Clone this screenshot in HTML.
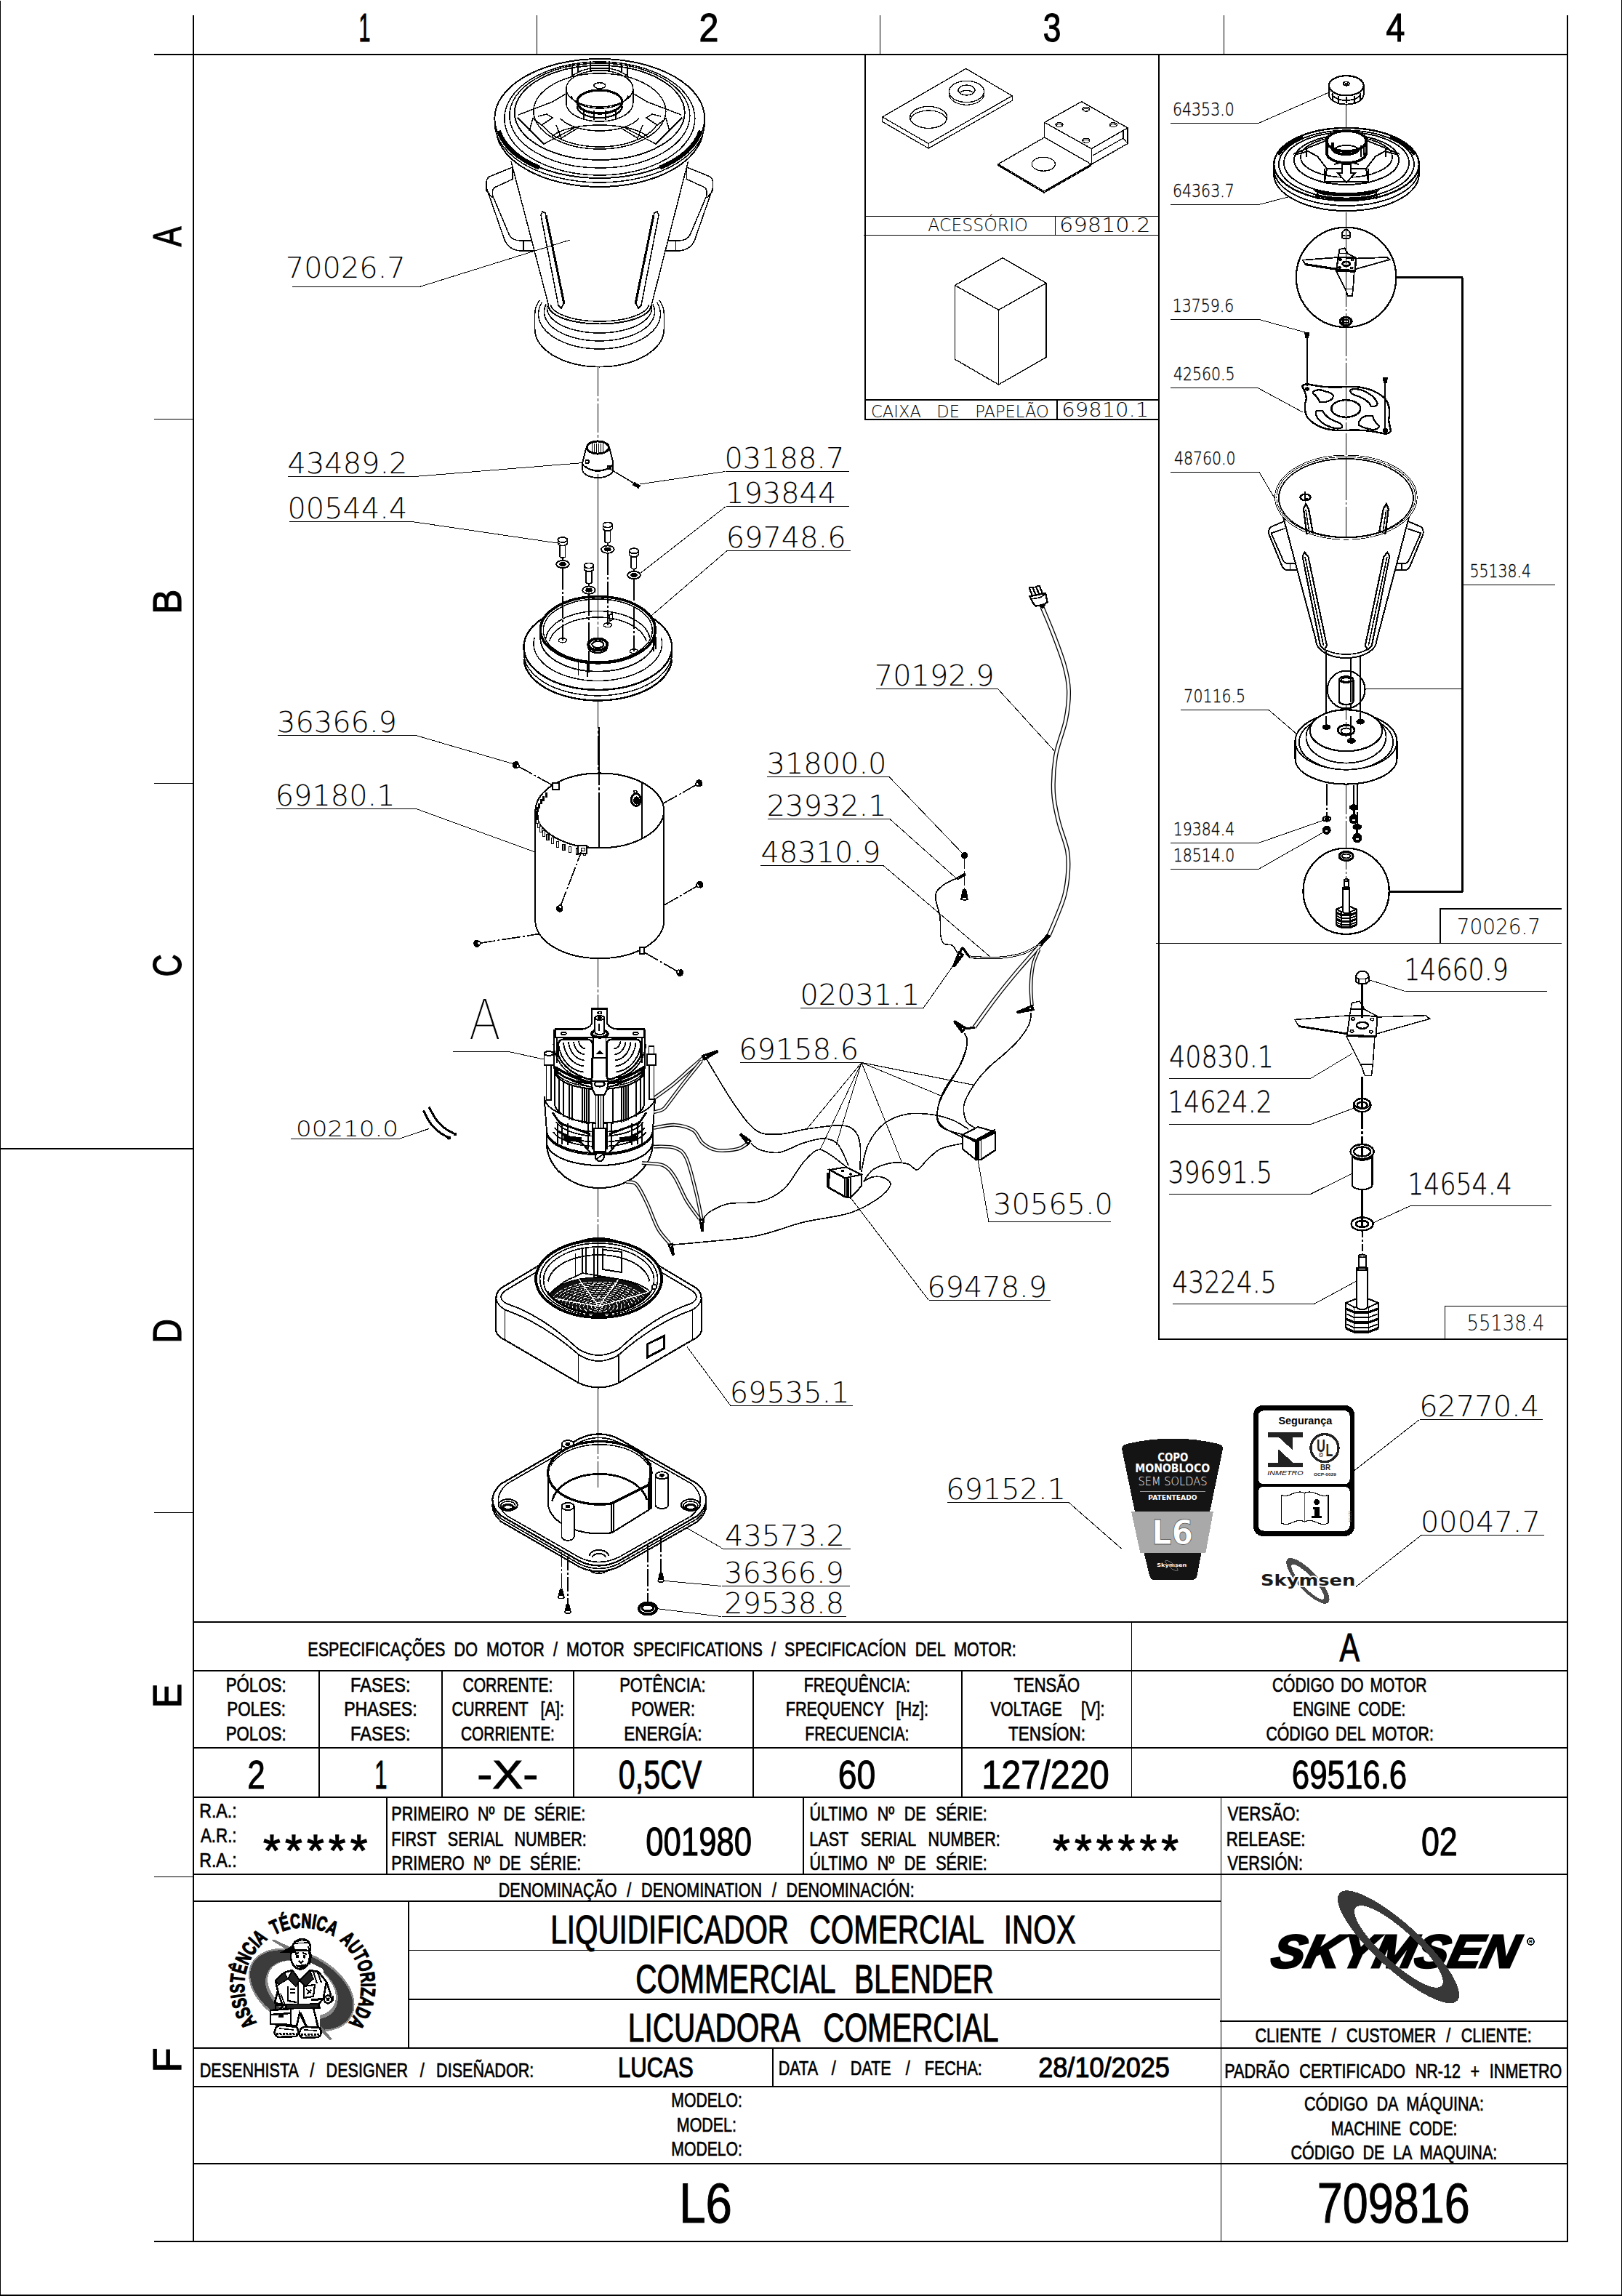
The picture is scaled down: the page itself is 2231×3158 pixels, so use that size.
<!DOCTYPE html>
<html><head><meta charset="utf-8"><title>L6 - 709816</title>
<style>html,body{margin:0;padding:0;background:#fff}svg{display:block}text{white-space:pre}</style>
</head><body>
<svg width="2231" height="3158" viewBox="0 0 2231 3158">
<rect width="2231" height="3158" fill="#fff"/>
<g shape-rendering="crispEdges">
<rect x="0" y="1" width="1" height="3157" fill="#000"/>
<rect x="2230" y="0" width="1" height="3158" fill="#000"/>
<rect x="0" y="3156" width="2231" height="2" fill="#000"/>
<rect x="265" y="21" width="2" height="3063" fill="#000"/>
<rect x="2155" y="21" width="2" height="3063" fill="#000"/>
<rect x="212" y="74" width="1945" height="2" fill="#000"/>
<rect x="212" y="3082" width="1945" height="2" fill="#000"/>
<rect x="738" y="21" width="1" height="54" fill="#000"/>
<rect x="1210" y="21" width="1" height="54" fill="#000"/>
<rect x="1683" y="21" width="1" height="54" fill="#000"/>
<rect x="212" y="576" width="54" height="1" fill="#000"/>
<rect x="212" y="1077" width="54" height="1" fill="#000"/>
<rect x="212" y="2080" width="54" height="1" fill="#000"/>
<rect x="212" y="2581" width="54" height="1" fill="#000"/>
<rect x="0" y="1579" width="266" height="2" fill="#000"/>
<rect x="1189" y="75" width="2" height="502" fill="#000"/>
<rect x="1593" y="75" width="2" height="1767" fill="#000"/>
<rect x="1190" y="297" width="404" height="1" fill="#000"/>
<rect x="1188" y="323" width="406" height="1" fill="#000"/>
<rect x="1451" y="297" width="1" height="27" fill="#000"/>
<rect x="1189" y="549" width="406" height="2" fill="#000"/>
<rect x="1189" y="576" width="406" height="2" fill="#000"/>
<rect x="1453" y="550" width="2" height="27" fill="#000"/>
<rect x="1590" y="1297" width="558" height="1" fill="#000"/>
<rect x="1980" y="1250" width="2" height="48" fill="#000"/>
<rect x="1980" y="1249" width="168" height="2" fill="#000"/>
<rect x="1593" y="1841" width="564" height="2" fill="#000"/>
<rect x="1987" y="1796" width="1" height="46" fill="#000"/>
<rect x="1987" y="1796" width="169" height="1" fill="#000"/>
<rect x="266" y="2230" width="1890" height="2" fill="#000"/>
<rect x="266" y="2297" width="1890" height="2" fill="#000"/>
<rect x="266" y="2403" width="1890" height="2" fill="#000"/>
<rect x="266" y="2471" width="1890" height="2" fill="#000"/>
<rect x="266" y="2577" width="1890" height="2" fill="#000"/>
<rect x="266" y="2816" width="1890" height="2" fill="#000"/>
<rect x="266" y="2869" width="1890" height="2" fill="#000"/>
<rect x="266" y="2975" width="1890" height="2" fill="#000"/>
<rect x="266" y="2614" width="1413" height="2" fill="#000"/>
<rect x="438" y="2298" width="2" height="174" fill="#000"/>
<rect x="607" y="2298" width="2" height="174" fill="#000"/>
<rect x="788" y="2298" width="2" height="174" fill="#000"/>
<rect x="1035" y="2298" width="2" height="174" fill="#000"/>
<rect x="1322" y="2298" width="2" height="174" fill="#000"/>
<rect x="1556" y="2231" width="1" height="241" fill="#000"/>
<rect x="531" y="2472" width="2" height="106" fill="#000"/>
<rect x="1104" y="2472" width="2" height="106" fill="#000"/>
<rect x="1679" y="2472" width="1" height="611" fill="#000"/>
<rect x="561" y="2614" width="2" height="202" fill="#000"/>
<rect x="562" y="2682" width="1116" height="1" fill="#000"/>
<rect x="562" y="2749" width="1116" height="2" fill="#000"/>
<rect x="1678" y="2779" width="478" height="2" fill="#000"/>
<rect x="1062" y="2816" width="2" height="54" fill="#000"/>
<text transform="translate(493.44 57.00) scale(0.5163 1)" font-family='"Liberation Sans", sans-serif' font-weight="normal" font-style="normal" font-size="55.65" fill="#000"  stroke="#000" stroke-width="1.2">1</text>
<text transform="translate(961.58 57.00) scale(0.8688 1)" font-family='"Liberation Sans", sans-serif' font-weight="normal" font-style="normal" font-size="55.65" fill="#000"  stroke="#000" stroke-width="1.2">2</text>
<text transform="translate(1434.73 57.00) scale(0.7944 1)" font-family='"Liberation Sans", sans-serif' font-weight="normal" font-style="normal" font-size="55.65" fill="#000"  stroke="#000" stroke-width="1.2">3</text>
<text transform="translate(1906.57 57.00) scale(0.8362 1)" font-family='"Liberation Sans", sans-serif' font-weight="normal" font-style="normal" font-size="55.65" fill="#000"  stroke="#000" stroke-width="1.2">4</text>
<g transform="translate(249 325.5) rotate(-90)"><text transform="translate(-13.75 0.00) scale(0.7411 1)" font-family='"Liberation Sans", sans-serif' font-weight="normal" font-style="normal" font-size="55.80" fill="#000"  stroke="#000" stroke-width="1.2">A</text></g>
<g transform="translate(249 827) rotate(-90)"><text transform="translate(-17.86 0.00) scale(0.9212 1)" font-family='"Liberation Sans", sans-serif' font-weight="normal" font-style="normal" font-size="55.80" fill="#000"  stroke="#000" stroke-width="1.2">B</text></g>
<g transform="translate(249 1327.5) rotate(-90)"><text transform="translate(-15.92 0.00) scale(0.7762 1)" font-family='"Liberation Sans", sans-serif' font-weight="normal" font-style="normal" font-size="55.80" fill="#000"  stroke="#000" stroke-width="1.2">C</text></g>
<g transform="translate(249 1830) rotate(-90)"><text transform="translate(-17.45 0.00) scale(0.8283 1)" font-family='"Liberation Sans", sans-serif' font-weight="normal" font-style="normal" font-size="55.80" fill="#000"  stroke="#000" stroke-width="1.2">D</text></g>
<g transform="translate(249 2331.5) rotate(-90)"><text transform="translate(-17.79 0.00) scale(0.9043 1)" font-family='"Liberation Sans", sans-serif' font-weight="normal" font-style="normal" font-size="55.80" fill="#000"  stroke="#000" stroke-width="1.2">E</text></g>
<g transform="translate(249 2832.5) rotate(-90)"><text transform="translate(-18.24 0.00) scale(1.0058 1)" font-family='"Liberation Sans", sans-serif' font-weight="normal" font-style="normal" font-size="55.80" fill="#000"  stroke="#000" stroke-width="1.2">F</text></g>
<text transform="translate(423.27 2277.90) scale(0.7750 1)" font-family='"Liberation Sans", sans-serif' font-weight="normal" font-style="normal" font-size="27.83" fill="#000" word-spacing="7.88"  stroke="#000" stroke-width="0.7">ESPECIFICAÇÕES DO MOTOR / MOTOR SPECIFICATIONS / SPECIFICACÍON DEL MOTOR:</text>
<text transform="translate(1842.50 2285.00) scale(0.7431 1)" font-family='"Liberation Sans", sans-serif' font-weight="normal" font-style="normal" font-size="55.65" fill="#000"  stroke="#000" stroke-width="1.1">A</text>
<text transform="translate(310.72 2326.90) scale(0.7997 1)" font-family='"Liberation Sans", sans-serif' font-weight="normal" font-style="normal" font-size="27.83" fill="#000"  stroke="#000" stroke-width="0.7">PÓLOS:</text>
<text transform="translate(312.21 2360.40) scale(0.8044 1)" font-family='"Liberation Sans", sans-serif' font-weight="normal" font-style="normal" font-size="27.83" fill="#000"  stroke="#000" stroke-width="0.7">POLES:</text>
<text transform="translate(310.72 2394.40) scale(0.7997 1)" font-family='"Liberation Sans", sans-serif' font-weight="normal" font-style="normal" font-size="27.83" fill="#000"  stroke="#000" stroke-width="0.7">POLOS:</text>
<text transform="translate(482.11 2326.90) scale(0.8472 1)" font-family='"Liberation Sans", sans-serif' font-weight="normal" font-style="normal" font-size="27.83" fill="#000"  stroke="#000" stroke-width="0.7">FASES:</text>
<text transform="translate(473.14 2360.40) scale(0.8336 1)" font-family='"Liberation Sans", sans-serif' font-weight="normal" font-style="normal" font-size="27.83" fill="#000"  stroke="#000" stroke-width="0.7">PHASES:</text>
<text transform="translate(482.11 2394.40) scale(0.8472 1)" font-family='"Liberation Sans", sans-serif' font-weight="normal" font-style="normal" font-size="27.83" fill="#000"  stroke="#000" stroke-width="0.7">FASES:</text>
<text transform="translate(636.45 2326.90) scale(0.7569 1)" font-family='"Liberation Sans", sans-serif' font-weight="normal" font-style="normal" font-size="27.83" fill="#000"  stroke="#000" stroke-width="0.7">CORRENTE:</text>
<text transform="translate(621.42 2360.40) scale(0.7750 1)" font-family='"Liberation Sans", sans-serif' font-weight="normal" font-style="normal" font-size="27.83" fill="#000" word-spacing="14.48"  stroke="#000" stroke-width="0.7">CURRENT [A]:</text>
<text transform="translate(633.95 2394.40) scale(0.7516 1)" font-family='"Liberation Sans", sans-serif' font-weight="normal" font-style="normal" font-size="27.83" fill="#000"  stroke="#000" stroke-width="0.7">CORRIENTE:</text>
<text transform="translate(852.24 2326.90) scale(0.7890 1)" font-family='"Liberation Sans", sans-serif' font-weight="normal" font-style="normal" font-size="27.83" fill="#000"  stroke="#000" stroke-width="0.7">POTÊNCIA:</text>
<text transform="translate(868.27 2360.40) scale(0.7770 1)" font-family='"Liberation Sans", sans-serif' font-weight="normal" font-style="normal" font-size="27.83" fill="#000"  stroke="#000" stroke-width="0.7">POWER:</text>
<text transform="translate(858.20 2394.40) scale(0.8077 1)" font-family='"Liberation Sans", sans-serif' font-weight="normal" font-style="normal" font-size="27.83" fill="#000"  stroke="#000" stroke-width="0.7">ENERGÍA:</text>
<text transform="translate(1105.79 2326.90) scale(0.7689 1)" font-family='"Liberation Sans", sans-serif' font-weight="normal" font-style="normal" font-size="27.83" fill="#000"  stroke="#000" stroke-width="0.7">FREQUÊNCIA:</text>
<text transform="translate(1080.77 2360.40) scale(0.7750 1)" font-family='"Liberation Sans", sans-serif' font-weight="normal" font-style="normal" font-size="27.83" fill="#000" word-spacing="14.09"  stroke="#000" stroke-width="0.7">FREQUENCY [Hz]:</text>
<text transform="translate(1107.31 2394.40) scale(0.7590 1)" font-family='"Liberation Sans", sans-serif' font-weight="normal" font-style="normal" font-size="27.83" fill="#000"  stroke="#000" stroke-width="0.7">FRECUENCIA:</text>
<text transform="translate(1394.56 2326.90) scale(0.7907 1)" font-family='"Liberation Sans", sans-serif' font-weight="normal" font-style="normal" font-size="27.83" fill="#000"  stroke="#000" stroke-width="0.7">TENSÃO</text>
<text transform="translate(1362.39 2360.40) scale(0.7750 1)" font-family='"Liberation Sans", sans-serif' font-weight="normal" font-style="normal" font-size="27.83" fill="#000" word-spacing="25.95"  stroke="#000" stroke-width="0.7">VOLTAGE [V]:</text>
<text transform="translate(1387.05 2394.40) scale(0.8068 1)" font-family='"Liberation Sans", sans-serif' font-weight="normal" font-style="normal" font-size="27.83" fill="#000"  stroke="#000" stroke-width="0.7">TENSÍON:</text>
<text transform="translate(1749.95 2326.90) scale(0.7549 1)" font-family='"Liberation Sans", sans-serif' font-weight="normal" font-style="normal" font-size="27.83" fill="#000" word-spacing="4.18"  stroke="#000" stroke-width="0.7">CÓDIGO DO MOTOR</text>
<text transform="translate(1778.35 2360.40) scale(0.7433 1)" font-family='"Liberation Sans", sans-serif' font-weight="normal" font-style="normal" font-size="27.83" fill="#000" word-spacing="6.11"  stroke="#000" stroke-width="0.7">ENGINE CODE:</text>
<text transform="translate(1741.43 2394.40) scale(0.7655 1)" font-family='"Liberation Sans", sans-serif' font-weight="normal" font-style="normal" font-size="27.83" fill="#000" word-spacing="4.46"  stroke="#000" stroke-width="0.7">CÓDIGO DEL MOTOR:</text>
<text transform="translate(340.30 2460.00) scale(0.7878 1)" font-family='"Liberation Sans", sans-serif' font-weight="normal" font-style="normal" font-size="55.80" fill="#000"  stroke="#000" stroke-width="1.1">2</text>
<text transform="translate(515.17 2460.00) scale(0.5562 1)" font-family='"Liberation Sans", sans-serif' font-weight="normal" font-style="normal" font-size="55.80" fill="#000"  stroke="#000" stroke-width="1.1">1</text>
<text transform="translate(656.16 2460.00) scale(1.1300 1)" font-family='"Liberation Sans", sans-serif' font-weight="normal" font-style="normal" font-size="55.80" fill="#000"  stroke="#000" stroke-width="1.1">-X-</text>
<text transform="translate(850.85 2460.00) scale(0.7385 1)" font-family='"Liberation Sans", sans-serif' font-weight="normal" font-style="normal" font-size="55.80" fill="#000"  stroke="#000" stroke-width="1.1">0,5CV</text>
<text transform="translate(1152.68 2460.00) scale(0.8305 1)" font-family='"Liberation Sans", sans-serif' font-weight="normal" font-style="normal" font-size="55.80" fill="#000"  stroke="#000" stroke-width="1.1">60</text>
<text transform="translate(1350.36 2460.00) scale(0.8693 1)" font-family='"Liberation Sans", sans-serif' font-weight="normal" font-style="normal" font-size="55.80" fill="#000"  stroke="#000" stroke-width="1.1">127/220</text>
<text transform="translate(1776.81 2460.00) scale(0.7855 1)" font-family='"Liberation Sans", sans-serif' font-weight="normal" font-style="normal" font-size="55.80" fill="#000"  stroke="#000" stroke-width="1.1">69516.6</text>
<text transform="translate(274.15 2500.40) scale(0.8327 1)" font-family='"Liberation Sans", sans-serif' font-weight="normal" font-style="normal" font-size="27.83" fill="#000"  stroke="#000" stroke-width="0.7">R.A.:</text>
<text transform="translate(276.00 2533.90) scale(0.8014 1)" font-family='"Liberation Sans", sans-serif' font-weight="normal" font-style="normal" font-size="27.83" fill="#000"  stroke="#000" stroke-width="0.7">A.R.:</text>
<text transform="translate(274.15 2567.90) scale(0.8327 1)" font-family='"Liberation Sans", sans-serif' font-weight="normal" font-style="normal" font-size="27.83" fill="#000"  stroke="#000" stroke-width="0.7">R.A.:</text>
<text transform="translate(538.27 2503.90) scale(0.7750 1)" font-family='"Liberation Sans", sans-serif' font-weight="normal" font-style="normal" font-size="27.83" fill="#000" word-spacing="7.97"  stroke="#000" stroke-width="0.7">PRIMEIRO Nº DE SÉRIE:</text>
<text transform="translate(538.27 2538.90) scale(0.7750 1)" font-family='"Liberation Sans", sans-serif' font-weight="normal" font-style="normal" font-size="27.83" fill="#000" word-spacing="12.57"  stroke="#000" stroke-width="0.7">FIRST SERIAL NUMBER:</text>
<text transform="translate(538.27 2571.90) scale(0.7750 1)" font-family='"Liberation Sans", sans-serif' font-weight="normal" font-style="normal" font-size="27.83" fill="#000" word-spacing="7.94"  stroke="#000" stroke-width="0.7">PRIMERO Nº DE SÉRIE:</text>
<text transform="translate(888.25 2552.00) scale(0.7834 1)" font-family='"Liberation Sans", sans-serif' font-weight="normal" font-style="normal" font-size="55.80" fill="#000"  stroke="#000" stroke-width="1.1">001980</text>
<text transform="translate(1113.38 2503.90) scale(0.7750 1)" font-family='"Liberation Sans", sans-serif' font-weight="normal" font-style="normal" font-size="27.83" fill="#000" word-spacing="9.74"  stroke="#000" stroke-width="0.7">ÚLTIMO Nº DE SÉRIE:</text>
<text transform="translate(1113.27 2538.90) scale(0.7750 1)" font-family='"Liberation Sans", sans-serif' font-weight="normal" font-style="normal" font-size="27.83" fill="#000" word-spacing="14.05"  stroke="#000" stroke-width="0.7">LAST SERIAL NUMBER:</text>
<text transform="translate(1113.38 2571.90) scale(0.7750 1)" font-family='"Liberation Sans", sans-serif' font-weight="normal" font-style="normal" font-size="27.83" fill="#000" word-spacing="9.74"  stroke="#000" stroke-width="0.7">ÚLTIMO Nº DE SÉRIE:</text>
<text transform="translate(1688.39 2503.90) scale(0.8055 1)" font-family='"Liberation Sans", sans-serif' font-weight="normal" font-style="normal" font-size="27.83" fill="#000"  stroke="#000" stroke-width="0.7">VERSÃO:</text>
<text transform="translate(1686.72 2538.90) scale(0.7995 1)" font-family='"Liberation Sans", sans-serif' font-weight="normal" font-style="normal" font-size="27.83" fill="#000"  stroke="#000" stroke-width="0.7">RELEASE:</text>
<text transform="translate(1688.39 2571.90) scale(0.7794 1)" font-family='"Liberation Sans", sans-serif' font-weight="normal" font-style="normal" font-size="27.83" fill="#000"  stroke="#000" stroke-width="0.7">VERSIÓN:</text>
<text transform="translate(1954.91 2552.00) scale(0.8030 1)" font-family='"Liberation Sans", sans-serif' font-weight="normal" font-style="normal" font-size="55.80" fill="#000"  stroke="#000" stroke-width="1.1">02</text>
<text transform="translate(685.77 2608.90) scale(0.7750 1)" font-family='"Liberation Sans", sans-serif' font-weight="normal" font-style="normal" font-size="27.83" fill="#000" word-spacing="10.03"  stroke="#000" stroke-width="0.7">DENOMINAÇÃO / DENOMINATION / DENOMINACIÓN:</text>
<text transform="translate(757.27 2672.90) scale(0.7300 1)" font-family='"Liberation Sans", sans-serif' font-weight="normal" font-style="normal" font-size="55.36" fill="#000" word-spacing="23.76"  stroke="#000" stroke-width="1.1">LIQUIDIFICADOR COMERCIAL INOX</text>
<text transform="translate(874.27 2740.50) scale(0.7300 1)" font-family='"Liberation Sans", sans-serif' font-weight="normal" font-style="normal" font-size="55.65" fill="#000" word-spacing="21.38"  stroke="#000" stroke-width="1.1">COMMERCIAL BLENDER</text>
<text transform="translate(863.85 2807.90) scale(0.7300 1)" font-family='"Liberation Sans", sans-serif' font-weight="normal" font-style="normal" font-size="55.65" fill="#000" word-spacing="30.62"  stroke="#000" stroke-width="1.1">LICUADORA COMERCIAL</text>
<text transform="translate(274.77 2856.90) scale(0.7750 1)" font-family='"Liberation Sans", sans-serif' font-weight="normal" font-style="normal" font-size="27.83" fill="#000" word-spacing="13.53"  stroke="#000" stroke-width="0.7">DESENHISTA / DESIGNER / DISEÑADOR:</text>
<text transform="translate(850.01 2857.30) scale(0.7991 1)" font-family='"Liberation Sans", sans-serif' font-weight="normal" font-style="normal" font-size="38.99" fill="#000"  stroke="#000" stroke-width="1.1">LUCAS</text>
<text transform="translate(1070.77 2853.90) scale(0.7750 1)" font-family='"Liberation Sans", sans-serif' font-weight="normal" font-style="normal" font-size="27.83" fill="#000" word-spacing="18.10"  stroke="#000" stroke-width="0.7">DATA / DATE / FECHA:</text>
<text transform="translate(1428.19 2857.30) scale(0.9263 1)" font-family='"Liberation Sans", sans-serif' font-weight="normal" font-style="normal" font-size="38.99" fill="#000"  stroke="#000" stroke-width="1.1">28/10/2025</text>
<text transform="translate(1726.42 2808.90) scale(0.7750 1)" font-family='"Liberation Sans", sans-serif' font-weight="normal" font-style="normal" font-size="27.83" fill="#000" word-spacing="10.78"  stroke="#000" stroke-width="0.7">CLIENTE / CUSTOMER / CLIENTE:</text>
<text transform="translate(1684.27 2857.90) scale(0.7750 1)" font-family='"Liberation Sans", sans-serif' font-weight="normal" font-style="normal" font-size="27.83" fill="#000" word-spacing="9.91"  stroke="#000" stroke-width="0.7">PADRÃO CERTIFICADO NR-12 + INMETRO</text>
<text transform="translate(923.31 2897.90) scale(0.7608 1)" font-family='"Liberation Sans", sans-serif' font-weight="normal" font-style="normal" font-size="27.83" fill="#000"  stroke="#000" stroke-width="0.7">MODELO:</text>
<text transform="translate(930.78 2931.90) scale(0.7708 1)" font-family='"Liberation Sans", sans-serif' font-weight="normal" font-style="normal" font-size="27.83" fill="#000"  stroke="#000" stroke-width="0.7">MODEL:</text>
<text transform="translate(923.31 2965.40) scale(0.7608 1)" font-family='"Liberation Sans", sans-serif' font-weight="normal" font-style="normal" font-size="27.83" fill="#000"  stroke="#000" stroke-width="0.7">MODELO:</text>
<text transform="translate(1793.92 2902.90) scale(0.7750 1)" font-family='"Liberation Sans", sans-serif' font-weight="normal" font-style="normal" font-size="27.83" fill="#000" word-spacing="7.92"  stroke="#000" stroke-width="0.7">CÓDIGO DA MÁQUINA:</text>
<text transform="translate(1830.83 2936.90) scale(0.7516 1)" font-family='"Liberation Sans", sans-serif' font-weight="normal" font-style="normal" font-size="27.83" fill="#000" word-spacing="6.79"  stroke="#000" stroke-width="0.7">MACHINE CODE:</text>
<text transform="translate(1775.42 2970.40) scale(0.7750 1)" font-family='"Liberation Sans", sans-serif' font-weight="normal" font-style="normal" font-size="27.83" fill="#000" word-spacing="7.24"  stroke="#000" stroke-width="0.7">CÓDIGO DE LA MAQUINA:</text>
<text transform="translate(934.27 3056.80) scale(0.8351 1)" font-family='"Liberation Sans", sans-serif' font-weight="normal" font-style="normal" font-size="78.26" fill="#000"  stroke="#000" stroke-width="1.1">L6</text>
<text transform="translate(1811.86 3056.80) scale(0.8033 1)" font-family='"Liberation Sans", sans-serif' font-weight="normal" font-style="normal" font-size="78.26" fill="#000"  stroke="#000" stroke-width="1.1">709816</text>
<text transform="translate(362.08 2565.63) scale(0.9857 1)" font-family='"Liberation Sans", sans-serif' font-size="62.00" stroke="#000" stroke-width="1.3">*</text><text transform="translate(392.01 2565.63) scale(0.9857 1)" font-family='"Liberation Sans", sans-serif' font-size="62.00" stroke="#000" stroke-width="1.3">*</text><text transform="translate(421.93 2565.63) scale(0.9857 1)" font-family='"Liberation Sans", sans-serif' font-size="62.00" stroke="#000" stroke-width="1.3">*</text><text transform="translate(451.86 2565.63) scale(0.9857 1)" font-family='"Liberation Sans", sans-serif' font-size="62.00" stroke="#000" stroke-width="1.3">*</text><text transform="translate(481.78 2565.63) scale(0.9857 1)" font-family='"Liberation Sans", sans-serif' font-size="62.00" stroke="#000" stroke-width="1.3">*</text>
<text transform="translate(1448.08 2565.63) scale(0.9857 1)" font-family='"Liberation Sans", sans-serif' font-size="62.00" stroke="#000" stroke-width="1.3">*</text><text transform="translate(1477.92 2565.63) scale(0.9857 1)" font-family='"Liberation Sans", sans-serif' font-size="62.00" stroke="#000" stroke-width="1.3">*</text><text transform="translate(1507.76 2565.63) scale(0.9857 1)" font-family='"Liberation Sans", sans-serif' font-size="62.00" stroke="#000" stroke-width="1.3">*</text><text transform="translate(1537.60 2565.63) scale(0.9857 1)" font-family='"Liberation Sans", sans-serif' font-size="62.00" stroke="#000" stroke-width="1.3">*</text><text transform="translate(1567.44 2565.63) scale(0.9857 1)" font-family='"Liberation Sans", sans-serif' font-size="62.00" stroke="#000" stroke-width="1.3">*</text><text transform="translate(1597.28 2565.63) scale(0.9857 1)" font-family='"Liberation Sans", sans-serif' font-size="62.00" stroke="#000" stroke-width="1.3">*</text>
<text transform="translate(392.81 382.00) scale(1.0400 1)" font-family='"DejaVu Sans Light", "DejaVu Sans", sans-serif' font-weight="200" font-style="normal" font-size="38.36" fill="#000" >70026.7</text>
<polyline points="402,394.5 577,394.5" fill="none" stroke="#000" stroke-width="1" />
<polyline points="577,394.5 784,330" fill="none" stroke="#000" stroke-width="1" />
<text transform="translate(395.51 651.30) scale(1.0400 1)" font-family='"DejaVu Sans Light", "DejaVu Sans", sans-serif' font-weight="200" font-style="normal" font-size="38.36" fill="#000" >43489.2</text>
<polyline points="396,655.5 570,655.5" fill="none" stroke="#000" stroke-width="1" />
<polyline points="570,655.5 802,636.5" fill="none" stroke="#000" stroke-width="1" />
<text transform="translate(395.41 712.80) scale(1.0400 1)" font-family='"DejaVu Sans Light", "DejaVu Sans", sans-serif' font-weight="200" font-style="normal" font-size="38.36" fill="#000" >00544.4</text>
<polyline points="398,717.5 567,717.5" fill="none" stroke="#000" stroke-width="1" />
<polyline points="567,717.5 770,747.5" fill="none" stroke="#000" stroke-width="1" />
<text transform="translate(996.41 644.30) scale(1.0400 1)" font-family='"DejaVu Sans Light", "DejaVu Sans", sans-serif' font-weight="200" font-style="normal" font-size="38.36" fill="#000" >03188.7</text>
<polyline points="997.5,648.5 1167.5,648.5" fill="none" stroke="#000" stroke-width="1" />
<polyline points="997.5,648.5 880,666" fill="none" stroke="#000" stroke-width="1" />
<text transform="translate(998.11 691.80) scale(1.0400 1)" font-family='"DejaVu Sans Light", "DejaVu Sans", sans-serif' font-weight="200" font-style="normal" font-size="38.36" fill="#000" >193844</text>
<polyline points="998.5,696.5 1167.5,696.5" fill="none" stroke="#000" stroke-width="1" />
<polyline points="998.5,696.5 880,789" fill="none" stroke="#000" stroke-width="1" />
<text transform="translate(998.71 753.30) scale(1.0400 1)" font-family='"DejaVu Sans Light", "DejaVu Sans", sans-serif' font-weight="200" font-style="normal" font-size="38.36" fill="#000" >69748.6</text>
<polyline points="1000,757.5 1170,757.5" fill="none" stroke="#000" stroke-width="1" />
<polyline points="1000,757.5 895,847.5" fill="none" stroke="#000" stroke-width="1" />
<text transform="translate(381.01 1006.80) scale(1.0400 1)" font-family='"DejaVu Sans Light", "DejaVu Sans", sans-serif' font-weight="200" font-style="normal" font-size="38.36" fill="#000" >36366.9</text>
<polyline points="382,1011.5 572,1011.5" fill="none" stroke="#000" stroke-width="1" />
<polyline points="572,1011.5 707,1051" fill="none" stroke="#000" stroke-width="1" />
<text transform="translate(378.71 1108.30) scale(1.0400 1)" font-family='"DejaVu Sans Light", "DejaVu Sans", sans-serif' font-weight="200" font-style="normal" font-size="38.36" fill="#000" >69180.1</text>
<polyline points="380,1112.5 572.5,1112.5" fill="none" stroke="#000" stroke-width="1" />
<polyline points="572.5,1112.5 737.5,1172.5" fill="none" stroke="#000" stroke-width="1" />
<text transform="translate(1202.81 943.30) scale(1.0400 1)" font-family='"DejaVu Sans Light", "DejaVu Sans", sans-serif' font-weight="200" font-style="normal" font-size="38.36" fill="#000" >70192.9</text>
<polyline points="1205,947.5 1372.5,947.5" fill="none" stroke="#000" stroke-width="1" />
<polyline points="1372.5,947.5 1450,1032.5" fill="none" stroke="#000" stroke-width="1" />
<text transform="translate(1054.51 1064.30) scale(1.0400 1)" font-family='"DejaVu Sans Light", "DejaVu Sans", sans-serif' font-weight="200" font-style="normal" font-size="38.36" fill="#000" >31800.0</text>
<polyline points="1055,1068.5 1223,1068.5" fill="none" stroke="#000" stroke-width="1" />
<polyline points="1223,1068.5 1325,1175" fill="none" stroke="#000" stroke-width="1" />
<text transform="translate(1054.71 1121.80) scale(1.0400 1)" font-family='"DejaVu Sans Light", "DejaVu Sans", sans-serif' font-weight="200" font-style="normal" font-size="38.36" fill="#000" >23932.1</text>
<polyline points="1056,1126.5 1224,1126.5" fill="none" stroke="#000" stroke-width="1" />
<polyline points="1224,1126.5 1317.5,1210" fill="none" stroke="#000" stroke-width="1" />
<text transform="translate(1046.51 1185.80) scale(1.0400 1)" font-family='"DejaVu Sans Light", "DejaVu Sans", sans-serif' font-weight="200" font-style="normal" font-size="38.36" fill="#000" >48310.9</text>
<polyline points="1046,1190.5 1215,1190.5" fill="none" stroke="#000" stroke-width="1" />
<polyline points="1215,1190.5 1362.5,1316.5" fill="none" stroke="#000" stroke-width="1" />
<text transform="translate(1100.41 1382.30) scale(1.0400 1)" font-family='"DejaVu Sans Light", "DejaVu Sans", sans-serif' font-weight="200" font-style="normal" font-size="38.36" fill="#000" >02031.1</text>
<polyline points="1101,1386.5 1270,1386.5" fill="none" stroke="#000" stroke-width="1" />
<polyline points="1270,1386.5 1315,1322.5" fill="none" stroke="#000" stroke-width="1" />
<text transform="translate(1016.21 1457.30) scale(1.0400 1)" font-family='"DejaVu Sans Light", "DejaVu Sans", sans-serif' font-weight="200" font-style="normal" font-size="38.36" fill="#000" >69158.6</text>
<polyline points="1017.5,1461.5 1185,1461.5" fill="none" stroke="#000" stroke-width="1" />
<polyline points="1185,1461.5 1340,1492.5" fill="none" stroke="#000" stroke-width="1" />
<polyline points="1185,1461.5 1295,1507.5" fill="none" stroke="#000" stroke-width="1" />
<polyline points="1185,1461.5 1110,1552.5" fill="none" stroke="#000" stroke-width="1" />
<polyline points="1185,1461.5 1127.5,1582.5" fill="none" stroke="#000" stroke-width="1" />
<polyline points="1185,1461.5 1150,1575" fill="none" stroke="#000" stroke-width="1" />
<polyline points="1185,1461.5 1240,1597.5" fill="none" stroke="#000" stroke-width="1" />
<text transform="translate(644.54 1430.00) scale(0.8592 1)" font-family='"DejaVu Sans Light", "DejaVu Sans", sans-serif' font-weight="200" font-style="normal" font-size="76.03" fill="#000" stroke="#fff" stroke-width="1.1">A</text>
<polyline points="622.5,1446.5 700,1446.5" fill="none" stroke="#000" stroke-width="1" />
<polyline points="700,1446.5 750,1457.5" fill="none" stroke="#000" stroke-width="1" />
<text transform="translate(406.93 1562.50) scale(1.1075 1)" font-family='"DejaVu Sans Light", "DejaVu Sans", sans-serif' font-weight="200" font-style="normal" font-size="30.82" fill="#000" >00210.0</text>
<polyline points="400,1566.5 548.5,1566.5" fill="none" stroke="#000" stroke-width="1" />
<polyline points="548.5,1566.5 590,1552.5" fill="none" stroke="#000" stroke-width="1" />
<text transform="translate(1366.01 1670.00) scale(1.0400 1)" font-family='"DejaVu Sans Light", "DejaVu Sans", sans-serif' font-weight="200" font-style="normal" font-size="38.36" fill="#000" >30565.0</text>
<polyline points="1360,1680.5 1527.5,1680.5" fill="none" stroke="#000" stroke-width="1" />
<polyline points="1360,1680.5 1345,1595" fill="none" stroke="#000" stroke-width="1" />
<text transform="translate(1275.21 1783.80) scale(1.0400 1)" font-family='"DejaVu Sans Light", "DejaVu Sans", sans-serif' font-weight="200" font-style="normal" font-size="38.36" fill="#000" >69478.9</text>
<polyline points="1277.5,1788.5 1445,1788.5" fill="none" stroke="#000" stroke-width="1" />
<polyline points="1277.5,1788.5 1170,1647.5" fill="none" stroke="#000" stroke-width="1" />
<text transform="translate(1003.71 1929.30) scale(1.0400 1)" font-family='"DejaVu Sans Light", "DejaVu Sans", sans-serif' font-weight="200" font-style="normal" font-size="38.36" fill="#000" >69535.1</text>
<polyline points="1005,1933.5 1172.5,1933.5" fill="none" stroke="#000" stroke-width="1" />
<polyline points="1005,1933.5 945,1852.5" fill="none" stroke="#000" stroke-width="1" />
<text transform="translate(1301.21 2061.80) scale(1.0400 1)" font-family='"DejaVu Sans Light", "DejaVu Sans", sans-serif' font-weight="200" font-style="normal" font-size="38.36" fill="#000" >69152.1</text>
<polyline points="1302.5,2066.5 1470,2066.5" fill="none" stroke="#000" stroke-width="1" />
<polyline points="1470,2066.5 1542.5,2130" fill="none" stroke="#000" stroke-width="1" />
<text transform="translate(997.01 2125.80) scale(1.0400 1)" font-family='"DejaVu Sans Light", "DejaVu Sans", sans-serif' font-weight="200" font-style="normal" font-size="38.36" fill="#000" >43573.2</text>
<polyline points="995,2130.5 1170,2130.5" fill="none" stroke="#000" stroke-width="1" />
<polyline points="995,2130.5 937.5,2097.5" fill="none" stroke="#000" stroke-width="1" />
<text transform="translate(996.01 2177.30) scale(1.0400 1)" font-family='"DejaVu Sans Light", "DejaVu Sans", sans-serif' font-weight="200" font-style="normal" font-size="38.36" fill="#000" >36366.9</text>
<polyline points="992.5,2181.5 1168.5,2181.5" fill="none" stroke="#000" stroke-width="1" />
<polyline points="992.5,2181.5 910,2174" fill="none" stroke="#000" stroke-width="1" />
<text transform="translate(996.21 2219.30) scale(1.0400 1)" font-family='"DejaVu Sans Light", "DejaVu Sans", sans-serif' font-weight="200" font-style="normal" font-size="38.36" fill="#000" >29538.8</text>
<polyline points="992.5,2223.5 1164,2223.5" fill="none" stroke="#000" stroke-width="1" />
<polyline points="992.5,2223.5 902.5,2212.5" fill="none" stroke="#000" stroke-width="1" />
<text transform="translate(1952.21 1948.30) scale(1.0400 1)" font-family='"DejaVu Sans Light", "DejaVu Sans", sans-serif' font-weight="200" font-style="normal" font-size="38.36" fill="#000" >62770.4</text>
<polyline points="1952.5,1952.5 2121.5,1952.5" fill="none" stroke="#000" stroke-width="1" />
<polyline points="1952.5,1952.5 1863,2022.5" fill="none" stroke="#000" stroke-width="1" />
<text transform="translate(1953.91 2107.30) scale(1.0400 1)" font-family='"DejaVu Sans Light", "DejaVu Sans", sans-serif' font-weight="200" font-style="normal" font-size="38.36" fill="#000" >00047.7</text>
<polyline points="1955,2111.5 2124,2111.5" fill="none" stroke="#000" stroke-width="1" />
<polyline points="1955,2111.5 1865,2182.5" fill="none" stroke="#000" stroke-width="1" />
<text transform="translate(1613.06 159.10) scale(0.8300 1)" font-family='"DejaVu Sans Light", "DejaVu Sans", sans-serif' font-weight="200" font-style="normal" font-size="24.66" fill="#000"  stroke="#000" stroke-width="0.35">64353.0</text>
<polyline points="1610,169.5 1731,169.5" fill="none" stroke="#000" stroke-width="1" />
<polyline points="1731,169.5 1827,127.5" fill="none" stroke="#000" stroke-width="1" />
<text transform="translate(1613.06 270.60) scale(0.8300 1)" font-family='"DejaVu Sans Light", "DejaVu Sans", sans-serif' font-weight="200" font-style="normal" font-size="24.66" fill="#000"  stroke="#000" stroke-width="0.35">64363.7</text>
<polyline points="1610,281.5 1731,281.5" fill="none" stroke="#000" stroke-width="1" />
<polyline points="1731,281.5 1776,270" fill="none" stroke="#000" stroke-width="1" />
<text transform="translate(1612.75 428.60) scale(0.8300 1)" font-family='"DejaVu Sans Light", "DejaVu Sans", sans-serif' font-weight="200" font-style="normal" font-size="24.66" fill="#000"  stroke="#000" stroke-width="0.35">13759.6</text>
<polyline points="1610,439.5 1732,439.5" fill="none" stroke="#000" stroke-width="1" />
<polyline points="1732,439.5 1795,457" fill="none" stroke="#000" stroke-width="1" />
<text transform="translate(1613.98 522.60) scale(0.8300 1)" font-family='"DejaVu Sans Light", "DejaVu Sans", sans-serif' font-weight="200" font-style="normal" font-size="24.66" fill="#000"  stroke="#000" stroke-width="0.35">42560.5</text>
<polyline points="1610,533.5 1730,533.5" fill="none" stroke="#000" stroke-width="1" />
<polyline points="1730,533.5 1792,567" fill="none" stroke="#000" stroke-width="1" />
<text transform="translate(1614.98 638.60) scale(0.8300 1)" font-family='"DejaVu Sans Light", "DejaVu Sans", sans-serif' font-weight="200" font-style="normal" font-size="24.66" fill="#000"  stroke="#000" stroke-width="0.35">48760.0</text>
<polyline points="1610,649.5 1732,649.5" fill="none" stroke="#000" stroke-width="1" />
<polyline points="1732,649.5 1765,705" fill="none" stroke="#000" stroke-width="1" />
<text transform="translate(2021.45 793.60) scale(0.8300 1)" font-family='"DejaVu Sans Light", "DejaVu Sans", sans-serif' font-weight="200" font-style="normal" font-size="24.66" fill="#000"  stroke="#000" stroke-width="0.35">55138.4</text>
<polyline points="2011.5,804.5 2139,804.5" fill="none" stroke="#000" stroke-width="1" />
<text transform="translate(1628.36 966.10) scale(0.8300 1)" font-family='"DejaVu Sans Light", "DejaVu Sans", sans-serif' font-weight="200" font-style="normal" font-size="24.66" fill="#000"  stroke="#000" stroke-width="0.35">70116.5</text>
<polyline points="1624,976.5 1745,976.5" fill="none" stroke="#000" stroke-width="1" />
<polyline points="1745,976.5 1784,1010" fill="none" stroke="#000" stroke-width="1" />
<text transform="translate(1613.75 1148.60) scale(0.8300 1)" font-family='"DejaVu Sans Light", "DejaVu Sans", sans-serif' font-weight="200" font-style="normal" font-size="24.66" fill="#000"  stroke="#000" stroke-width="0.35">19384.4</text>
<polyline points="1610,1159.5 1731,1159.5" fill="none" stroke="#000" stroke-width="1" />
<polyline points="1731,1159.5 1822.5,1127.5" fill="none" stroke="#000" stroke-width="1" />
<text transform="translate(1613.75 1185.10) scale(0.8300 1)" font-family='"DejaVu Sans Light", "DejaVu Sans", sans-serif' font-weight="200" font-style="normal" font-size="24.66" fill="#000"  stroke="#000" stroke-width="0.35">18514.0</text>
<polyline points="1610,1195.5 1731,1195.5" fill="none" stroke="#000" stroke-width="1" />
<polyline points="1731,1195.5 1822.5,1143.5" fill="none" stroke="#000" stroke-width="1" />
<text transform="translate(1931.18 1347.50) scale(0.8600 1)" font-family='"DejaVu Sans Light", "DejaVu Sans", sans-serif' font-weight="200" font-style="normal" font-size="40.41" fill="#000"  stroke="#000" stroke-width="0.3">14660.9</text>
<polyline points="1932.5,1363.5 2127.5,1363.5" fill="none" stroke="#000" stroke-width="1" />
<polyline points="1932.5,1363.5 1882.5,1347.5" fill="none" stroke="#000" stroke-width="1" />
<text transform="translate(1608.26 1467.50) scale(0.8600 1)" font-family='"DejaVu Sans Light", "DejaVu Sans", sans-serif' font-weight="200" font-style="normal" font-size="40.41" fill="#000"  stroke="#000" stroke-width="0.3">40830.1</text>
<polyline points="1608,1483.5 1802.5,1483.5" fill="none" stroke="#000" stroke-width="1" />
<polyline points="1802.5,1483.5 1860,1449" fill="none" stroke="#000" stroke-width="1" />
<text transform="translate(1606.18 1530.00) scale(0.8600 1)" font-family='"DejaVu Sans Light", "DejaVu Sans", sans-serif' font-weight="200" font-style="normal" font-size="40.41" fill="#000"  stroke="#000" stroke-width="0.3">14624.2</text>
<polyline points="1608,1546.5 1802.5,1546.5" fill="none" stroke="#000" stroke-width="1" />
<polyline points="1802.5,1546.5 1862.5,1524" fill="none" stroke="#000" stroke-width="1" />
<text transform="translate(1606.39 1626.50) scale(0.8600 1)" font-family='"DejaVu Sans Light", "DejaVu Sans", sans-serif' font-weight="200" font-style="normal" font-size="40.41" fill="#000"  stroke="#000" stroke-width="0.3">39691.5</text>
<polyline points="1608,1642.5 1802.5,1642.5" fill="none" stroke="#000" stroke-width="1" />
<polyline points="1802.5,1642.5 1860,1614" fill="none" stroke="#000" stroke-width="1" />
<text transform="translate(1936.18 1642.50) scale(0.8600 1)" font-family='"DejaVu Sans Light", "DejaVu Sans", sans-serif' font-weight="200" font-style="normal" font-size="40.41" fill="#000"  stroke="#000" stroke-width="0.3">14654.4</text>
<polyline points="1940,1658.5 2133.5,1658.5" fill="none" stroke="#000" stroke-width="1" />
<polyline points="1940,1658.5 1887.5,1682.5" fill="none" stroke="#000" stroke-width="1" />
<text transform="translate(1612.26 1777.50) scale(0.8600 1)" font-family='"DejaVu Sans Light", "DejaVu Sans", sans-serif' font-weight="200" font-style="normal" font-size="40.41" fill="#000"  stroke="#000" stroke-width="0.3">43224.5</text>
<polyline points="1612.5,1793.5 1807.5,1793.5" fill="none" stroke="#000" stroke-width="1" />
<polyline points="1807.5,1793.5 1865,1762.5" fill="none" stroke="#000" stroke-width="1" />
<text transform="translate(2003.77 1285.00) scale(0.9047 1)" font-family='"DejaVu Sans Light", "DejaVu Sans", sans-serif' font-weight="200" font-style="normal" font-size="30.82" fill="#000" >70026.7</text>
<text transform="translate(2017.41 1830.00) scale(0.8800 1)" font-family='"DejaVu Sans Light", "DejaVu Sans", sans-serif' font-weight="200" font-style="normal" font-size="29.45" fill="#000" >55138.4</text>
<text transform="translate(1276.29 318.40) scale(0.9845 1)" font-family='"DejaVu Sans Light", "DejaVu Sans", sans-serif' font-weight="200" font-style="normal" font-size="23.97" fill="#000" >ACESSÓRIO</text>
<text transform="translate(1457.12 319.40) scale(1.1070 1)" font-family='"DejaVu Sans Light", "DejaVu Sans", sans-serif' font-weight="200" font-style="normal" font-size="27.40" fill="#000" >69810.2</text>
<text transform="translate(1198.08 573.70) scale(0.9700 1)" font-family='"DejaVu Sans Light", "DejaVu Sans", sans-serif' font-weight="200" font-style="normal" font-size="23.29" fill="#000" word-spacing="14.66" >CAIXA DE PAPELÃO</text>
<text transform="translate(1460.24 572.80) scale(1.1159 1)" font-family='"DejaVu Sans Light", "DejaVu Sans", sans-serif' font-weight="200" font-style="normal" font-size="26.03" fill="#000" >69810.1</text>
<polyline points="822.5,505 822.5,612" fill="none" stroke="#000" stroke-width="1.8" stroke-dasharray="40 3 4 3"/>
<polyline points="822.5,652 822.5,820" fill="none" stroke="#000" stroke-width="1.8" stroke-dasharray="40 3 4 3"/>
<polyline points="822.5,962 822.5,1165" fill="none" stroke="#000" stroke-width="1.8" stroke-dasharray="40 3 4 3"/>
<polyline points="822.5,1318 822.5,1388" fill="none" stroke="#000" stroke-width="1.8" stroke-dasharray="40 3 4 3"/>
<polyline points="822.5,1634 822.5,1706" fill="none" stroke="#000" stroke-width="1.8" stroke-dasharray="40 3 4 3"/>
<polyline points="822.5,1909 822.5,2028" fill="none" stroke="#000" stroke-width="1.8" stroke-dasharray="40 3 4 3"/>
<ellipse cx="824.8" cy="163" rx="144.5" ry="82" fill="none" stroke="#000" stroke-width="1.95" />
<polyline points="969.3,169 968.5,177.6 966.1,186 962.2,194.3 956.8,202.4 949.9,210 941.7,217.2 932.2,223.9 921.5,229.9 909.7,235.3 897,240 883.6,243.9 869.5,247 854.8,249.2 839.9,250.6 824.8,251 809.7,250.6 794.8,249.2 780.1,247 766,243.9 752.5,240 739.9,235.3 728.1,229.9 717.4,223.9 707.9,217.2 699.7,210 692.8,202.4 687.4,194.3 683.5,186 681.1,177.6 680.3,169" fill="none" stroke="#000" stroke-width="1.5" />
<polyline points="966.4,186.4 963.5,194.9 959,203.2 953.1,211.2 945.7,218.8 936.9,225.9 926.9,232.4 915.7,238.3 903.5,243.5 890.5,247.8 876.7,251.4 862.3,254.1 847.4,256 832.4,256.9 817.2,256.9 802.2,256 787.3,254.1 772.9,251.4 759.1,247.8 746.1,243.5 733.9,238.3 722.7,232.4 712.7,225.9 703.9,218.8 696.5,211.2 690.6,203.2 686.1,194.9 683.2,186.4" fill="none" stroke="#000" stroke-width="1.95" />
<ellipse cx="824.8" cy="163" rx="131" ry="78" fill="none" stroke="#000" stroke-width="1.5" />
<ellipse cx="824.8" cy="159" rx="124" ry="72" fill="none" stroke="#000" stroke-width="1.5" />
<ellipse cx="824.8" cy="155" rx="117" ry="65" fill="none" stroke="#000" stroke-width="1.8" />
<ellipse cx="824.8" cy="153" rx="91" ry="52" fill="none" stroke="#000" stroke-width="1.5" />
<polyline points="903.7,171.7 900.2,176.2 895.9,180.5 890.8,184.5 884.9,188.2 878.3,191.5 871.1,194.4 863.4,196.8 855.3,198.9 846.8,200.4 838.1,201.4 829.3,201.9 820.3,201.9 811.5,201.4 802.8,200.4 794.3,198.9 786.2,196.8 778.5,194.4 771.3,191.5 764.7,188.2 758.8,184.5 753.7,180.5 749.4,176.2 745.9,171.7" fill="none" stroke="#000" stroke-width="1.5" />
<polyline points="879.2,162.7 876.1,165.5 872.5,168.2 868.3,170.7 863.6,172.9 858.4,174.9 852.8,176.5 847,177.9 840.8,178.9 834.5,179.6 828,180 821.6,180 815.1,179.6 808.8,178.9 802.6,177.9 796.8,176.5 791.2,174.9 786,172.9 781.3,170.7 777.1,168.2 773.5,165.5 770.4,162.7" fill="none" stroke="#000" stroke-width="1.5" />
<polyline points="741.9,230.7 731.4,225.9 721.7,220.6 712.9,214.7 705.2,208.4 698.6,201.7 693.2,194.7 688.9,187.4 685.9,179.9" fill="none" stroke="#000" stroke-width="6" />
<polyline points="963.7,179.9 960.7,187.4 956.4,194.7 951,201.7 944.4,208.4 936.7,214.7 927.9,220.6 918.2,225.9 907.7,230.7" fill="none" stroke="#000" stroke-width="6" />
<ellipse cx="824.8" cy="122" rx="46" ry="25" fill="none" stroke="#000" stroke-width="1.5" />
<polyline points="870.8,142 870.5,144.6 869.8,147.2 868.5,149.7 866.8,152.2 864.6,154.5 862,156.7 859,158.7 855.6,160.6 851.8,162.2 847.8,163.7 843.5,164.8 839,165.8 834.4,166.5 829.6,166.9 824.8,167 820,166.9 815.2,166.5 810.6,165.8 806.1,164.8 801.8,163.7 797.8,162.2 794,160.6 790.6,158.7 787.6,156.7 785,154.5 782.8,152.2 781.1,149.7 779.8,147.2 779.1,144.6 778.8,142" fill="none" stroke="#000" stroke-width="1.5" />
<polyline points="778.8,122 778.8,142" fill="none" stroke="#000" stroke-width="1.5" />
<polyline points="870.8,122 870.8,142" fill="none" stroke="#000" stroke-width="1.5" />
<polyline points="864.2,131.6 863.2,133.8 861.8,136 860,138 857.7,139.9 855.1,141.7 852.1,143.3 848.8,144.8 845.3,146 841.5,147.1 837.5,147.9 833.3,148.5 829.1,148.9 824.8,149 820.5,148.9 816.3,148.5 812.1,147.9 808.1,147.1 804.3,146 800.8,144.8 797.5,143.3 794.5,141.7 791.9,139.9 789.6,138 787.8,136 786.4,133.8 785.4,131.6" fill="none" stroke="#000" stroke-width="1.5" />
<ellipse cx="824.8" cy="140" rx="31" ry="16" fill="none" stroke="#000" stroke-width="3.3" />
<polyline points="855.8,146 855.6,147.7 855.1,149.3 854.3,150.9 853.1,152.5 851.6,154 849.9,155.4 847.8,156.7 845.5,157.9 843,158.9 840.3,159.9 837.4,160.6 834.4,161.2 831.2,161.7 828,161.9 824.8,162 821.6,161.9 818.4,161.7 815.2,161.2 812.2,160.6 809.3,159.9 806.6,158.9 804.1,157.9 801.8,156.7 799.7,155.4 798,154 796.5,152.5 795.3,150.9 794.5,149.3 794,147.7 793.8,146" fill="none" stroke="#000" stroke-width="2.25" />
<polyline points="802.8,152 802.8,165" fill="none" stroke="#000" stroke-width="1.5" />
<polyline points="816.8,152 816.8,165" fill="none" stroke="#000" stroke-width="1.5" />
<polyline points="832.8,152 832.8,165" fill="none" stroke="#000" stroke-width="1.5" />
<polyline points="846.8,152 846.8,165" fill="none" stroke="#000" stroke-width="1.5" />
<ellipse cx="824.8" cy="117.7" rx="8" ry="4" fill="none" stroke="#000" stroke-width="1.5" />
<polyline points="787,90 787,104 800,97 812,94 838,94 850,97 863,104 863,90" fill="none" stroke="#000" stroke-width="1.5" />
<polyline points="812,84 812,97 838,97 838,84" fill="none" stroke="#000" stroke-width="1.5" />
<polyline points="795,86 795,100" fill="none" stroke="#000" stroke-width="1.5" />
<polyline points="855,86 855,100" fill="none" stroke="#000" stroke-width="1.5" />
<polyline points="713,158 760,140 780,128" fill="none" stroke="#000" stroke-width="1.5" />
<polyline points="712,162 748,198 790,176" fill="none" stroke="#000" stroke-width="1.5" />
<polyline points="937,158 890,140 870,128" fill="none" stroke="#000" stroke-width="1.5" />
<polyline points="938,162 902,198 860,176" fill="none" stroke="#000" stroke-width="1.5" />
<polyline points="728,180 733,163 745,172 760,162 752,157 740,160" fill="none" stroke="#000" stroke-width="1.5" />
<polyline points="921,180 916,163 904,172 889,162 897,157 909,160" fill="none" stroke="#000" stroke-width="1.5" />
<polyline points="765,172 772,190 795,176" fill="none" stroke="#000" stroke-width="1.5" />
<polyline points="884,172 877,190 854,176" fill="none" stroke="#000" stroke-width="1.5" />
<polyline points="759,187.8 761.9,185.4 765.5,183.2 769.8,181.1 774.7,179.2 780.2,177.5 786.2,176 792.6,174.7 799.4,173.6 806.4,172.8 813.7,172.3 821.1,172 828.5,172 835.9,172.3 843.2,172.8 850.2,173.6 857,174.7 863.4,176 869.4,177.5 874.9,179.2 879.8,181.1 884.1,183.2 887.7,185.4 890.6,187.8" fill="none" stroke="#000" stroke-width="1.5" />
<polyline points="703,222 754.6,420" fill="none" stroke="#000" stroke-width="1.5" />
<polyline points="946.5,222 896,420" fill="none" stroke="#000" stroke-width="1.5" />
<polyline points="895.7,420 895.3,422.7 894.2,425.3 892.2,427.9 889.6,430.4 886.2,432.8 882.2,435 877.5,437.1 872.3,439 866.6,440.6 860.4,442.1 853.8,443.3 846.8,444.3 839.7,444.9 832.4,445.4 825,445.5 817.6,445.4 810.3,444.9 803.2,444.3 796.2,443.3 789.6,442.1 783.4,440.6 777.7,439 772.5,437.1 767.8,435 763.8,432.8 760.4,430.4 757.8,427.9 755.8,425.3 754.7,422.7 754.3,420" fill="none" stroke="#000" stroke-width="1.95" />
<polyline points="892.7,419.2 891.7,421.8 890,424.4 887.5,426.9 884.3,429.2 880.5,431.5 876,433.5 870.9,435.4 865.4,437.1 859.4,438.6 853,439.8 846.3,440.7 839.3,441.4 832.2,441.9 825,442 817.8,441.9 810.7,441.4 803.7,440.7 797,439.8 790.6,438.6 784.6,437.1 779.1,435.4 774,433.5 769.5,431.5 765.7,429.2 762.5,426.9 760,424.4 758.3,421.8 757.3,419.2" fill="none" stroke="#000" stroke-width="1.5" />
<polyline points="744,296 746,291 750,293 775,418 772,424 768,420 744,296" fill="none" stroke="#000" stroke-width="1.5" />
<polyline points="751,296 776,418" fill="none" stroke="#000" stroke-width="3" />
<polyline points="906,296 904,291 900,293 875,418 878,424 882,420 906,296" fill="none" stroke="#000" stroke-width="1.5" />
<polyline points="899,296 874,418" fill="none" stroke="#000" stroke-width="3" />
<path d="M705,230 L673,243 Q668,246 669,258 L694,330 Q700,344 716,345 L735,345" fill="none" stroke="#000" stroke-width="1.5" />
<path d="M706,246 L680,258 Q676,262 678,270 L700,322 Q704,331 716,331 L731,331" fill="none" stroke="#000" stroke-width="1.5" />
<polyline points="669,250 669,262 677,272" fill="none" stroke="#000" stroke-width="1.5" />
<polyline points="720,331 720,345" fill="none" stroke="#000" stroke-width="1.5" />
<polyline points="705,230 705,246" fill="none" stroke="#000" stroke-width="1.5" />
<path d="M944.6,230 L976.6,243 Q981.6,246 980.6,258 L955.6,330 Q949.6,344 933.6,345 L914.6,345" fill="none" stroke="#000" stroke-width="1.5" />
<path d="M943.6,246 L969.6,258 Q973.6,262 971.6,270 L949.6,322 Q945.6,331 933.6,331 L918.6,331" fill="none" stroke="#000" stroke-width="1.5" />
<polyline points="980.6,250 980.6,262 972.6,272" fill="none" stroke="#000" stroke-width="1.5" />
<polyline points="929.6,331 929.6,345" fill="none" stroke="#000" stroke-width="1.5" />
<polyline points="944.6,230 944.6,246" fill="none" stroke="#000" stroke-width="1.5" />
<polyline points="906.8,412.9 908.3,415.2 909.6,417.5 910.8,419.9 911.7,422.3 912.4,424.7 912.9,427.1 913.2,429.6 913.3,432" fill="none" stroke="#000" stroke-width="1.5" />
<polyline points="735.7,432 735.8,429.6 736.1,427.1 736.6,424.7 737.3,422.3 738.2,419.9 739.4,417.5 740.7,415.2 742.2,412.9" fill="none" stroke="#000" stroke-width="1.5" />
<polyline points="735.7,432 735.7,453" fill="none" stroke="#000" stroke-width="1.5" />
<polyline points="913.3,432 913.3,453" fill="none" stroke="#000" stroke-width="1.5" />
<polyline points="913.3,453 912.8,458.4 911.4,463.7 909,468.9 905.6,474 901.4,478.8 896.3,483.3 890.5,487.5 883.9,491.3 876.7,494.7 868.9,497.7 860.6,500.1 851.9,502.1 843,503.5 833.8,504.3 824.5,504.6 815.2,504.3 806,503.5 797.1,502.1 788.4,500.1 780.1,497.7 772.3,494.7 765.1,491.3 758.5,487.5 752.7,483.3 747.6,478.8 743.4,474 740,468.9 737.6,463.7 736.2,458.4 735.7,453" fill="none" stroke="#000" stroke-width="1.8" />
<polyline points="903.4,415.6 906,420.5 907.7,425.5 908.5,430.6 908.2,435.7 907.1,440.8 905,445.8 901.9,450.6 898,455.2 893.3,459.5 887.8,463.6 881.5,467.2 874.7,470.5 867.2,473.3 859.3,475.7 850.9,477.6 842.3,478.9 833.4,479.7 824.5,480 815.6,479.7 806.7,478.9 798.1,477.6 789.7,475.7 781.8,473.3 774.3,470.5 767.5,467.2 761.2,463.6 755.7,459.5 751,455.2 747.1,450.6 744,445.8 741.9,440.8 740.8,435.7 740.5,430.6 741.3,425.5 743,420.5 745.6,415.6" fill="none" stroke="#000" stroke-width="1.5" />
<polyline points="897.9,418.6 899.6,422.7 900.4,426.9 900.4,431.1 899.6,435.3 897.9,439.4 895.5,443.3 892.2,447.2 888.2,450.8 883.6,454.2 878.2,457.3 872.3,460.1 865.9,462.5 859,464.6 851.7,466.3 844.2,467.6 836.4,468.5 828.5,468.9 820.5,468.9 812.6,468.5 804.8,467.6 797.3,466.3 790,464.6 783.1,462.5 776.7,460.1 770.8,457.3 765.4,454.2 760.8,450.8 756.8,447.2 753.5,443.3 751.1,439.4 749.4,435.3 748.6,431.1 748.6,426.9 749.4,422.7 751.1,418.6" fill="none" stroke="#000" stroke-width="1.5" />
<polyline points="896.2,421 896.5,424.7 895.9,428.3 894.5,431.9 892.4,435.4 889.4,438.7 885.7,441.9 881.3,444.9 876.3,447.6 870.6,450.1 864.5,452.3 857.8,454.1 850.8,455.6 843.5,456.8 836,457.6 828.3,458 820.7,458 813,457.6 805.5,456.8 798.2,455.6 791.2,454.1 784.5,452.3 778.4,450.1 772.7,447.6 767.7,444.9 763.3,441.9 759.6,438.7 756.6,435.4 754.5,431.9 753.1,428.3 752.5,424.7 752.8,421" fill="none" stroke="#000" stroke-width="1.5" />
<path d="M806.3,616 L801.3,636 L801.3,646 A21,11 0 0 0 843.3,646 L843.3,636 L838.3,616" fill="#fff" stroke="#000" stroke-width="1.8" />
<polyline points="843.3,636 843.2,637.1 842.8,638.3 842.3,639.4 841.5,640.5 840.5,641.5 839.3,642.5 837.9,643.4 836.4,644.2 834.6,644.9 832.8,645.5 830.8,646 828.8,646.5 826.7,646.8 824.5,646.9 822.3,647 820.1,646.9 817.9,646.8 815.8,646.5 813.8,646 811.8,645.5 810,644.9 808.2,644.2 806.7,643.4 805.3,642.5 804.1,641.5 803.1,640.5 802.3,639.4 801.8,638.3 801.4,637.1 801.3,636" fill="none" stroke="#000" stroke-width="1.8" />
<polyline points="839,640.6 838.6,641.5 838,642.4 837.2,643.3 836.3,644.1 835.2,644.9 833.9,645.6 832.5,646.2 831,646.7 829.4,647.2 827.7,647.5 825.9,647.8 824.1,647.9 822.3,648 820.5,647.9 818.7,647.8 816.9,647.5 815.2,647.2 813.6,646.7 812.1,646.2 810.7,645.6 809.4,644.9 808.3,644.1 807.4,643.3 806.6,642.4 806,641.5 805.6,640.6" fill="none" stroke="#000" stroke-width="1.5" />
<ellipse cx="822.3" cy="615.5" rx="15" ry="8.6" fill="#fff" stroke="#000" stroke-width="3" />
<polyline points="814.3,610 814.3,622" fill="none" stroke="#000" stroke-width="1.5" />
<polyline points="817.3,610 817.3,622" fill="none" stroke="#000" stroke-width="1.5" />
<polyline points="820.3,610 820.3,622" fill="none" stroke="#000" stroke-width="1.5" />
<polyline points="823.3,610 823.3,622" fill="none" stroke="#000" stroke-width="1.5" />
<polyline points="826.3,610 826.3,622" fill="none" stroke="#000" stroke-width="1.5" />
<polyline points="829.3,610 829.3,622" fill="none" stroke="#000" stroke-width="1.5" />
<ellipse cx="807.8" cy="635" rx="2.4" ry="2.4" fill="none" stroke="#000" stroke-width="1.8" />
<ellipse cx="837.8" cy="643" rx="2.4" ry="2.4" fill="none" stroke="#000" stroke-width="1.8" />
<polyline points="839,645 874,666" fill="none" stroke="#000" stroke-width="1.5" />
<path d="M873,664 L880,668 L878,671 L871,667 Z" fill="#000" stroke="#000" stroke-width="1.5" />
<ellipse cx="822.3" cy="890" rx="101.9" ry="58.9" fill="none" stroke="#000" stroke-width="2.4" />
<polyline points="924.2,898 923.6,904.2 922,910.2 919.2,916.2 915.4,922 910.5,927.5 904.7,932.6 898,937.4 890.5,941.8 882.2,945.7 873.2,949 863.7,951.8 853.8,954 843.5,955.6 833,956.6 822.3,956.9 811.6,956.6 801.1,955.6 790.8,954 780.9,951.8 771.4,949 762.4,945.7 754.1,941.8 746.6,937.4 739.9,932.6 734.1,927.5 729.2,922 725.4,916.2 722.6,910.2 721,904.2 720.4,898" fill="none" stroke="#000" stroke-width="1.5" />
<polyline points="924.1,906.7 923.2,912.9 921.1,919 917.9,924.9 913.7,930.7 908.4,936.1 902.1,941.2 895,945.9 887,950.1 878.4,953.8 869.1,956.9 859.2,959.5 849,961.4 838.4,962.8 827.7,963.4 816.9,963.4 806.2,962.8 795.6,961.4 785.4,959.5 775.5,956.9 766.2,953.8 757.6,950.1 749.6,945.9 742.5,941.2 736.2,936.1 730.9,930.7 726.7,924.9 723.5,919 721.4,912.9 720.5,906.7" fill="none" stroke="#000" stroke-width="2.4" />
<polyline points="720.4,890 720.4,904.6" fill="none" stroke="#000" stroke-width="1.5" />
<polyline points="924.2,890 924.2,904.6" fill="none" stroke="#000" stroke-width="1.5" />
<polyline points="909.3,876.6 910.4,882 910.5,887.4 909.7,892.8 907.9,898 905.1,903.2 901.4,908.1 896.8,912.8 891.4,917.2 885.2,921.3 878.3,924.9 870.8,928.1 862.8,930.8 854.2,933 845.4,934.7 836.3,935.9 827,936.4 817.6,936.4 808.3,935.9 799.2,934.7 790.4,933 781.8,930.8 773.8,928.1 766.3,924.9 759.4,921.3 753.2,917.2 747.8,912.8 743.2,908.1 739.5,903.2 736.7,898 734.9,892.8 734.1,887.4 734.2,882 735.3,876.6" fill="none" stroke="#000" stroke-width="1.5" />
<path d="M743.3,866.2 L743.3,878 A79,45.6 0 0 0 901.3,878 L901.3,866.2" fill="#fff" stroke="#000" stroke-width="1.8" />
<ellipse cx="822.3" cy="866.2" rx="79" ry="45.6" fill="#fff" stroke="#000" stroke-width="3.6" />
<ellipse cx="822.3" cy="867" rx="75" ry="43" fill="none" stroke="#000" stroke-width="1.5" />
<polyline points="750.7,877.7 751.9,873.4 753.8,869.2 756.5,865.1 759.9,861.2 764.1,857.6 768.8,854.2 774.1,851.2 780,848.4 786.3,846.1 793,844.1 800.1,842.5 807.3,841.4 814.8,840.7 822.3,840.5 829.8,840.7 837.3,841.4 844.5,842.5 851.6,844.1 858.3,846.1 864.6,848.4 870.5,851.2 875.8,854.2 880.5,857.6 884.7,861.2 888.1,865.1 890.8,869.2 892.7,873.4 893.9,877.7" fill="none" stroke="#000" stroke-width="1.5" />
<polyline points="755.3,882.1 757,877.9 759.4,873.8 762.5,869.9 766.3,866.3 770.8,862.9 775.9,859.8 781.4,857 787.5,854.6 794,852.6 800.8,851.1 807.8,849.9 815,849.2 822.3,849 829.6,849.2 836.8,849.9 843.8,851.1 850.6,852.6 857.1,854.6 863.2,857 868.7,859.8 873.8,862.9 878.3,866.3 882.1,869.9 885.2,873.8 887.6,877.9 889.3,882.1" fill="none" stroke="#000" stroke-width="1.5" />
<ellipse cx="822.3" cy="886.4" rx="13" ry="8" fill="#fff" stroke="#000" stroke-width="3.9" />
<ellipse cx="822.3" cy="886.4" rx="8" ry="4.6" fill="none" stroke="#000" stroke-width="2.25" />
<polyline points="835.3,890 835.2,890.8 835,891.7 834.7,892.5 834.2,893.3 833.6,894 832.8,894.7 832,895.4 831,895.9 829.9,896.5 828.8,896.9 827.6,897.3 826.3,897.6 825,897.8 823.7,898 822.3,898 820.9,898 819.6,897.8 818.3,897.6 817,897.3 815.8,896.9 814.7,896.5 813.6,895.9 812.6,895.4 811.8,894.7 811,894 810.4,893.3 809.9,892.5 809.6,891.7 809.4,890.8 809.3,890" fill="none" stroke="#000" stroke-width="2.25" />
<ellipse cx="773.9" cy="880.8" rx="5.5" ry="3" fill="none" stroke="#000" stroke-width="1.5" />
<ellipse cx="835.9" cy="859.7" rx="5.5" ry="3" fill="none" stroke="#000" stroke-width="1.5" />
<ellipse cx="871.9" cy="895.7" rx="5.5" ry="3" fill="none" stroke="#000" stroke-width="1.5" />
<path d="M838,846 L842,844 L843,852 L839,854 Z" fill="none" stroke="#000" stroke-width="1.5" />
<polyline points="795.6,911 795.6,929" fill="none" stroke="#000" stroke-width="1.5" />
<polyline points="807.8,912 807.8,931" fill="none" stroke="#000" stroke-width="2.4" />
<polyline points="899,878 899,896" fill="none" stroke="#000" stroke-width="1.5" />
<polyline points="902,876 902,893" fill="none" stroke="#000" stroke-width="1.5" />
<polyline points="773.9,781 773.9,880.8" fill="none" stroke="#000" stroke-width="1.8" stroke-dasharray="30 3 3 3"/>
<ellipse cx="773.9" cy="742.5" rx="6.5" ry="3.6" fill="#fff" stroke="#000" stroke-width="1.8" />
<path d="M767.4,742.5 L767.4,747 A6.5,3.6 0 0 0 780.4,747 L780.4,742.5" fill="none" stroke="#000" stroke-width="1.8" />
<polyline points="770.1,750 770.1,765.5" fill="none" stroke="#000" stroke-width="1.5" />
<polyline points="777.7,750 777.7,765.5" fill="none" stroke="#000" stroke-width="1.5" />
<polyline points="777.7,765.5 777.7,765.7 777.6,765.8 777.5,766 777.4,766.2 777.2,766.3 777,766.4 776.7,766.6 776.4,766.7 776.1,766.8 775.8,766.9 775.4,767 775.1,767 774.7,767.1 774.3,767.1 773.9,767.1 773.5,767.1 773.1,767.1 772.7,767 772.4,767 772,766.9 771.7,766.8 771.4,766.7 771.1,766.6 770.8,766.4 770.6,766.3 770.4,766.2 770.3,766 770.2,765.8 770.1,765.7 770.1,765.5" fill="none" stroke="#000" stroke-width="1.5" />
<polyline points="773.9,766.5 773.9,773" fill="none" stroke="#000" stroke-width="1.5" />
<ellipse cx="773.9" cy="776" rx="8.8" ry="5.2" fill="#fff" stroke="#000" stroke-width="1.95" />
<ellipse cx="773.9" cy="776" rx="4" ry="2.2" fill="#000" stroke="#000" stroke-width="1.5" />
<polyline points="835.9,760.6 835.9,859.7" fill="none" stroke="#000" stroke-width="1.8" stroke-dasharray="30 3 3 3"/>
<ellipse cx="835.9" cy="722" rx="6.5" ry="3.6" fill="#fff" stroke="#000" stroke-width="1.8" />
<path d="M829.4,722 L829.4,726.5 A6.5,3.6 0 0 0 842.4,726.5 L842.4,722" fill="none" stroke="#000" stroke-width="1.8" />
<polyline points="832.1,729.5 832.1,745" fill="none" stroke="#000" stroke-width="1.5" />
<polyline points="839.7,729.5 839.7,745" fill="none" stroke="#000" stroke-width="1.5" />
<polyline points="839.7,745 839.7,745.2 839.6,745.3 839.5,745.5 839.4,745.7 839.2,745.8 839,745.9 838.7,746.1 838.4,746.2 838.1,746.3 837.8,746.4 837.4,746.5 837.1,746.5 836.7,746.6 836.3,746.6 835.9,746.6 835.5,746.6 835.1,746.6 834.7,746.5 834.4,746.5 834,746.4 833.7,746.3 833.4,746.2 833.1,746.1 832.8,745.9 832.6,745.8 832.4,745.7 832.3,745.5 832.2,745.3 832.1,745.2 832.1,745" fill="none" stroke="#000" stroke-width="1.5" />
<polyline points="835.9,746 835.9,752.6" fill="none" stroke="#000" stroke-width="1.5" />
<ellipse cx="835.9" cy="755.6" rx="8.8" ry="5.2" fill="#fff" stroke="#000" stroke-width="1.95" />
<ellipse cx="835.9" cy="755.6" rx="4" ry="2.2" fill="#000" stroke="#000" stroke-width="1.5" />
<polyline points="810,816.6 810,928" fill="none" stroke="#000" stroke-width="1.8" stroke-dasharray="30 3 3 3"/>
<ellipse cx="810" cy="778" rx="6.5" ry="3.6" fill="#fff" stroke="#000" stroke-width="1.8" />
<path d="M803.5,778 L803.5,782.5 A6.5,3.6 0 0 0 816.5,782.5 L816.5,778" fill="none" stroke="#000" stroke-width="1.8" />
<polyline points="806.2,785.5 806.2,801" fill="none" stroke="#000" stroke-width="1.5" />
<polyline points="813.8,785.5 813.8,801" fill="none" stroke="#000" stroke-width="1.5" />
<polyline points="813.8,801 813.8,801.2 813.7,801.3 813.6,801.5 813.5,801.7 813.3,801.8 813.1,801.9 812.8,802.1 812.5,802.2 812.2,802.3 811.9,802.4 811.5,802.5 811.2,802.5 810.8,802.6 810.4,802.6 810,802.6 809.6,802.6 809.2,802.6 808.8,802.5 808.5,802.5 808.1,802.4 807.8,802.3 807.5,802.2 807.2,802.1 806.9,801.9 806.7,801.8 806.5,801.7 806.4,801.5 806.3,801.3 806.2,801.2 806.2,801" fill="none" stroke="#000" stroke-width="1.5" />
<polyline points="810,802 810,808.6" fill="none" stroke="#000" stroke-width="1.5" />
<ellipse cx="810" cy="811.6" rx="8.8" ry="5.2" fill="#fff" stroke="#000" stroke-width="1.95" />
<ellipse cx="810" cy="811.6" rx="4" ry="2.2" fill="#000" stroke="#000" stroke-width="1.5" />
<polyline points="871.9,796 871.9,895.7" fill="none" stroke="#000" stroke-width="1.8" stroke-dasharray="30 3 3 3"/>
<ellipse cx="871.9" cy="757.8" rx="6.5" ry="3.6" fill="#fff" stroke="#000" stroke-width="1.8" />
<path d="M865.4,757.8 L865.4,762.3 A6.5,3.6 0 0 0 878.4,762.3 L878.4,757.8" fill="none" stroke="#000" stroke-width="1.8" />
<polyline points="868.1,765.3 868.1,780.8" fill="none" stroke="#000" stroke-width="1.5" />
<polyline points="875.7,765.3 875.7,780.8" fill="none" stroke="#000" stroke-width="1.5" />
<polyline points="875.7,780.8 875.7,781 875.6,781.1 875.5,781.3 875.4,781.5 875.2,781.6 875,781.7 874.7,781.9 874.4,782 874.1,782.1 873.8,782.2 873.4,782.3 873.1,782.3 872.7,782.4 872.3,782.4 871.9,782.4 871.5,782.4 871.1,782.4 870.7,782.3 870.4,782.3 870,782.2 869.7,782.1 869.4,782 869.1,781.9 868.8,781.7 868.6,781.6 868.4,781.5 868.3,781.3 868.2,781.1 868.1,781 868.1,780.8" fill="none" stroke="#000" stroke-width="1.5" />
<polyline points="871.9,781.8 871.9,788" fill="none" stroke="#000" stroke-width="1.5" />
<ellipse cx="871.9" cy="791" rx="8.8" ry="5.2" fill="#fff" stroke="#000" stroke-width="1.95" />
<ellipse cx="871.9" cy="791" rx="4" ry="2.2" fill="#000" stroke="#000" stroke-width="1.5" />
<path d="M736.4,1114.9 L736.4,1266.8 A88.4,51.4 0 0 0 913.2,1266.8 L913.2,1114.9" fill="#fff" stroke="#000" stroke-width="1.95" />
<ellipse cx="824.8" cy="1114.9" rx="88.4" ry="51.4" fill="#fff" stroke="#000" stroke-width="2.1" />
<polyline points="883.2,1077 883.2,1152.6" fill="none" stroke="#000" stroke-width="1.95" />
<rect x="802.5" y="1168.9" width="3" height="8" fill="#fff" stroke="#000" stroke-width="1.1"/>
<rect x="792.5" y="1167.0" width="3" height="8" fill="#fff" stroke="#000" stroke-width="1.1"/>
<rect x="782.9" y="1164.4" width="3" height="8" fill="#fff" stroke="#000" stroke-width="1.1"/>
<rect x="774.0" y="1161.1" width="3" height="8" fill="#fff" stroke="#000" stroke-width="1.1"/>
<rect x="765.8" y="1157.2" width="3" height="8" fill="#fff" stroke="#000" stroke-width="1.1"/>
<rect x="758.4" y="1152.7" width="3" height="8" fill="#fff" stroke="#000" stroke-width="1.1"/>
<rect x="752.0" y="1147.7" width="3" height="8" fill="#fff" stroke="#000" stroke-width="1.1"/>
<rect x="746.7" y="1142.3" width="3" height="8" fill="#fff" stroke="#000" stroke-width="1.1"/>
<rect x="742.5" y="1136.6" width="3" height="8" fill="#fff" stroke="#000" stroke-width="1.1"/>
<rect x="739.5" y="1130.6" width="3" height="8" fill="#fff" stroke="#000" stroke-width="1.1"/>
<rect x="737.8" y="1124.4" width="3" height="8" fill="#fff" stroke="#000" stroke-width="1.1"/>
<rect x="737.5" y="1120.6" width="3" height="7" fill="#000"/>
<rect x="737.4" y="1115.2" width="3" height="7" fill="#000"/>
<rect x="738.1" y="1109.8" width="3" height="7" fill="#000"/>
<rect x="739.9" y="1104.6" width="3" height="7" fill="#000"/>
<rect x="742.5" y="1099.4" width="3" height="7" fill="#000"/>
<rect x="746.0" y="1094.5" width="3" height="7" fill="#000"/>
<rect x="750.4" y="1089.8" width="3" height="7" fill="#000"/>
<rect x="795" y="1163" width="12" height="11" fill="#fff" stroke="#000" stroke-width="1.2"/>
<rect x="799" y="1166" width="5" height="4" fill="none" stroke="#000" stroke-width="1"/>
<rect x="760" y="1077" width="9" height="9" fill="#fff" stroke="#000" stroke-width="1.2"/>
<ellipse cx="874.8" cy="1100" rx="6.5" ry="8.5" fill="#fff" stroke="#000" stroke-width="3" />
<ellipse cx="875.5" cy="1101" rx="3.5" ry="5" fill="#000" stroke="#000" stroke-width="1.5" />
<ellipse cx="874" cy="1089" rx="2.3" ry="1.6" fill="none" stroke="#000" stroke-width="1.5" />
<polyline points="709.2,1052 760.5,1080.3" fill="none" stroke="#000" stroke-width="1.65" stroke-dasharray="26 3 3 3"/>
<g transform="translate(709.2 1052) rotate(28.8836)"><ellipse cx="0" cy="0" rx="3.6" ry="4.2" fill="#000" stroke="#000" stroke-width="1.8" /><ellipse cx="3" cy="0" rx="2" ry="2.6" fill="#fff" stroke="#000" stroke-width="1.5" /></g>
<polyline points="961.8,1077.2 911.5,1105.5" fill="none" stroke="#000" stroke-width="1.65" stroke-dasharray="26 3 3 3"/>
<g transform="translate(961.8 1077.2) rotate(150.637)"><ellipse cx="0" cy="0" rx="3.6" ry="4.2" fill="#000" stroke="#000" stroke-width="1.8" /><ellipse cx="3" cy="0" rx="2" ry="2.6" fill="#fff" stroke="#000" stroke-width="1.5" /></g>
<polyline points="962.8,1216.6 913.6,1244.9" fill="none" stroke="#000" stroke-width="1.65" stroke-dasharray="26 3 3 3"/>
<g transform="translate(962.8 1216.6) rotate(150.092)"><ellipse cx="0" cy="0" rx="3.6" ry="4.2" fill="#000" stroke="#000" stroke-width="1.8" /><ellipse cx="3" cy="0" rx="2" ry="2.6" fill="#fff" stroke="#000" stroke-width="1.5" /></g>
<polyline points="655.7,1297.9 740.6,1284.7" fill="none" stroke="#000" stroke-width="1.65" stroke-dasharray="26 3 3 3"/>
<g transform="translate(655.7 1297.9) rotate(-8.83742)"><ellipse cx="0" cy="0" rx="3.6" ry="4.2" fill="#000" stroke="#000" stroke-width="1.8" /><ellipse cx="3" cy="0" rx="2" ry="2.6" fill="#fff" stroke="#000" stroke-width="1.5" /></g>
<polyline points="935.6,1338.2 884.2,1308.8" fill="none" stroke="#000" stroke-width="1.65" stroke-dasharray="26 3 3 3"/>
<g transform="translate(935.6 1338.2) rotate(-150.231)"><ellipse cx="0" cy="0" rx="3.6" ry="4.2" fill="#000" stroke="#000" stroke-width="1.8" /><ellipse cx="3" cy="0" rx="2" ry="2.6" fill="#fff" stroke="#000" stroke-width="1.5" /></g>
<polyline points="769.5,1250.1 800.4,1169.4" fill="none" stroke="#000" stroke-width="1.65" stroke-dasharray="26 3 3 3"/>
<g transform="translate(769.5 1250.1) rotate(-69.0482)"><ellipse cx="0" cy="0" rx="3.6" ry="4.2" fill="#000" stroke="#000" stroke-width="1.8" /><ellipse cx="3" cy="0" rx="2" ry="2.6" fill="#fff" stroke="#000" stroke-width="1.5" /></g>
<rect x="880" y="1303" width="6" height="9" fill="#fff" stroke="#000" stroke-width="1.1"/>
<polyline points="822.5,652 822.5,878" fill="none" stroke="#000" stroke-width="1.5" stroke-dasharray="60 3 4 3"/>
<polyline points="824,1000 824,1165" fill="none" stroke="#000" stroke-width="1.5" stroke-dasharray="80 3 4 3"/>
<path d="M751.8,1556 L751.8,1571 A73,63 0 0 0 897.8,1571 L897.8,1556 Z" fill="#fff" stroke="#000" stroke-width="2.1" />
<polyline points="897.8,1556.4 897.4,1559.7 896.2,1563.1 894.2,1566.3 891.5,1569.4 888,1572.4 883.9,1575.2 879,1577.8 873.6,1580.2 867.7,1582.3 861.3,1584.1 854.5,1585.6 847.4,1586.8 840,1587.7 832.4,1588.2 824.8,1588.4 817.2,1588.2 809.6,1587.7 802.2,1586.8 795.1,1585.6 788.3,1584.1 781.9,1582.3 776,1580.2 770.6,1577.8 765.7,1575.2 761.6,1572.4 758.1,1569.4 755.4,1566.3 753.4,1563.1 752.2,1559.7 751.8,1556.4" fill="none" stroke="#000" stroke-width="2.1" />
<polyline points="897.8,1571 897.4,1574.3 896.2,1577.7 894.2,1580.9 891.5,1584 888,1587 883.9,1589.8 879,1592.4 873.6,1594.8 867.7,1596.9 861.3,1598.7 854.5,1600.2 847.4,1601.4 840,1602.3 832.4,1602.8 824.8,1603 817.2,1602.8 809.6,1602.3 802.2,1601.4 795.1,1600.2 788.3,1598.7 781.9,1596.9 776,1594.8 770.6,1592.4 765.7,1589.8 761.6,1587 758.1,1584 755.4,1580.9 753.4,1577.7 752.2,1574.3 751.8,1571" fill="none" stroke="#000" stroke-width="2.1" />
<ellipse cx="824.8" cy="1591" rx="6" ry="6" fill="#fff" stroke="#000" stroke-width="2.1" />
<polyline points="820.8,1594 828.8,1588" fill="none" stroke="#000" stroke-width="1.8" />
<path d="M748.5,1508 L752,1556 A73,32 0 0 0 897.8,1556 L901.3,1508 A64,28 0 0 1 748.5,1508 Z" fill="#fff" stroke="#000" stroke-width="1.95" />
<polyline points="884.7,1537 882.7,1539.7 880,1542.3 876.8,1544.7 873,1547 868.6,1549.1 863.8,1551 858.6,1552.6 852.9,1554.1 847,1555.2 840.8,1556.1 834.5,1556.7 828,1557 821.6,1557 815.1,1556.7 808.8,1556.1 802.6,1555.2 796.7,1554.1 791,1552.6 785.8,1551 781,1549.1 776.6,1547 772.8,1544.7 769.6,1542.3 766.9,1539.7 764.9,1537" fill="none" stroke="#000" stroke-width="1.8" />
<polyline points="884.7,1543 882.7,1545.7 880,1548.3 876.8,1550.7 873,1553 868.6,1555.1 863.8,1557 858.6,1558.6 852.9,1560.1 847,1561.2 840.8,1562.1 834.5,1562.7 828,1563 821.6,1563 815.1,1562.7 808.8,1562.1 802.6,1561.2 796.7,1560.1 791,1558.6 785.8,1557 781,1555.1 776.6,1553 772.8,1550.7 769.6,1548.3 766.9,1545.7 764.9,1543" fill="none" stroke="#000" stroke-width="1.8" />
<polyline points="886.6,1551 884.5,1553.7 881.8,1556.3 878.5,1558.7 874.5,1561 870.1,1563.1 865.1,1565 859.7,1566.6 853.9,1568.1 847.7,1569.2 841.4,1570.1 834.8,1570.7 828.1,1571 821.5,1571 814.8,1570.7 808.2,1570.1 801.9,1569.2 795.7,1568.1 789.9,1566.6 784.5,1565 779.5,1563.1 775.1,1561 771.1,1558.7 767.8,1556.3 765.1,1553.7 763,1551" fill="none" stroke="#000" stroke-width="1.8" />
<polyline points="888.6,1557 886.4,1559.7 883.6,1562.3 880.2,1564.7 876.1,1567 871.5,1569.1 866.3,1571 860.7,1572.6 854.8,1574.1 848.5,1575.2 841.9,1576.1 835.1,1576.7 828.3,1577 821.3,1577 814.5,1576.7 807.7,1576.1 801.1,1575.2 794.8,1574.1 788.9,1572.6 783.3,1571 778.1,1569.1 773.5,1567 769.4,1564.7 766,1562.3 763.2,1559.7 761,1557" fill="none" stroke="#000" stroke-width="1.8" />
<polyline points="766.8,1545 766.8,1572.56" fill="none" stroke="#000" stroke-width="1.8" />
<polyline points="772.8,1545 772.8,1573.64" fill="none" stroke="#000" stroke-width="1.8" />
<polyline points="780.8,1545 780.8,1575.08" fill="none" stroke="#000" stroke-width="1.8" />
<polyline points="808.8,1545 808.8,1580.12" fill="none" stroke="#000" stroke-width="1.8" />
<polyline points="814.8,1545 814.8,1581.2" fill="none" stroke="#000" stroke-width="1.8" />
<polyline points="834.8,1545 834.8,1581.2" fill="none" stroke="#000" stroke-width="1.8" />
<polyline points="840.8,1545 840.8,1580.12" fill="none" stroke="#000" stroke-width="1.8" />
<polyline points="868.8,1545 868.8,1575.08" fill="none" stroke="#000" stroke-width="1.8" />
<polyline points="876.8,1545 876.8,1573.64" fill="none" stroke="#000" stroke-width="1.8" />
<polyline points="882.8,1545 882.8,1572.56" fill="none" stroke="#000" stroke-width="1.8" />
<rect x="775" y="1563" width="25" height="7" fill="#000" transform="rotate(6 787 1566)"/>
<rect x="852" y="1563" width="24" height="7" fill="#000" transform="rotate(-6 864 1566)"/>
<path d="M760,1530 L770,1545 L790,1552 L812,1560 M889,1530 L879,1545 L859,1552 L838,1560" fill="none" stroke="#000" stroke-width="3" />
<path d="M768,1556 L800,1572 L812,1585 M881,1556 L850,1572 L838,1585" fill="none" stroke="#000" stroke-width="2.25" />
<path d="M763.2,1466 L763.2,1520 A61.5,27 0 0 0 885.8,1520 L885.8,1466 A61.5,27 0 0 1 763.2,1466 Z" fill="#fff" stroke="#000" stroke-width="2.1" />
<polyline points="886.1,1468.2 885.2,1470.8 883.6,1473.4 881.3,1475.9 878.4,1478.2 875,1480.5 870.9,1482.5 866.3,1484.4 861.3,1486.1 855.9,1487.6 850.1,1488.8 844,1489.7 837.7,1490.4 831.3,1490.9 824.8,1491 818.3,1490.9 811.9,1490.4 805.6,1489.7 799.5,1488.8 793.7,1487.6 788.3,1486.1 783.3,1484.4 778.7,1482.5 774.6,1480.5 771.2,1478.2 768.3,1475.9 766,1473.4 764.4,1470.8 763.5,1468.2" fill="none" stroke="#000" stroke-width="2.25" />
<polyline points="885.7,1473.5 884.5,1476.1 882.5,1478.6 880,1481 876.8,1483.4 873,1485.5 868.7,1487.5 863.9,1489.3 858.7,1490.9 853,1492.2 847.1,1493.3 840.9,1494.1 834.5,1494.7 828.1,1495 821.5,1495 815.1,1494.7 808.7,1494.1 802.5,1493.3 796.6,1492.2 790.9,1490.9 785.7,1489.3 780.9,1487.5 776.6,1485.5 772.8,1483.4 769.6,1481 767.1,1478.6 765.1,1476.1 763.9,1473.5" fill="none" stroke="#000" stroke-width="1.5" />
<polyline points="885.4,1477.3 883.9,1480 881.7,1482.5 878.9,1484.9 875.4,1487.2 871.4,1489.3 866.8,1491.3 861.7,1493 856.3,1494.5 850.4,1495.7 844.3,1496.7 837.9,1497.4 831.4,1497.9 824.8,1498 818.2,1497.9 811.7,1497.4 805.3,1496.7 799.2,1495.7 793.3,1494.5 787.9,1493 782.8,1491.3 778.2,1489.3 774.2,1487.2 770.7,1484.9 767.9,1482.5 765.7,1480 764.2,1477.3" fill="none" stroke="#000" stroke-width="2.25" />
<polyline points="768.8,1483.33 768.8,1531.16" fill="none" stroke="#000" stroke-width="1.5" />
<polyline points="774.8,1487.56 774.8,1535.72" fill="none" stroke="#000" stroke-width="1.5" />
<polyline points="782.8,1491.26 782.8,1539.72" fill="none" stroke="#000" stroke-width="1.5" />
<polyline points="786.8,1492.66 786.8,1541.23" fill="none" stroke="#000" stroke-width="1.5" />
<polyline points="800.8,1496.02 800.8,1544.86" fill="none" stroke="#000" stroke-width="1.5" />
<polyline points="803.8,1496.5 803.8,1545.38" fill="none" stroke="#000" stroke-width="1.5" />
<polyline points="806.8,1496.91 806.8,1545.82" fill="none" stroke="#000" stroke-width="1.5" />
<polyline points="809.8,1497.24 809.8,1546.18" fill="none" stroke="#000" stroke-width="1.5" />
<polyline points="842.8,1496.91 842.8,1545.82" fill="none" stroke="#000" stroke-width="1.5" />
<polyline points="854.8,1494.82 854.8,1543.57" fill="none" stroke="#000" stroke-width="1.5" />
<polyline points="857.8,1494.1 857.8,1542.78" fill="none" stroke="#000" stroke-width="1.5" />
<polyline points="860.8,1493.27 860.8,1541.89" fill="none" stroke="#000" stroke-width="1.5" />
<polyline points="863.8,1492.33 863.8,1540.88" fill="none" stroke="#000" stroke-width="1.5" />
<polyline points="874.8,1487.56 874.8,1535.72" fill="none" stroke="#000" stroke-width="1.5" />
<polyline points="880.8,1483.33 880.8,1531.16" fill="none" stroke="#000" stroke-width="1.5" />
<path d="M814,1387.5 L835.3,1387.5 L835.3,1408 Q838,1414 848,1415.5 L885.7,1415.5 L885.7,1427 L764,1427 L764,1415.5 L801.5,1415.5 Q811,1414 814,1408 Z" fill="#fff" stroke="#000" stroke-width="2.1" />
<polyline points="762.3,1416 762.3,1470" fill="none" stroke="#000" stroke-width="2.1" />
<polyline points="886.6,1416 886.6,1470" fill="none" stroke="#000" stroke-width="2.1" />
<polyline points="766,1428 766,1462" fill="none" stroke="#000" stroke-width="1.5" />
<polyline points="883,1428 883,1462" fill="none" stroke="#000" stroke-width="1.5" />
<path d="M775,1429.5 L808,1429.5 Q815,1430 815,1437 L815,1481 Q814,1486 808,1484 Q778,1474 768,1452 L768,1437 Q768,1430 775,1429.5" fill="#fff" stroke="#000" stroke-width="2.4" />
<polyline points="805.1,1442.5 804.1,1442.3 803,1442 802,1441.5 801.1,1441 800.2,1440.3 799.3,1439.6 798.6,1438.7 797.9,1437.7 797.3,1436.7 796.8,1435.6 796.5,1434.4 796.2,1433.2 796,1432" fill="none" stroke="#000" stroke-width="1.8" />
<polyline points="804.5,1450.5 802.7,1450.2 800.9,1449.7 799.2,1448.9 797.6,1448 796.1,1446.9 794.6,1445.5 793.4,1444.1 792.2,1442.4 791.2,1440.7 790.4,1438.8 789.8,1436.8 789.3,1434.8 789.1,1432.7" fill="none" stroke="#000" stroke-width="1.8" />
<polyline points="803.9,1458.5 801.4,1458.1 798.9,1457.4 796.4,1456.3 794.1,1455 792,1453.4 790,1451.5 788.1,1449.4 786.5,1447.1 785.1,1444.6 784,1442 783.1,1439.2 782.5,1436.3 782.1,1433.4" fill="none" stroke="#000" stroke-width="1.8" />
<polyline points="803.3,1466.5 800,1466 796.8,1465 793.7,1463.7 790.7,1462 787.9,1459.9 785.3,1457.5 782.9,1454.8 780.8,1451.8 779,1448.6 777.6,1445.2 776.4,1441.6 775.6,1437.9 775.1,1434.1" fill="none" stroke="#000" stroke-width="1.8" />
<polyline points="802.7,1474.5 798.6,1473.9 794.7,1472.7 790.9,1471.1 787.2,1469 783.8,1466.5 780.6,1463.5 777.7,1460.2 775.2,1456.5 773,1452.6 771.1,1448.4 769.7,1444 768.7,1439.5 768.1,1434.8" fill="none" stroke="#000" stroke-width="1.8" />
<polyline points="802.1,1482.6 797.3,1481.8 792.6,1480.4 788.1,1478.5 783.8,1476 779.7,1473 775.9,1469.5 772.5,1465.6 769.5,1461.2 766.9,1456.6 764.7,1451.6 763,1446.4 761.8,1441 761.2,1435.5" fill="none" stroke="#000" stroke-width="1.8" />
<path d="M764,1468 Q785,1482 814,1490" fill="none" stroke="#000" stroke-width="3.75" />
<path d="M764,1474 Q785,1488 812,1495" fill="none" stroke="#000" stroke-width="1.8" />
<path d="M874.6,1429.5 L841.6,1429.5 Q834.6,1430 834.6,1437 L834.6,1481 Q835.6,1486 841.6,1484 Q871.6,1474 881.6,1452 L881.6,1437 Q881.6,1430 874.6,1429.5" fill="#fff" stroke="#000" stroke-width="2.4" />
<polyline points="844.5,1442.5 845.5,1442.3 846.6,1442 847.6,1441.5 848.5,1441 849.4,1440.3 850.3,1439.6 851,1438.7 851.7,1437.7 852.3,1436.7 852.8,1435.6 853.1,1434.4 853.4,1433.2 853.6,1432" fill="none" stroke="#000" stroke-width="1.8" />
<polyline points="845.1,1450.5 846.9,1450.2 848.7,1449.7 850.4,1448.9 852,1448 853.5,1446.9 855,1445.5 856.2,1444.1 857.4,1442.4 858.4,1440.7 859.2,1438.8 859.8,1436.8 860.3,1434.8 860.5,1432.7" fill="none" stroke="#000" stroke-width="1.8" />
<polyline points="845.7,1458.5 848.2,1458.1 850.7,1457.4 853.2,1456.3 855.5,1455 857.6,1453.4 859.6,1451.5 861.5,1449.4 863.1,1447.1 864.5,1444.6 865.6,1442 866.5,1439.2 867.1,1436.3 867.5,1433.4" fill="none" stroke="#000" stroke-width="1.8" />
<polyline points="846.3,1466.5 849.6,1466 852.8,1465 855.9,1463.7 858.9,1462 861.7,1459.9 864.3,1457.5 866.7,1454.8 868.8,1451.8 870.6,1448.6 872,1445.2 873.2,1441.6 874,1437.9 874.5,1434.1" fill="none" stroke="#000" stroke-width="1.8" />
<polyline points="846.9,1474.5 851,1473.9 854.9,1472.7 858.7,1471.1 862.4,1469 865.8,1466.5 869,1463.5 871.9,1460.2 874.4,1456.5 876.6,1452.6 878.5,1448.4 879.9,1444 880.9,1439.5 881.5,1434.8" fill="none" stroke="#000" stroke-width="1.8" />
<polyline points="847.5,1482.6 852.3,1481.8 857,1480.4 861.5,1478.5 865.8,1476 869.9,1473 873.7,1469.5 877.1,1465.6 880.1,1461.2 882.7,1456.6 884.9,1451.6 886.6,1446.4 887.8,1441 888.4,1435.5" fill="none" stroke="#000" stroke-width="1.8" />
<path d="M885.6,1468 Q864.6,1482 835.6,1490" fill="none" stroke="#000" stroke-width="3.75" />
<path d="M885.6,1474 Q864.6,1488 837.6,1495" fill="none" stroke="#000" stroke-width="1.8" />
<polyline points="816,1427 816,1455 833.5,1455 833.5,1427" fill="none" stroke="#000" stroke-width="1.8" />
<polyline points="814,1455 814,1488" fill="none" stroke="#000" stroke-width="1.8" />
<polyline points="835.5,1455 835.5,1488" fill="none" stroke="#000" stroke-width="1.8" />
<path d="M822,1449 L825,1446 L828,1449 Z" fill="none" stroke="#000" stroke-width="1.5" />
<ellipse cx="824.8" cy="1421.8" rx="11" ry="5" fill="#fff" stroke="#000" stroke-width="3.75" />
<path d="M818.4,1400 L818.4,1420 A6.5,3 0 0 0 831.4,1420 L831.4,1400 Z" fill="#fff" stroke="#000" stroke-width="1.95" />
<ellipse cx="824.8" cy="1400" rx="6.5" ry="3" fill="#fff" stroke="#000" stroke-width="1.95" />
<ellipse cx="824.8" cy="1400" rx="2.5" ry="1.3" fill="#000" stroke="#000" stroke-width="1.5" />
<polyline points="824,1408 824,1418" fill="none" stroke="#000" stroke-width="2.25" />
<ellipse cx="824.8" cy="1393" rx="2.5" ry="1.5" fill="none" stroke="#000" stroke-width="1.8" />
<ellipse cx="775.2" cy="1421.4" rx="3.5" ry="1.8" fill="none" stroke="#000" stroke-width="1.8" />
<ellipse cx="874.2" cy="1421.4" rx="3.5" ry="1.8" fill="none" stroke="#000" stroke-width="1.8" />
<rect x="748.5" y="1449" width="13" height="16" fill="#fff" stroke="#000" stroke-width="1.4"/>
<ellipse cx="755" cy="1449" rx="6.5" ry="3" fill="#fff" stroke="#000" stroke-width="1.95" />
<rect x="751.5" y="1465" width="6.5" height="48" fill="#fff" stroke="#000" stroke-width="1.2"/>
<rect x="890" y="1450" width="12" height="15" fill="#fff" stroke="#000" stroke-width="1.4"/>
<rect x="892.5" y="1439" width="7" height="11" fill="#fff" stroke="#000" stroke-width="1.3"/>
<rect x="893" y="1465" width="6.5" height="47" fill="#fff" stroke="#000" stroke-width="1.2"/>
<path d="M813,1487 L837,1487 L835,1499 L831,1506 L819,1506 L815,1499 Z" fill="#fff" stroke="#000" stroke-width="2.25" />
<ellipse cx="824.8" cy="1491" rx="7" ry="3.5" fill="#fff" stroke="#000" stroke-width="2.25" />
<rect x="819.5" y="1506" width="10.5" height="46" fill="#fff" stroke="#000" stroke-width="1.3"/>
<polyline points="823,1506 823,1552" fill="none" stroke="#000" stroke-width="1.5" />
<polyline points="826.5,1506 826.5,1552" fill="none" stroke="#000" stroke-width="1.5" />
<rect x="817" y="1552" width="16" height="32" fill="#fff" stroke="#000" stroke-width="1.3"/>
<path d="M682.4,1786 Q682,1776 692,1770 L796,1708 Q823.6,1698 851,1708 L955,1770 Q965,1776 964.6,1786 L964.6,1831.4 Q963,1838 952.5,1843 L851.2,1902 Q823.6,1915 795.6,1902 L694.5,1843 Q684,1838 682.4,1831.4 Z" fill="#fff" stroke="#000" stroke-width="2.1" />
<path d="M689,1784 Q689,1779 697,1774 L799,1713 Q823.6,1704 848,1713 L950,1774 Q958,1779 958,1784 Q957,1790 950,1793 Q900,1810 851,1856 Q823.6,1872 796,1856 Q747,1810 697,1793 Q690,1790 689,1784 Z" fill="none" stroke="#000" stroke-width="1.8" />
<path d="M682.4,1786 Q684,1796 695.8,1802 Q747,1820 797,1864 Q823.6,1880 850.5,1864 Q900,1820 951.5,1802 Q963,1796 964.6,1786" fill="none" stroke="#000" stroke-width="1.8" />
<polyline points="694.5,1800 694.5,1843" fill="none" stroke="#000" stroke-width="1.65" />
<polyline points="795.6,1862 795.6,1902" fill="none" stroke="#000" stroke-width="1.65" />
<polyline points="851.2,1862 851.2,1902" fill="none" stroke="#000" stroke-width="1.65" />
<polyline points="952.5,1800 952.5,1843" fill="none" stroke="#000" stroke-width="1.65" />
<ellipse cx="823.6" cy="1759" rx="86.5" ry="53" fill="#fff" stroke="#000" stroke-width="3.9" />
<ellipse cx="823.6" cy="1759.5" rx="81" ry="49.5" fill="none" stroke="#000" stroke-width="1.65" />
<ellipse cx="823.6" cy="1761" rx="76" ry="46" fill="none" stroke="#000" stroke-width="1.65" />
<polyline points="753.9,1762.5 754.9,1758.3 756.7,1754.2 759.3,1750.2 762.5,1746.4 766.5,1742.9 771.1,1739.5 776.3,1736.5 782,1733.8 788.2,1731.5 794.8,1729.5 801.7,1728 808.9,1726.9 816.2,1726.2 823.6,1726 831,1726.2 838.3,1726.9 845.5,1728 852.4,1729.5 859,1731.5 865.2,1733.8 870.9,1736.5 876.1,1739.5 880.7,1742.9 884.7,1746.4 887.9,1750.2 890.5,1754.2 892.3,1758.3 893.3,1762.5" fill="none" stroke="#000" stroke-width="1.8" />
<clipPath id="hc"><ellipse cx="823.6" cy="1761" rx="75" ry="45"/></clipPath>
<g clip-path="url(#hc)"><ellipse cx="823.6" cy="1790" rx="71" ry="33" fill="#111" stroke="#000" stroke-width="1.5" /><ellipse cx="823.6" cy="1797" rx="5.2" ry="2.6" fill="none" stroke="#fff" stroke-width="1.05" stroke-dasharray="5 2"/><ellipse cx="823.6" cy="1797" rx="10.4" ry="5.2" fill="none" stroke="#fff" stroke-width="1.05" stroke-dasharray="5 2"/><ellipse cx="823.6" cy="1797" rx="15.6" ry="7.8" fill="none" stroke="#fff" stroke-width="1.05" stroke-dasharray="5 2"/><ellipse cx="823.6" cy="1797" rx="20.8" ry="10.4" fill="none" stroke="#fff" stroke-width="1.05" stroke-dasharray="5 2"/><ellipse cx="823.6" cy="1797" rx="26" ry="13" fill="none" stroke="#fff" stroke-width="1.05" stroke-dasharray="5 2"/><ellipse cx="823.6" cy="1797" rx="31.2" ry="15.6" fill="none" stroke="#fff" stroke-width="1.05" stroke-dasharray="5 2"/><ellipse cx="823.6" cy="1797" rx="36.4" ry="18.2" fill="none" stroke="#fff" stroke-width="1.05" stroke-dasharray="5 2"/><ellipse cx="823.6" cy="1797" rx="41.6" ry="20.8" fill="none" stroke="#fff" stroke-width="1.05" stroke-dasharray="5 2"/><ellipse cx="823.6" cy="1797" rx="46.8" ry="23.4" fill="none" stroke="#fff" stroke-width="1.05" stroke-dasharray="5 2"/><ellipse cx="823.6" cy="1797" rx="52" ry="26" fill="none" stroke="#fff" stroke-width="1.05" stroke-dasharray="5 2"/><ellipse cx="823.6" cy="1797" rx="57.2" ry="28.6" fill="none" stroke="#fff" stroke-width="1.05" stroke-dasharray="5 2"/><ellipse cx="823.6" cy="1797" rx="62.4" ry="31.2" fill="none" stroke="#fff" stroke-width="1.05" stroke-dasharray="5 2"/><ellipse cx="823.6" cy="1797" rx="67.6" ry="33.8" fill="none" stroke="#fff" stroke-width="1.05" stroke-dasharray="5 2"/><polyline points="823.6,1797 796.238,1759.41" fill="none" stroke="#fff" stroke-width="1.5" /><polyline points="823.6,1797 748.425,1783.32" fill="none" stroke="#fff" stroke-width="1.5" /><polyline points="823.6,1797 892.882,1777" fill="none" stroke="#fff" stroke-width="1.5" /><polyline points="823.6,1797 850.962,1759.41" fill="none" stroke="#fff" stroke-width="1.5" /></g>
<polyline points="894.1,1776.4 891,1780.8 887.1,1785 882.5,1788.9 877.2,1792.5 871.4,1795.7 865,1798.5 858.1,1801 850.8,1802.9 843.3,1804.4 835.5,1805.4 827.6,1805.9 819.6,1805.9 811.7,1805.4 803.9,1804.4 796.4,1802.9 789.1,1801 782.2,1798.5 775.8,1795.7 770,1792.5 764.7,1788.9 760.1,1785 756.2,1780.8 753.1,1776.4" fill="none" stroke="#000" stroke-width="2.4" />
<polyline points="791.4,1724 791.4,1756" fill="none" stroke="#000" stroke-width="1.8" />
<polyline points="801,1716 801,1752" fill="none" stroke="#000" stroke-width="1.8" />
<polyline points="805.7,1716 805.7,1753" fill="none" stroke="#000" stroke-width="1.8" />
<polyline points="817.2,1717 817.2,1757" fill="none" stroke="#000" stroke-width="1.8" />
<polyline points="822,1717 822,1757" fill="none" stroke="#000" stroke-width="1.8" />
<polyline points="828.6,1717 828.6,1746" fill="none" stroke="#000" stroke-width="1.8" />
<path d="M828.6,1718.7 L855.4,1722 L855.4,1750 L828.6,1746 Z" fill="none" stroke="#000" stroke-width="1.95" />
<path d="M791.4,1756 L801,1751 L855,1760 Q880,1765 893,1775" fill="none" stroke="#000" stroke-width="1.8" />
<path d="M760,1778 Q772,1762 791.4,1756" fill="none" stroke="#000" stroke-width="1.8" />
<ellipse cx="900" cy="1770" rx="3" ry="3" fill="#fff" stroke="#000" stroke-width="1.95" />
<path d="M890.8,1848.6 L913.1,1837.6 L913.1,1854.8 L890.8,1866.8 Z" fill="none" stroke="#000" stroke-width="3" />
<path d="M689.3,2048.9 Q665.3,2070.9 689.3,2092.9 L795.8,2154.5 Q823.8,2168.5 851.8,2154.5 L959.3,2092.9 Q983.3,2070.9 959.3,2048.9 L851.8,1987.4 Q823.8,1973.4 795.8,1987.4 Z" fill="#fff" stroke="#000" stroke-width="2.1" />
<path d="M689.3,2044.9 Q665.3,2066.9 689.3,2088.9 L795.8,2150.5 Q823.8,2164.5 851.8,2150.5 L959.3,2088.9 Q983.3,2066.9 959.3,2044.9 L851.8,1983.4 Q823.8,1969.4 795.8,1983.4 Z" fill="#fff" stroke="#000" stroke-width="1.65" />
<path d="M689.3,2040.9 Q665.3,2062.9 689.3,2084.9 L795.8,2146.5 Q823.8,2160.5 851.8,2146.5 L959.3,2084.9 Q983.3,2062.9 959.3,2040.9 L851.8,1979.4 Q823.8,1965.4 795.8,1979.4 Z" fill="#fff" stroke="#000" stroke-width="2.25" />
<path d="M697.3,2040.9 Q673.3,2062.9 697.3,2084.9 L795.8,2141.5 Q823.8,2155.5 851.8,2141.5 L951.3,2084.9 Q975.3,2062.9 951.3,2040.9 L851.8,1984.4 Q823.8,1970.4 795.8,1984.4 Z" fill="none" stroke="#000" stroke-width="1.65" />
<polyline points="836.8,2158 836.7,2158.6 836.5,2159.2 836.2,2159.9 835.7,2160.4 835.1,2161 834.3,2161.5 833.5,2162 832.5,2162.5 831.4,2162.9 830.3,2163.2 829.1,2163.5 827.8,2163.7 826.5,2163.9 825.2,2164 823.8,2164 822.4,2164 821.1,2163.9 819.8,2163.7 818.5,2163.5 817.3,2163.2 816.2,2162.9 815.1,2162.5 814.1,2162 813.3,2161.5 812.5,2161 811.9,2160.4 811.4,2159.9 811.1,2159.2 810.9,2158.6 810.8,2158" fill="none" stroke="#000" stroke-width="1.8" />
<ellipse cx="698.7" cy="2070" rx="13" ry="8" fill="#fff" stroke="#000" stroke-width="1.95" />
<ellipse cx="698.7" cy="2071" rx="10" ry="6" fill="none" stroke="#000" stroke-width="1.5" />
<ellipse cx="698.7" cy="2073" rx="7" ry="3.5" fill="none" stroke="#000" stroke-width="3.3" />
<ellipse cx="949.9" cy="2070" rx="13" ry="8" fill="#fff" stroke="#000" stroke-width="1.95" />
<ellipse cx="949.9" cy="2071" rx="10" ry="6" fill="none" stroke="#000" stroke-width="1.5" />
<ellipse cx="949.9" cy="2073" rx="7" ry="3.5" fill="none" stroke="#000" stroke-width="3.3" />
<polyline points="810.8,2140 810.9,2139.2 811.1,2138.3 811.4,2137.5 811.9,2136.7 812.5,2136 813.3,2135.3 814.1,2134.6 815.1,2134.1 816.2,2133.5 817.3,2133.1 818.5,2132.7 819.8,2132.4 821.1,2132.2 822.4,2132 823.8,2132 825.2,2132 826.5,2132.2 827.8,2132.4 829.1,2132.7 830.3,2133.1 831.4,2133.5 832.5,2134.1 833.5,2134.6 834.3,2135.3 835.1,2136 835.7,2136.7 836.2,2137.5 836.5,2138.3 836.7,2139.2 836.8,2140" fill="none" stroke="#000" stroke-width="1.95" />
<polyline points="814.8,2142 814.8,2141.5 815,2141 815.2,2140.5 815.6,2140 816,2139.5 816.5,2139.1 817.1,2138.7 817.8,2138.3 818.5,2138 819.3,2137.7 820.1,2137.4 821,2137.2 821.9,2137.1 822.9,2137 823.8,2137 824.7,2137 825.7,2137.1 826.6,2137.2 827.5,2137.4 828.3,2137.7 829.1,2138 829.8,2138.3 830.5,2138.7 831.1,2139.1 831.6,2139.5 832,2140 832.4,2140.5 832.6,2141 832.8,2141.5 832.8,2142" fill="none" stroke="#000" stroke-width="1.95" />
<path d="M772.5,1986 L772.5,2003 L789.6,2003 L789.6,1986" fill="#fff" stroke="#000" stroke-width="1.8" />
<ellipse cx="781" cy="1986.2" rx="8.5" ry="5" fill="#fff" stroke="#000" stroke-width="1.95" />
<ellipse cx="781" cy="1986.2" rx="2.8" ry="1.8" fill="#000" stroke="#000" stroke-width="1.5" />
<path d="M753.6,2025.8 L753.6,2065.5 A71.2,43.2 0 0 0 841,2108.3 L844,2106.7 L892,2077 L896,2074 L896,2025.8 A71.2,43.2 0 0 0 753.6,2025.8 Z" fill="#fff" stroke="#000" stroke-width="2.1" />
<path d="M753.6,2025.8 A71.2,43.2 0 0 1 896,2025.8 L892,2042.6 L841,2068 A71.2,43.2 0 0 1 753.6,2025.8 Z" fill="#fff" stroke="#000" stroke-width="3.3" />
<polyline points="759.4,2064.5 760.8,2060 762.8,2055.7 765.5,2051.6 768.8,2047.6 772.8,2043.9 777.3,2040.5 782.4,2037.4 787.9,2034.7 793.8,2032.4 800.1,2030.4 806.6,2029 813.3,2028 820.2,2027.4 827.1,2027.3 834,2027.7 840.8,2028.6 847.4,2029.9 853.7,2031.7 859.8,2033.9 865.4,2036.5 870.6,2039.4 875.4,2042.7 879.5,2046.3 883.1,2050.2 886,2054.3 888.2,2058.6 889.8,2063" fill="none" stroke="#000" stroke-width="2.7" />
<polyline points="841,2068 841,2108" fill="none" stroke="#000" stroke-width="2.4" />
<polyline points="844,2068 844,2107" fill="none" stroke="#000" stroke-width="1.5" />
<polyline points="892,2042.6 892,2077" fill="none" stroke="#000" stroke-width="1.8" />
<polyline points="894.5,2012 894.5,2075" fill="none" stroke="#000" stroke-width="3" />
<polyline points="757.9,2015.2 760.9,2011 764.5,2007 768.9,2003.2 773.9,1999.8 779.4,1996.7 785.5,1994 792,1991.6 798.9,1989.8 806.1,1988.3 813.5,1987.3 821,1986.9 828.6,1986.9 836.1,1987.3 843.5,1988.3 850.7,1989.8 857.6,1991.6 864.1,1994 870.2,1996.7 875.7,1999.8 880.7,2003.2 885.1,2007 888.7,2011 891.7,2015.2" fill="none" stroke="#000" stroke-width="1.5" />
<path d="M772.5,2072 L772.5,2113.8 A8.55,5 0 0 0 789.6,2113.8 L789.6,2072 Z" fill="#fff" stroke="#000" stroke-width="1.95" />
<ellipse cx="781.05" cy="2072" rx="8.55" ry="5" fill="#fff" stroke="#000" stroke-width="1.95" />
<ellipse cx="781.05" cy="2072" rx="2.6" ry="1.7" fill="#000" stroke="#000" stroke-width="1.5" />
<path d="M901.5,2029.3 L901.5,2070 A8.95,5 0 0 0 919.4,2070 L919.4,2029.3 Z" fill="#fff" stroke="#000" stroke-width="1.95" />
<ellipse cx="910.45" cy="2029.3" rx="8.95" ry="5" fill="#fff" stroke="#000" stroke-width="1.95" />
<ellipse cx="910.45" cy="2029.3" rx="2.6" ry="1.7" fill="#000" stroke="#000" stroke-width="1.5" />
<polyline points="772.5,2135 772.5,2188" fill="none" stroke="#000" stroke-width="1.65" stroke-dasharray="20 3 3 3"/>
<polyline points="781,2140 781,2208" fill="none" stroke="#000" stroke-width="1.65" stroke-dasharray="20 3 3 3"/>
<polyline points="890.9,2125 890.9,2204" fill="none" stroke="#000" stroke-width="1.65" stroke-dasharray="24 3 3 3"/>
<polyline points="909.2,2115 909.2,2166" fill="none" stroke="#000" stroke-width="1.65" stroke-dasharray="20 3 3 3"/>
<path d="M770.4,2186 L773.4,2186 L775.9,2197 L767.9,2197 Z" fill="#000" stroke="#000" stroke-width="1.5" />
<ellipse cx="771.9" cy="2196.5" rx="4" ry="2.2" fill="#fff" stroke="#000" stroke-width="1.5" />
<path d="M779.5,2206.5 L782.5,2206.5 L785,2217.5 L777,2217.5 Z" fill="#000" stroke="#000" stroke-width="1.5" />
<ellipse cx="781" cy="2217" rx="4" ry="2.2" fill="#fff" stroke="#000" stroke-width="1.5" />
<path d="M907.7,2163.5 L910.7,2163.5 L913.2,2174.5 L905.2,2174.5 Z" fill="#000" stroke="#000" stroke-width="1.5" />
<ellipse cx="909.2" cy="2174" rx="4" ry="2.2" fill="#fff" stroke="#000" stroke-width="1.5" />
<ellipse cx="890.9" cy="2212.5" rx="12" ry="8" fill="#fff" stroke="#000" stroke-width="3.9" />
<ellipse cx="890.9" cy="2211.5" rx="8" ry="4.5" fill="#fff" stroke="#000" stroke-width="3" />
<polyline points="822.5,1690 822.5,1758" fill="none" stroke="#000" stroke-width="1.5" stroke-dasharray="60 3 4 3"/>
<polyline points="822.5,1940 822.5,2046" fill="none" stroke="#000" stroke-width="1.5" stroke-dasharray="60 3 4 3"/>
<path d="M1433.5,835.0 C1435.9,840.8 1442.9,856.7 1448.0,870.0 C1453.1,883.3 1460.3,901.7 1464.0,915.0 C1467.7,928.3 1469.7,937.5 1470.0,950.0 C1470.3,962.5 1469.0,975.0 1466.0,990.0 C1463.0,1005.0 1454.8,1023.3 1452.0,1040.0 C1449.2,1056.7 1448.3,1075.0 1449.0,1090.0 C1449.7,1105.0 1452.8,1116.7 1456.0,1130.0 C1459.2,1143.3 1465.8,1158.3 1468.0,1170.0 C1470.2,1181.7 1469.7,1189.7 1469.0,1200.0 C1468.3,1210.3 1466.7,1221.7 1464.0,1232.0 C1461.3,1242.3 1456.7,1252.7 1453.0,1262.0 C1449.3,1271.3 1443.8,1283.7 1442.0,1288.0" fill="none" stroke="#000" stroke-width="6" shape-rendering="geometricPrecision"/>
<path d="M1433.5,835.0 C1435.9,840.8 1442.9,856.7 1448.0,870.0 C1453.1,883.3 1460.3,901.7 1464.0,915.0 C1467.7,928.3 1469.7,937.5 1470.0,950.0 C1470.3,962.5 1469.0,975.0 1466.0,990.0 C1463.0,1005.0 1454.8,1023.3 1452.0,1040.0 C1449.2,1056.7 1448.3,1075.0 1449.0,1090.0 C1449.7,1105.0 1452.8,1116.7 1456.0,1130.0 C1459.2,1143.3 1465.8,1158.3 1468.0,1170.0 C1470.2,1181.7 1469.7,1189.7 1469.0,1200.0 C1468.3,1210.3 1466.7,1221.7 1464.0,1232.0 C1461.3,1242.3 1456.7,1252.7 1453.0,1262.0 C1449.3,1271.3 1443.8,1283.7 1442.0,1288.0" fill="none" stroke="#fff" stroke-width="3.4" shape-rendering="geometricPrecision"/>
<polyline points="1415.5,808.5 1421,822" fill="none" stroke="#000" stroke-width="2.25" />
<polyline points="1420.1,807.3 1425.6,820.8" fill="none" stroke="#000" stroke-width="2.25" />
<polyline points="1424.7,806.1 1430.2,819.6" fill="none" stroke="#000" stroke-width="2.25" />
<polyline points="1429.3,804.9 1434.8,818.4" fill="none" stroke="#000" stroke-width="2.25" />
<polyline points="1414.7,808.5 1423,807.6" fill="none" stroke="#000" stroke-width="1.8" />
<polyline points="1425.5,806.5 1430,806" fill="none" stroke="#000" stroke-width="1.8" />
<polygon points="1416.5,820.2 1438.1,815.9 1440.6,828.2 1437,831 1424.5,833.8 1420,828" fill="#fff" stroke="#000" stroke-width="2.25" />
<polyline points="1418,824 1430,822 1437,818" fill="none" stroke="#000" stroke-width="1.8" />
<polygon points="1429,833 1437.5,831.5 1434,836.5" fill="#000" stroke="#000" stroke-width="1.5" />
<polyline points="1443,1286 1430,1300" fill="none" stroke="#000" stroke-width="6" />
<path d="M1432.0,1298.0 C1428.0,1300.2 1417.0,1307.8 1408.0,1311.0 C1399.0,1314.2 1388.5,1316.0 1378.0,1317.0 C1367.5,1318.0 1352.3,1317.2 1345.0,1317.0 C1337.7,1316.8 1336.8,1317.3 1334.0,1316.0 C1331.2,1314.7 1329.7,1311.0 1328.0,1309.0 C1326.3,1307.0 1325.3,1303.7 1324.0,1304.0 C1322.7,1304.3 1320.7,1309.8 1320.0,1311.0" fill="none" stroke="#000" stroke-width="3.3" />
<path d="M1432.0,1298.0 C1428.0,1300.2 1417.0,1307.8 1408.0,1311.0 C1399.0,1314.2 1388.5,1316.0 1378.0,1317.0 C1367.5,1318.0 1352.3,1317.2 1345.0,1317.0 C1337.7,1316.8 1335.8,1316.2 1334.0,1316.0" fill="none" stroke="#fff" stroke-width="1.2" />
<polygon points="1318.5,1309.06 1325.5,1312.94 1313.05,1329.58 1310.95,1328.42" fill="#000" stroke="#000" stroke-width="1.5" />
<ellipse cx="1320.2" cy="1314.24" rx="1.6" ry="1.6" fill="#fff" stroke="#000" stroke-width="1.2" />
<path d="M1319.0,1207.0 C1316.0,1208.3 1306.2,1211.7 1301.0,1215.0 C1295.8,1218.3 1290.3,1223.0 1288.0,1227.0 C1285.7,1231.0 1286.6,1233.3 1287.4,1239.0 C1288.2,1244.7 1292.0,1253.2 1293.0,1261.0 C1294.0,1268.8 1292.8,1279.8 1293.7,1286.0 C1294.6,1292.2 1295.8,1295.6 1298.5,1298.0 C1301.2,1300.4 1306.9,1298.3 1310.0,1300.5 C1313.1,1302.7 1315.8,1309.2 1317.0,1311.0" fill="none" stroke="#000" stroke-width="1.65" />
<path d="M1430.0,1301.0 C1425.0,1306.7 1410.0,1323.2 1400.0,1335.0 C1390.0,1346.8 1380.0,1359.0 1370.0,1372.0 C1360.0,1385.0 1345.0,1406.2 1340.0,1413.0" fill="none" stroke="#000" stroke-width="5.6" shape-rendering="geometricPrecision"/>
<path d="M1430.0,1301.0 C1425.0,1306.7 1410.0,1323.2 1400.0,1335.0 C1390.0,1346.8 1380.0,1359.0 1370.0,1372.0 C1360.0,1385.0 1345.0,1406.2 1340.0,1413.0" fill="none" stroke="#fff" stroke-width="3" shape-rendering="geometricPrecision"/>
<polyline points="1341,1413 1328,1415" fill="none" stroke="#000" stroke-width="3" />
<polygon points="1329.05,1413.69 1322.95,1420.31 1312.19,1405.88 1313.81,1404.12" fill="#000" stroke="#000" stroke-width="1.5" />
<ellipse cx="1323.66" cy="1414.84" rx="1.6" ry="1.6" fill="#fff" stroke="#000" stroke-width="1.2" />
<path d="M1326.6,1420.8 C1327.2,1422.5 1330.1,1427.0 1330.3,1431.0 C1330.5,1435.0 1330.0,1438.5 1328.0,1445.0 C1326.0,1451.5 1322.7,1460.8 1318.0,1470.0 C1313.3,1479.2 1304.5,1491.7 1300.0,1500.0 C1295.5,1508.3 1292.7,1513.3 1291.0,1520.0 C1289.3,1526.7 1288.5,1534.7 1290.0,1540.0 C1291.5,1545.3 1294.2,1547.8 1300.0,1552.0 C1305.8,1556.2 1320.8,1562.8 1325.0,1565.0" fill="none" stroke="#000" stroke-width="1.65" />
<path d="M1429.0,1306.0 C1427.7,1309.5 1422.8,1318.5 1421.0,1327.0 C1419.2,1335.5 1418.2,1347.5 1418.0,1357.0 C1417.8,1366.5 1419.2,1379.5 1419.5,1384.0" fill="none" stroke="#000" stroke-width="4.8" shape-rendering="geometricPrecision"/>
<path d="M1429.0,1306.0 C1427.7,1309.5 1422.8,1318.5 1421.0,1327.0 C1419.2,1335.5 1418.2,1347.5 1418.0,1357.0 C1417.8,1366.5 1419.2,1379.5 1419.5,1384.0" fill="none" stroke="#fff" stroke-width="2.2" shape-rendering="geometricPrecision"/>
<polygon points="1420.01,1382.64 1421.99,1389.36 1399.34,1393.65 1398.66,1391.35" fill="#000" stroke="#000" stroke-width="1.5" />
<ellipse cx="1417.04" cy="1387.17" rx="1.6" ry="1.6" fill="#fff" stroke="#000" stroke-width="1.2" />
<path d="M1418.3,1392.7 C1417.8,1395.4 1418.4,1402.6 1415.4,1409.0 C1412.5,1415.4 1406.3,1424.2 1400.6,1431.0 C1394.9,1437.8 1388.1,1443.5 1381.0,1450.0 C1373.9,1456.5 1365.1,1462.7 1358.0,1470.0 C1350.9,1477.3 1343.8,1485.8 1338.5,1494.0 C1333.2,1502.2 1327.6,1511.0 1326.0,1519.0 C1324.4,1527.0 1326.3,1536.5 1329.0,1542.0 C1331.7,1547.5 1339.8,1550.3 1342.0,1552.0" fill="none" stroke="#000" stroke-width="1.65" />
<path d="M1326.6,1420.8 C1327.2,1422.8 1331.2,1426.1 1330.5,1433.0 C1329.8,1439.9 1328.0,1450.3 1322.4,1462.0 C1316.8,1473.7 1302.4,1490.8 1296.8,1503.0 C1291.2,1515.2 1288.8,1526.9 1288.8,1535.0 C1288.8,1543.1 1290.6,1547.2 1296.8,1551.5 C1303.0,1555.8 1320.9,1559.4 1325.7,1561.0" fill="none" stroke="#000" stroke-width="1.65" />
<ellipse cx="1326.6" cy="1176.6" rx="3.8" ry="3.8" fill="#000" stroke="#000" stroke-width="1.5" />
<polyline points="1326.6,1181 1326.6,1228" fill="none" stroke="#000" stroke-width="1.65" stroke-dasharray="14 3 3 3"/>
<polyline points="1316,1209 1328,1202" fill="none" stroke="#000" stroke-width="4" />
<ellipse cx="1318.5" cy="1207.5" rx="1.4" ry="1.4" fill="#fff" stroke="#000" stroke-width="1.2" />
<polygon points="1324.5,1224 1328.5,1224 1331,1237 1322,1237" fill="#000" stroke="#000" stroke-width="1.5" />
<ellipse cx="1326.6" cy="1236" rx="3.4" ry="2" fill="#fff" stroke="#000" stroke-width="1.5" />
<path d="M900.4,1510.0 C904.5,1507.0 916.7,1498.7 925.0,1492.0 C933.3,1485.3 942.8,1476.3 950.0,1470.0 C957.2,1463.7 965.0,1456.7 968.0,1454.0" fill="none" stroke="#000" stroke-width="5" shape-rendering="geometricPrecision"/>
<path d="M900.4,1510.0 C904.5,1507.0 916.7,1498.7 925.0,1492.0 C933.3,1485.3 942.8,1476.3 950.0,1470.0 C957.2,1463.7 965.0,1456.7 968.0,1454.0" fill="none" stroke="#fff" stroke-width="2.4" shape-rendering="geometricPrecision"/>
<path d="M899.5,1529.7 C901.5,1529.1 908.4,1527.9 911.6,1526.0 C914.8,1524.1 913.8,1524.5 918.5,1518.5 C923.2,1512.5 932.2,1499.9 940.0,1490.0 C947.8,1480.1 960.8,1464.2 965.0,1459.0" fill="none" stroke="#000" stroke-width="4.8" shape-rendering="geometricPrecision"/>
<path d="M899.5,1529.7 C901.5,1529.1 908.4,1527.9 911.6,1526.0 C914.8,1524.1 913.8,1524.5 918.5,1518.5 C923.2,1512.5 932.2,1499.9 940.0,1490.0 C947.8,1480.1 960.8,1464.2 965.0,1459.0" fill="none" stroke="#fff" stroke-width="2.2" shape-rendering="geometricPrecision"/>
<polygon points="968.436,1458.19 965.564,1451.81 986.508,1444.91 987.492,1447.09" fill="#000" stroke="#000" stroke-width="1.5" />
<ellipse cx="970.6" cy="1453.38" rx="1.6" ry="1.6" fill="#fff" stroke="#000" stroke-width="1.2" />
<path d="M971.4,1456.0 C977.5,1466.0 996.6,1499.5 1008.0,1516.0 C1019.4,1532.5 1029.3,1547.4 1040.0,1554.7 C1050.7,1562.0 1060.5,1560.3 1072.0,1560.0 C1083.5,1559.7 1095.2,1555.0 1109.0,1553.0 C1122.8,1551.0 1144.0,1547.7 1155.0,1548.0 C1166.0,1548.3 1170.3,1550.4 1175.0,1554.7 C1179.7,1559.0 1181.7,1565.0 1183.0,1574.0 C1184.3,1583.0 1183.0,1603.2 1183.0,1609.0" fill="none" stroke="#000" stroke-width="1.65" />
<path d="M899.0,1551.5 C903.8,1550.8 918.9,1546.8 928.0,1547.3 C937.1,1547.8 947.3,1550.5 953.7,1554.7 C960.1,1558.9 961.2,1567.8 966.6,1572.3 C972.0,1576.8 977.8,1580.7 985.8,1582.0 C993.8,1583.3 1007.5,1582.0 1014.7,1580.3 C1021.9,1578.6 1026.6,1573.4 1029.0,1572.0" fill="none" stroke="#000" stroke-width="4.8" shape-rendering="geometricPrecision"/>
<path d="M899.0,1551.5 C903.8,1550.8 918.9,1546.8 928.0,1547.3 C937.1,1547.8 947.3,1550.5 953.7,1554.7 C960.1,1558.9 961.2,1567.8 966.6,1572.3 C972.0,1576.8 977.8,1580.7 985.8,1582.0 C993.8,1583.3 1007.5,1582.0 1014.7,1580.3 C1021.9,1578.6 1026.6,1573.4 1029.0,1572.0" fill="none" stroke="#fff" stroke-width="2.2" shape-rendering="geometricPrecision"/>
<polygon points="1033.42,1569.48 1028.58,1574.52 1017.67,1560.87 1019.33,1559.13" fill="#000" stroke="#000" stroke-width="1.5" />
<ellipse cx="1028.75" cy="1569.84" rx="1.6" ry="1.6" fill="#fff" stroke="#000" stroke-width="1.2" />
<path d="M1033.0,1573.0 C1035.3,1574.5 1040.1,1580.0 1046.7,1582.0 C1053.3,1584.0 1062.8,1586.6 1072.4,1585.0 C1082.0,1583.4 1094.2,1575.5 1104.4,1572.3 C1114.6,1569.1 1125.3,1565.7 1133.3,1566.0 C1141.3,1566.3 1146.9,1567.8 1152.5,1574.0 C1158.1,1580.2 1164.6,1598.2 1167.0,1603.0" fill="none" stroke="#000" stroke-width="1.65" />
<path d="M899.0,1577.0 C903.8,1577.3 920.5,1576.0 928.0,1578.7 C935.5,1581.4 939.2,1583.1 944.0,1593.0 C948.8,1602.9 953.5,1624.2 957.0,1638.0 C960.5,1651.8 963.7,1669.7 965.0,1676.0" fill="none" stroke="#000" stroke-width="4.8" shape-rendering="geometricPrecision"/>
<path d="M899.0,1577.0 C903.8,1577.3 920.5,1576.0 928.0,1578.7 C935.5,1581.4 939.2,1583.1 944.0,1593.0 C948.8,1602.9 953.5,1624.2 957.0,1638.0 C960.5,1651.8 963.7,1669.7 965.0,1676.0" fill="none" stroke="#fff" stroke-width="2.2" shape-rendering="geometricPrecision"/>
<path d="M883.0,1599.5 C887.8,1600.0 904.5,1599.6 912.0,1602.8 C919.5,1606.0 922.7,1610.8 928.0,1618.8 C933.3,1626.8 938.4,1641.3 944.0,1650.8 C949.6,1660.3 958.8,1671.8 961.8,1676.0" fill="none" stroke="#000" stroke-width="4.8" shape-rendering="geometricPrecision"/>
<path d="M883.0,1599.5 C887.8,1600.0 904.5,1599.6 912.0,1602.8 C919.5,1606.0 922.7,1610.8 928.0,1618.8 C933.3,1626.8 938.4,1641.3 944.0,1650.8 C949.6,1660.3 958.8,1671.8 961.8,1676.0" fill="none" stroke="#fff" stroke-width="2.2" shape-rendering="geometricPrecision"/>
<polygon points="962.006,1677.19 967.994,1676.81 967.198,1692.93 964.802,1693.07" fill="#000" stroke="#000" stroke-width="1.5" />
<ellipse cx="965.18" cy="1679.88" rx="1.6" ry="1.6" fill="#fff" stroke="#000" stroke-width="1.2" />
<path d="M966.0,1678.0 C967.7,1676.2 970.0,1670.7 976.0,1667.0 C982.0,1663.3 990.0,1658.1 1001.8,1655.7 C1013.6,1653.3 1033.9,1655.9 1046.7,1652.4 C1059.5,1648.9 1069.2,1643.6 1078.8,1634.8 C1088.4,1626.0 1096.9,1608.3 1104.4,1599.5 C1111.9,1590.7 1117.8,1584.1 1123.7,1582.0 C1129.6,1579.9 1132.8,1582.7 1139.7,1586.7 C1146.6,1590.7 1161.0,1602.8 1165.3,1606.0" fill="none" stroke="#000" stroke-width="1.65" />
<path d="M861.5,1625.5 C863.8,1626.1 870.6,1624.1 875.4,1629.0 C880.1,1633.9 885.1,1644.8 890.0,1655.0 C894.9,1665.2 899.8,1680.8 905.0,1690.0 C910.2,1699.2 918.3,1706.7 921.0,1710.0" fill="none" stroke="#000" stroke-width="4.8" shape-rendering="geometricPrecision"/>
<path d="M861.5,1625.5 C863.8,1626.1 870.6,1624.1 875.4,1629.0 C880.1,1633.9 885.1,1644.8 890.0,1655.0 C894.9,1665.2 899.8,1680.8 905.0,1690.0 C910.2,1699.2 918.3,1706.7 921.0,1710.0" fill="none" stroke="#fff" stroke-width="2.2" shape-rendering="geometricPrecision"/>
<polygon points="919.101,1711.77 924.899,1710.23 927.159,1725.69 924.841,1726.31" fill="#000" stroke="#000" stroke-width="1.5" />
<ellipse cx="922.72" cy="1713.7" rx="1.6" ry="1.6" fill="#fff" stroke="#000" stroke-width="1.2" />
<path d="M925.0,1712.0 C930.8,1711.5 940.8,1711.0 960.0,1709.0 C979.2,1707.0 1015.9,1704.6 1040.0,1700.0 C1064.1,1695.4 1083.0,1686.5 1104.4,1681.3 C1125.8,1676.0 1151.5,1673.9 1168.6,1668.5 C1185.7,1663.1 1197.7,1655.4 1207.0,1649.0 C1216.3,1642.6 1223.1,1634.8 1224.7,1630.0 C1226.3,1625.2 1220.7,1622.3 1216.7,1620.4 C1212.7,1618.5 1205.4,1618.0 1200.6,1618.8 C1195.8,1619.6 1189.9,1624.1 1187.8,1625.2" fill="none" stroke="#000" stroke-width="1.65" />
<path d="M1184.6,1612.4 C1186.2,1606.0 1188.8,1585.2 1194.2,1574.0 C1199.6,1562.8 1207.6,1552.0 1216.7,1545.0 C1225.8,1538.0 1238.0,1534.2 1248.7,1532.2 C1259.4,1530.2 1270.7,1531.6 1280.8,1532.9 C1290.9,1534.2 1301.1,1536.9 1309.6,1540.2 C1318.1,1543.5 1328.3,1550.9 1332.0,1553.0" fill="none" stroke="#000" stroke-width="1.65" />
<path d="M1187.8,1625.2 C1189.9,1622.5 1194.2,1613.3 1200.6,1609.0 C1207.0,1604.7 1218.3,1600.8 1226.3,1599.5 C1234.3,1598.2 1242.8,1599.4 1248.7,1601.0 C1254.6,1602.6 1257.2,1609.8 1261.5,1609.0 C1265.8,1608.2 1269.1,1601.1 1274.4,1596.3 C1279.8,1591.5 1285.0,1584.3 1293.6,1580.3 C1302.1,1576.3 1320.3,1573.6 1325.7,1572.3" fill="none" stroke="#000" stroke-width="1.65" />
<polygon points="1141.3,1609 1163.7,1605.3 1184.6,1615.6 1162,1620.4" fill="#fff" stroke="#000" stroke-width="2.1" />
<polygon points="1141.3,1609 1162,1620.4 1162,1646 1139,1633" fill="#fff" stroke="#000" stroke-width="2.7" />
<polygon points="1162,1620.4 1184.6,1615.6 1184.6,1631.6 1170,1647.6 1162,1646" fill="#fff" stroke="#000" stroke-width="2.1" />
<polyline points="1166,1621 1166,1647" fill="none" stroke="#000" stroke-width="3.3" />
<polyline points="1170,1620 1170,1647.6" fill="none" stroke="#000" stroke-width="1.8" />
<polyline points="1139,1613 1139,1633" fill="none" stroke="#000" stroke-width="3.3" />
<ellipse cx="1159" cy="1610.5" rx="1.4" ry="1" fill="#000" stroke="#000" stroke-width="1.5" />
<ellipse cx="1170" cy="1615" rx="1.4" ry="1" fill="#000" stroke="#000" stroke-width="1.5" />
<polygon points="1324,1561 1345,1550 1367.3,1556.3 1344,1569" fill="#fff" stroke="#000" stroke-width="2.1" />
<polygon points="1324,1561 1341.7,1570.7 1341.7,1594.7 1324,1580.3" fill="#fff" stroke="#000" stroke-width="2.1" />
<polygon points="1341.7,1570.7 1369,1558 1369,1582 1349.7,1594.7 1341.7,1594.7" fill="#fff" stroke="#000" stroke-width="2.4" />
<polyline points="1345,1570 1345,1595" fill="none" stroke="#000" stroke-width="3.6" />
<polyline points="1349.5,1568 1349.5,1594" fill="none" stroke="#000" stroke-width="1.8" />
<polyline points="1341.7,1570.7 1345,1566 1369,1553.5" fill="none" stroke="#000" stroke-width="1.8" />
<path d="M582.5,1527.5 C584.1,1530.4 588.4,1540.1 592.0,1545.0 C595.6,1549.9 599.8,1553.7 604.0,1557.0 C608.2,1560.3 615.2,1563.7 617.5,1565.0" fill="none" stroke="#000" stroke-width="3" />
<path d="M590.0,1522.5 C591.7,1525.4 596.3,1535.1 600.0,1540.0 C603.7,1544.9 607.7,1548.7 612.0,1552.0 C616.3,1555.3 623.7,1558.7 626.0,1560.0" fill="none" stroke="#000" stroke-width="3" />
<ellipse cx="617.5" cy="1565" rx="1.8" ry="1.8" fill="#000" stroke="#000" stroke-width="1.5" />
<ellipse cx="626" cy="1560" rx="1.8" ry="1.8" fill="#000" stroke="#000" stroke-width="1.5" />
<polyline points="1851.5,144 1851.5,196" fill="none" stroke="#000" stroke-width="1.65" stroke-dasharray="40 3 3 3"/>
<polyline points="1851.5,292 1851.5,312" fill="none" stroke="#000" stroke-width="1.65" stroke-dasharray="40 3 3 3"/>
<polyline points="1851.5,450 1851.5,530" fill="none" stroke="#000" stroke-width="1.65" stroke-dasharray="40 3 3 3"/>
<polyline points="1851.5,596 1851.5,627" fill="none" stroke="#000" stroke-width="1.65" stroke-dasharray="40 3 3 3"/>
<path d="M1752.2,226 L1752.2,240 A99.8,50 0 0 0 1951.8,240 L1951.8,226 Z" fill="#fff" stroke="#000" stroke-width="1.95" />
<polyline points="1951.8,233 1951.3,238.2 1949.6,243.4 1946.9,248.5 1943.2,253.3 1938.4,258 1932.7,262.4 1926.2,266.5 1918.8,270.2 1910.7,273.5 1901.9,276.3 1892.6,278.7 1882.8,280.6 1872.7,281.9 1862.4,282.7 1852,283 1841.6,282.7 1831.3,281.9 1821.2,280.6 1811.4,278.7 1802.1,276.3 1793.3,273.5 1785.2,270.2 1777.8,266.5 1771.3,262.4 1765.6,258 1760.8,253.3 1757.1,248.5 1754.4,243.4 1752.7,238.2 1752.2,233" fill="none" stroke="#000" stroke-width="1.8" />
<ellipse cx="1852" cy="226" rx="99.8" ry="50" fill="#fff" stroke="#000" stroke-width="2.4" />
<polyline points="1758.3,212.6 1760.7,209 1763.6,205.5 1767.1,202.1 1771.2,198.9 1775.7,195.8 1780.7,192.9 1786.1,190.2 1792,187.8" fill="none" stroke="#000" stroke-width="5" />
<polyline points="1912,187.8 1917.9,190.2 1923.3,192.9 1928.3,195.8 1932.8,198.9 1936.9,202.1 1940.4,205.5 1943.3,209 1945.7,212.6" fill="none" stroke="#000" stroke-width="5" />
<ellipse cx="1852" cy="226" rx="93" ry="46.5" fill="none" stroke="#000" stroke-width="1.8" />
<ellipse cx="1852" cy="224" rx="86" ry="42" fill="none" stroke="#000" stroke-width="1.8" />
<ellipse cx="1852" cy="220" rx="72" ry="34" fill="none" stroke="#000" stroke-width="1.95" />
<ellipse cx="1852" cy="216" rx="63" ry="28" fill="none" stroke="#000" stroke-width="1.8" />
<polyline points="1891.5,263.5 1882,265.5 1872.2,266.9 1862.2,267.7 1852,268 1841.8,267.7 1831.8,266.9 1822,265.5 1812.5,263.5" fill="none" stroke="#000" stroke-width="5" />
<polyline points="1897,262.1 1888.6,264.2 1879.8,265.8 1870.7,267 1861.4,267.8 1852,268 1842.6,267.8 1833.3,267 1824.2,265.8 1815.4,264.2 1807,262.1" fill="none" stroke="#000" stroke-width="1.8" />
<polyline points="1895.2,268.7 1886.1,270.8 1876.7,272.4 1866.9,273.4 1857,273.9 1847,273.9 1837.1,273.4 1827.3,272.4 1817.9,270.8 1808.8,268.7" fill="none" stroke="#000" stroke-width="1.8" />
<polyline points="1812,262 1812,274" fill="none" stroke="#000" stroke-width="2.25" />
<polyline points="1893,262 1893,274" fill="none" stroke="#000" stroke-width="2.25" />
<polyline points="1779,212 1800,203 1825,193" fill="none" stroke="#000" stroke-width="1.95" />
<polyline points="1925,212 1904,203 1879,193" fill="none" stroke="#000" stroke-width="1.95" />
<path d="M1781,213 L1799,208 L1812,215 L1825,232 L1822,250" fill="none" stroke="#000" stroke-width="1.95" />
<path d="M1923,213 L1905,208 L1892,215 L1879,232 L1882,250" fill="none" stroke="#000" stroke-width="1.95" />
<path d="M1797,205 L1797,216 M1906,205 L1906,216" fill="none" stroke="#000" stroke-width="1.8" />
<path d="M1822,250 L1882,250 M1826,232 L1878,232 M1822,232 L1822,250 M1882,232 L1882,250" fill="none" stroke="#000" stroke-width="2.25" />
<path d="M1846,226 L1858,226 L1858,238 L1864,238 L1852,251 L1840,238 L1846,238 Z" fill="#fff" stroke="#000" stroke-width="1.95" />
<path d="M1835,226 L1852,222 L1869,226" fill="none" stroke="#000" stroke-width="1.95" />
<path d="M1824.7,194 L1824.7,210 A27.3,14 0 0 0 1879.3,210 L1879.3,194 Z" fill="#fff" stroke="#000" stroke-width="3.6" />
<ellipse cx="1852" cy="194" rx="27.3" ry="14" fill="#fff" stroke="#000" stroke-width="3.6" />
<path d="M1833,196 L1833,206 A19,9 0 0 0 1869,206" fill="none" stroke="#000" stroke-width="3.75" />
<polyline points="1836,206 1836.1,205.4 1836.3,204.8 1836.8,204.1 1837.4,203.6 1838.1,203 1839.1,202.5 1840.1,202 1841.3,201.5 1842.6,201.1 1844,200.8 1845.5,200.5 1847.1,200.3 1848.7,200.1 1850.3,200 1852,200 1853.7,200 1855.3,200.1 1856.9,200.3 1858.5,200.5 1860,200.8 1861.4,201.1 1862.7,201.5 1863.9,202 1864.9,202.5 1865.9,203 1866.6,203.6 1867.2,204.1 1867.7,204.8 1867.9,205.4 1868,206" fill="none" stroke="#000" stroke-width="1.8" />
<polyline points="1872,200 1872,216" fill="none" stroke="#000" stroke-width="1.8" />
<polyline points="1876,198 1876,214" fill="none" stroke="#000" stroke-width="1.8" />
<path d="M1827.9,117.8 L1827.9,130 A23.9,13.6 0 0 0 1875.7,130 L1875.7,117.8 Z" fill="#fff" stroke="#000" stroke-width="1.95" />
<polyline points="1871.5,130.1 1870.7,131.3 1869.6,132.4 1868.3,133.4 1866.8,134.4 1865.2,135.3 1863.4,136 1861.5,136.7 1859.4,137.2 1857.3,137.6 1855.1,137.8 1852.9,138 1850.7,138 1848.5,137.8 1846.3,137.6 1844.2,137.2 1842.1,136.7 1840.2,136 1838.4,135.3 1836.8,134.4 1835.3,133.4 1834,132.4 1832.9,131.3 1832.1,130.1" fill="none" stroke="#000" stroke-width="1.8" />
<ellipse cx="1851.8" cy="117.8" rx="23.9" ry="13.6" fill="#fff" stroke="#000" stroke-width="2.25" />
<polyline points="1870.64,127.629 1870.64,136.629" fill="none" stroke="#000" stroke-width="1.8" />
<polyline points="1862.6,131.743 1862.6,140.743" fill="none" stroke="#000" stroke-width="1.8" />
<polyline points="1851.8,133.3 1851.8,142.3" fill="none" stroke="#000" stroke-width="1.8" />
<polyline points="1841,131.743 1841,140.743" fill="none" stroke="#000" stroke-width="1.8" />
<polyline points="1832.96,127.629 1832.96,136.629" fill="none" stroke="#000" stroke-width="1.8" />
<ellipse cx="1851.8" cy="115.1" rx="4" ry="2.6" fill="none" stroke="#000" stroke-width="1.8" />
<ellipse cx="1851.8" cy="115.3" rx="1.5" ry="1" fill="none" stroke="#000" stroke-width="1.5" />
<ellipse cx="1851.6" cy="381.4" rx="68.7" ry="68.7" fill="#fff" stroke="#000" stroke-width="2.25" />
<polygon points="1791.8,357.7 1840.6,354 1838.4,370.3 1795.5,363.6" fill="#fff" stroke="#000" stroke-width="1.8" />
<polyline points="1795.5,363.6 1838.4,370.3" fill="none" stroke="#000" stroke-width="3.24" />
<polygon points="1865,355.5 1908,354 1911.6,357 1864.3,370.3" fill="#fff" stroke="#000" stroke-width="1.8" />
<polygon points="1840.6,354 1842.4,342.9 1849.5,341.4 1854,348.8 1865,354.7" fill="#fff" stroke="#000" stroke-width="1.8" />
<polyline points="1842,348.5 1853,348.5" fill="none" stroke="#000" stroke-width="1.8" />
<polygon points="1837.7,372.5 1851,399.1 1854,407.3 1859.9,407.3 1861.3,394.7 1862.8,372.5" fill="#fff" stroke="#000" stroke-width="1.8" />
<polyline points="1850,397.5 1861.5,397.5" fill="none" stroke="#000" stroke-width="1.8" />
<polygon points="1840.6,354 1865,354.7 1864,372.5 1838.2,371.5" fill="#fff" stroke="#000" stroke-width="2.34" />
<polyline points="1838.2,371.8 1864,372.8" fill="none" stroke="#000" stroke-width="3.96" />
<ellipse cx="1851.8" cy="362.8" rx="5.2" ry="2.9" fill="none" stroke="#000" stroke-width="2.88" />
<ellipse cx="1843.5" cy="357" rx="1.5" ry="1.1" fill="none" stroke="#000" stroke-width="1.8" />
<ellipse cx="1860.5" cy="357.5" rx="1.5" ry="1.1" fill="none" stroke="#000" stroke-width="1.8" />
<ellipse cx="1842.5" cy="368" rx="1.5" ry="1.1" fill="none" stroke="#000" stroke-width="1.8" />
<ellipse cx="1859.5" cy="368.5" rx="1.5" ry="1.1" fill="none" stroke="#000" stroke-width="1.8" />
<path d="M1846,322 L1846,326 A5.5,2.5 0 0 0 1857,326 L1857,322 A5.5,6 0 0 0 1846,322 Z" fill="#fff" stroke="#000" stroke-width="1.95" />
<polyline points="1857,322 1857,322.3 1856.9,322.5 1856.7,322.8 1856.5,323 1856.3,323.2 1855.9,323.5 1855.6,323.7 1855.2,323.9 1854.7,324 1854.2,324.2 1853.7,324.3 1853.2,324.4 1852.6,324.4 1852.1,324.5 1851.5,324.5 1850.9,324.5 1850.4,324.4 1849.8,324.4 1849.3,324.3 1848.8,324.2 1848.3,324 1847.8,323.9 1847.4,323.7 1847.1,323.5 1846.7,323.2 1846.5,323 1846.3,322.8 1846.1,322.5 1846,322.3 1846,322" fill="none" stroke="#000" stroke-width="1.65" />
<ellipse cx="1851.3" cy="442" rx="7.8" ry="5.6" fill="#fff" stroke="#000" stroke-width="3.3" />
<ellipse cx="1851.3" cy="442" rx="4" ry="2.3" fill="none" stroke="#000" stroke-width="2.4" />
<polyline points="1920.3,381.5 2011.5,381.5" fill="none" stroke="#000" stroke-width="2.25" />
<polyline points="1851.5,313 1851.5,450" fill="none" stroke="#000" stroke-width="1.5" stroke-dasharray="50 3 3 3"/>
<path d="M1791,531 Q1795,527 1802,529 Q1825,534 1851,532 Q1885,530 1905,548 Q1914,560 1910,578 Q1912,588 1913,593 Q1909,598 1902,596 Q1875,590 1851,592 Q1815,594 1798,574 Q1792,562 1797,548 Q1796,540 1791,531 Z" fill="#fff" stroke="#000" stroke-width="2.4" />
<ellipse cx="1851.3" cy="562" rx="20" ry="11.8" fill="#fff" stroke="#000" stroke-width="2.4" />
<path d="M1806,539 Q1812,534 1822,538 Q1834,541 1834,545 Q1832,552 1822,553 L1815,553 Q1812,545 1806,541 Z" fill="#fff" stroke="#000" stroke-width="2.25" />
<path d="M1857,537 Q1862,533 1874,537 Q1890,543 1895,555 Q1893,560 1886,559 Q1882,550 1868,545 Q1858,543 1857,537 Z" fill="#fff" stroke="#000" stroke-width="2.25" />
<path d="M1810,566 Q1812,564 1819,565 Q1824,575 1838,580 Q1848,583 1846,588 Q1842,591 1832,588 Q1814,582 1810,570 Z" fill="#fff" stroke="#000" stroke-width="2.25" />
<path d="M1869,581 Q1872,573 1880,572 L1888,572 Q1890,580 1897,586 Q1896,591 1888,591 Q1876,589 1869,585 Z" fill="#fff" stroke="#000" stroke-width="2.25" />
<ellipse cx="1798" cy="535" rx="2" ry="1.6" fill="none" stroke="#000" stroke-width="2.1" />
<ellipse cx="1905.5" cy="592" rx="2.4" ry="2" fill="#000" stroke="#000" stroke-width="2.4" />
<polyline points="1797.7,463 1797.7,531" fill="none" stroke="#000" stroke-width="1.8" />
<polyline points="1905.3,526 1905.3,590" fill="none" stroke="#000" stroke-width="1.8" />
<path d="M1794.7,457.5 L1800.7,457.5 L1799.2,464.5 L1796.2,464.5 Z" fill="#000" stroke="#000" stroke-width="1.5" />
<path d="M1902.3,519.5 L1908.3,519.5 L1906.8,526.5 L1903.8,526.5 Z" fill="#000" stroke="#000" stroke-width="1.5" />
<polyline points="1851.5,532 1851.5,592" fill="none" stroke="#000" stroke-width="1.5" stroke-dasharray="40 3 3 3"/>
<path d="M1766.2,717 L1748,724.8 Q1744.5,727 1745.4,734.8 L1763.1,778 Q1765.5,784.2 1771,784.2 L1784,784.2" fill="#fff" stroke="#000" stroke-width="1.95" />
<path d="M1767,727 L1748.5,733.3 L1764.7,770.3 Q1767,775 1771.5,775 L1782,775" fill="none" stroke="#000" stroke-width="1.8" />
<polyline points="1774.5,775 1774.5,784.2" fill="none" stroke="#000" stroke-width="1.65" />
<path d="M1936.6,717 L1954.8,724.8 Q1958.3,727 1957.4,734.8 L1939.7,778 Q1937.3,784.2 1931.8,784.2 L1918.8,784.2" fill="#fff" stroke="#000" stroke-width="1.95" />
<path d="M1935.8,727 L1954.3,733.3 L1938.1,770.3 Q1935.8,775 1931.3,775 L1920.8,775" fill="none" stroke="#000" stroke-width="1.8" />
<polyline points="1928.3,775 1928.3,784.2" fill="none" stroke="#000" stroke-width="1.65" />
<path d="M1762,700 L1810.1,881 A41.65,24 0 0 0 1893.4,881 L1941,700 Z" fill="#fff" stroke="#000" stroke-width="1.95" />
<polyline points="1887.7,887.9 1885.6,889.9 1883.2,891.7 1880.4,893.5 1877.2,895 1873.8,896.4 1870.1,897.6 1866.2,898.5 1862.1,899.2 1857.9,899.7 1853.6,900 1849.2,900 1844.9,899.7 1840.7,899.2 1836.6,898.5 1832.7,897.6 1829,896.4 1825.6,895 1822.4,893.5 1819.6,891.7 1817.2,889.9 1815.1,887.9" fill="none" stroke="#000" stroke-width="1.65" />
<ellipse cx="1851.4" cy="684.1" rx="96.7" ry="56.9" fill="#fff" stroke="#000" stroke-width="3.2" />
<ellipse cx="1851.4" cy="684.1" rx="96.7" ry="56.9" fill="none" stroke="#fff" stroke-width="1.5" />
<ellipse cx="1851.4" cy="685" rx="92.5" ry="54" fill="none" stroke="#000" stroke-width="1.8" />
<path d="M1797.5,735 L1793,700 L1796,693 L1800,700 L1805.5,731" fill="none" stroke="#000" stroke-width="2.25" />
<polyline points="1796,701 1801,733" fill="none" stroke="#000" stroke-width="1.5" />
<path d="M1791.5,765 L1794.5,759.5 L1799.5,766 L1825,888 L1821.5,893.5 L1816,888 Z" fill="#fff" stroke="#000" stroke-width="2.1" />
<polyline points="1795,766 1820.5,888" fill="none" stroke="#000" stroke-width="1.65" />
<path d="M1905.3,735 L1909.8,700 L1906.8,693 L1902.8,700 L1897.3,731" fill="none" stroke="#000" stroke-width="2.25" />
<polyline points="1906.8,701 1901.8,733" fill="none" stroke="#000" stroke-width="1.5" />
<path d="M1911.3,765 L1908.3,759.5 L1903.3,766 L1877.8,888 L1881.3,893.5 L1886.8,888 Z" fill="#fff" stroke="#000" stroke-width="2.1" />
<polyline points="1907.8,766 1882.3,888" fill="none" stroke="#000" stroke-width="1.65" />
<ellipse cx="1795.5" cy="684" rx="7" ry="4.3" fill="none" stroke="#000" stroke-width="2.4" />
<polyline points="1795,676 1795,686 1800,687" fill="none" stroke="#000" stroke-width="2.4" />
<polyline points="1851.5,628 1851.5,740" fill="none" stroke="#000" stroke-width="1.5" stroke-dasharray="60 3 3 3"/>
<polyline points="1823.9,895 1823.9,999" fill="none" stroke="#000" stroke-width="2.4" />
<polyline points="1857.9,905 1857.9,1018" fill="none" stroke="#000" stroke-width="1.95" />
<polyline points="1870.9,902 1870.9,991" fill="none" stroke="#000" stroke-width="1.8" />
<ellipse cx="1851.6" cy="948.6" rx="25.9" ry="25.9" fill="none" stroke="#000" stroke-width="2.1" />
<path d="M1842.1,935 L1842.1,965 A9.6,4 0 0 0 1861.4,965 L1861.4,935" fill="#fff" stroke="#000" stroke-width="2.4" />
<ellipse cx="1851.7" cy="934.6" rx="9.6" ry="4.2" fill="#fff" stroke="#000" stroke-width="2.4" />
<ellipse cx="1851.7" cy="935" rx="6.5" ry="2.6" fill="none" stroke="#000" stroke-width="1.8" />
<polyline points="1857.9,937 1857.9,966" fill="none" stroke="#000" stroke-width="1.95" />
<polyline points="1877.5,947.5 2011.5,947.5" fill="none" stroke="#000" stroke-width="1.95" />
<path d="M1781.5,1020 L1781.5,1043.6 A70,35 0 0 0 1921.5,1043.6 L1921.5,1020 A70,40 0 0 0 1781.5,1020 Z" fill="#fff" stroke="#000" stroke-width="2.1" />
<polyline points="1921.5,1020 1921.1,1024 1920,1028 1918.1,1031.9 1915.4,1035.7 1912.1,1039.2 1908.1,1042.6 1903.5,1045.8 1898.3,1048.6 1892.6,1051.1 1886.5,1053.3 1880,1055.2 1873.1,1056.6 1866.1,1057.7 1858.8,1058.3 1851.5,1058.5 1844.2,1058.3 1836.9,1057.7 1829.9,1056.6 1823,1055.2 1816.5,1053.3 1810.4,1051.1 1804.7,1048.6 1799.5,1045.8 1794.9,1042.6 1790.9,1039.2 1787.6,1035.7 1784.9,1031.9 1783,1028 1781.9,1024 1781.5,1020" fill="none" stroke="#000" stroke-width="1.8" />
<ellipse cx="1851.5" cy="1020.8" rx="64.6" ry="38" fill="#fff" stroke="#000" stroke-width="1.8" />
<ellipse cx="1851.5" cy="1013.6" rx="55" ry="36" fill="#fff" stroke="#000" stroke-width="1.8" />
<ellipse cx="1851.5" cy="1004.7" rx="49.8" ry="28.5" fill="#fff" stroke="#000" stroke-width="2.25" />
<ellipse cx="1824.5" cy="1000.2" rx="5" ry="3" fill="none" stroke="#000" stroke-width="1.8" />
<ellipse cx="1824.5" cy="1000.7" rx="3.4" ry="1.8" fill="#000" stroke="#000" stroke-width="1.5" />
<ellipse cx="1871.3" cy="992.7" rx="5" ry="3" fill="none" stroke="#000" stroke-width="1.8" />
<ellipse cx="1871.3" cy="993.2" rx="3.4" ry="1.8" fill="#000" stroke="#000" stroke-width="1.5" />
<ellipse cx="1858.8" cy="1018.9" rx="5" ry="3" fill="none" stroke="#000" stroke-width="1.8" />
<ellipse cx="1858.8" cy="1019.4" rx="3.4" ry="1.8" fill="#000" stroke="#000" stroke-width="1.5" />
<ellipse cx="1851.6" cy="1004.3" rx="11.5" ry="7" fill="#fff" stroke="#000" stroke-width="2.7" />
<ellipse cx="1851.6" cy="1005.5" rx="7" ry="4" fill="none" stroke="#000" stroke-width="1.8" />
<polyline points="1823.9,985 1823.9,999" fill="none" stroke="#000" stroke-width="2.4" />
<polyline points="1857.9,985 1857.9,1017" fill="none" stroke="#000" stroke-width="1.95" />
<polyline points="1870.9,980 1870.9,991" fill="none" stroke="#000" stroke-width="1.8" />
<polyline points="1851.6,970 1851.6,1003" fill="none" stroke="#000" stroke-width="1.65" stroke-dasharray="20 3 3 3"/>
<polyline points="1824.8,1078 1824.8,1124" fill="none" stroke="#000" stroke-width="2.1" stroke-dasharray="30 3 3 3"/>
<polyline points="1851.6,1080 1851.6,1166" fill="none" stroke="#000" stroke-width="1.65" stroke-dasharray="40 3 3 3"/>
<polyline points="1862,1080 1862,1108" fill="none" stroke="#000" stroke-width="1.95" />
<polyline points="1866.8,1078 1866.8,1135" fill="none" stroke="#000" stroke-width="1.95" stroke-dasharray="30 3 3 3"/>
<ellipse cx="1824.8" cy="1126.3" rx="5.4" ry="3.2" fill="#fff" stroke="#000" stroke-width="2.25" />
<ellipse cx="1824.8" cy="1126.3" rx="2.5" ry="1.3" fill="#000" stroke="#000" stroke-width="1.5" />
<ellipse cx="1824.8" cy="1141.8" rx="5" ry="5.2" fill="#000" stroke="#000" stroke-width="1.8" />
<ellipse cx="1824.8" cy="1143" rx="2.6" ry="1.5" fill="#fff" stroke="#000" stroke-width="1.5" />
<ellipse cx="1862" cy="1110.5" rx="5.5" ry="3.3" fill="#000" stroke="#000" stroke-width="1.8" />
<ellipse cx="1862" cy="1126.6" rx="5.6" ry="6" fill="#000" stroke="#000" stroke-width="1.8" />
<polyline points="1860,1128 1864,1128" fill="none" stroke="#fff" stroke-width="1.5" />
<ellipse cx="1866.8" cy="1137.3" rx="5.5" ry="3.3" fill="#000" stroke="#000" stroke-width="1.8" />
<ellipse cx="1866.8" cy="1152.5" rx="5.6" ry="6" fill="#000" stroke="#000" stroke-width="1.8" />
<polyline points="1865,1154 1869,1154" fill="none" stroke="#fff" stroke-width="1.5" />
<polyline points="1862,1114 1862,1121" fill="none" stroke="#000" stroke-width="3" />
<polyline points="1866.8,1141 1866.8,1147" fill="none" stroke="#000" stroke-width="3" />
<ellipse cx="1851.6" cy="1225.7" rx="59.1" ry="59.1" fill="none" stroke="#000" stroke-width="2.25" />
<ellipse cx="1851.6" cy="1177.5" rx="9.5" ry="6" fill="#fff" stroke="#000" stroke-width="3" />
<ellipse cx="1851.6" cy="1177.5" rx="5.5" ry="3" fill="none" stroke="#000" stroke-width="1.95" />
<polyline points="1851.6,1184 1851.6,1209" fill="none" stroke="#000" stroke-width="1.65" stroke-dasharray="12 3 3 3"/>
<path d="M1838.04,1250.52 L1845.61,1247.42 L1857.99,1247.42 L1865.56,1250.52 L1865.56,1271.6 L1857.31,1275.63 L1844.92,1275.63 L1838.04,1271.6 Z" fill="#fff" stroke="#000" stroke-width="2.1" />
<path d="M1838.04,1255.48 L1844.92,1258.58 L1857.31,1258.58 L1865.56,1255.48" fill="none" stroke="#000" stroke-width="3.3" />
<path d="M1838.04,1259.82 L1844.92,1262.92 L1857.31,1262.92 L1865.56,1259.82" fill="none" stroke="#000" stroke-width="1.8" />
<path d="M1838.04,1264.16 L1844.92,1267.26 L1857.31,1267.26 L1865.56,1264.16" fill="none" stroke="#000" stroke-width="3.3" />
<path d="M1838.04,1268.5 L1844.92,1271.6 L1857.31,1271.6 L1865.56,1268.5" fill="none" stroke="#000" stroke-width="1.8" />
<path d="M1838.04,1272.22 L1844.92,1275.32 L1857.31,1275.32 L1865.56,1272.22" fill="none" stroke="#000" stroke-width="3.3" />
<polyline points="1844.92,1254.24 1844.92,1275.63" fill="none" stroke="#000" stroke-width="1.8" />
<polyline points="1857.31,1254.24 1857.31,1275.63" fill="none" stroke="#000" stroke-width="1.8" />
<path d="M1838.04,1250.52 L1844.92,1254.24 L1857.31,1254.24 L1865.56,1250.52" fill="none" stroke="#000" stroke-width="1.95" />
<path d="M1847.31,1220.76 L1847.31,1254.24 A4.495,1.86 0 0 0 1856.29,1254.24 L1856.29,1220.76 Z" fill="#fff" stroke="#000" stroke-width="2.25" />
<polyline points="1856.3,1220.8 1856.3,1221 1856.2,1221.1 1856.1,1221.3 1855.9,1221.5 1855.7,1221.7 1855.4,1221.9 1855.1,1222 1854.8,1222.1 1854.4,1222.3 1854,1222.4 1853.6,1222.5 1853.2,1222.5 1852.7,1222.6 1852.3,1222.6 1851.8,1222.6 1851.3,1222.6 1850.9,1222.6 1850.4,1222.5 1850,1222.5 1849.6,1222.4 1849.2,1222.3 1848.8,1222.1 1848.5,1222 1848.2,1221.9 1847.9,1221.7 1847.7,1221.5 1847.5,1221.3 1847.4,1221.1 1847.3,1221 1847.3,1220.8" fill="none" stroke="#000" stroke-width="1.8" />
<path d="M1848.7,1210.22 L1848.7,1220.14 L1854.9,1220.14 L1854.9,1210.22 Z" fill="#fff" stroke="#000" stroke-width="2.1" />
<ellipse cx="1851.8" cy="1210.53" rx="3.1" ry="1.24" fill="#fff" stroke="#000" stroke-width="1.95" />
<polyline points="1847.31,1222.62 1856.29,1222.62" fill="none" stroke="#000" stroke-width="2.4" />
<polyline points="1910.7,1226.5 2011.5,1226.5" fill="none" stroke="#000" stroke-width="2.1" />
<polyline points="2011.5,381.5 2011.5,1226.5" fill="none" stroke="#000" stroke-width="2.25" />
<polyline points="1873.6,1353 1873.6,1378" fill="none" stroke="#000" stroke-width="2.4" />
<polyline points="1873.6,1481 1873.6,1511" fill="none" stroke="#000" stroke-width="2.4" />
<polyline points="1873.6,1529 1873.6,1578" fill="none" stroke="#000" stroke-width="2.4" stroke-dasharray="24 3 4 3"/>
<polyline points="1873.6,1635 1873.6,1674" fill="none" stroke="#000" stroke-width="2.4" />
<polyline points="1873.6,1692 1873.6,1727" fill="none" stroke="#000" stroke-width="1.8" stroke-dasharray="10 3 3 3"/>
<path d="M1865,1344 L1865,1350 L1869,1353 L1878.5,1353 L1882.8,1350 L1882.8,1344 A8.9,8.5 0 0 0 1865,1344 Z" fill="#fff" stroke="#000" stroke-width="2.1" />
<path d="M1865,1344 L1869,1346.5 L1878.5,1346.5 L1882.8,1344 M1869,1346.5 L1869,1353 M1878.5,1346.5 L1878.5,1353" fill="none" stroke="#000" stroke-width="1.8" />
<polygon points="1780.9,1402.41 1856.54,1396.68 1853.13,1421.94 1786.64,1411.56" fill="#fff" stroke="#000" stroke-width="1.5" />
<polyline points="1786.64,1411.56 1853.13,1421.94" fill="none" stroke="#000" stroke-width="2.7" />
<polygon points="1894.36,1399 1961.01,1396.68 1966.59,1401.33 1893.28,1421.94" fill="#fff" stroke="#000" stroke-width="1.5" />
<polygon points="1856.54,1396.68 1859.33,1379.47 1870.34,1377.14 1877.31,1388.62 1894.36,1397.76" fill="#fff" stroke="#000" stroke-width="1.5" />
<polyline points="1858.71,1388.15 1875.76,1388.15" fill="none" stroke="#000" stroke-width="1.5" />
<polygon points="1852.05,1425.35 1872.66,1466.58 1877.31,1479.29 1886.46,1479.29 1888.62,1459.76 1890.95,1425.35" fill="#fff" stroke="#000" stroke-width="1.5" />
<polyline points="1871.11,1464.1 1888.94,1464.1" fill="none" stroke="#000" stroke-width="1.5" />
<polygon points="1856.54,1396.68 1894.36,1397.76 1892.81,1425.35 1852.82,1423.8" fill="#fff" stroke="#000" stroke-width="1.95" />
<polyline points="1852.82,1424.27 1892.81,1425.82" fill="none" stroke="#000" stroke-width="3.3" />
<ellipse cx="1873.9" cy="1410.32" rx="8.06" ry="4.495" fill="none" stroke="#000" stroke-width="2.4" />
<ellipse cx="1861.04" cy="1401.33" rx="2.325" ry="1.705" fill="none" stroke="#000" stroke-width="1.5" />
<ellipse cx="1887.39" cy="1402.1" rx="2.325" ry="1.705" fill="none" stroke="#000" stroke-width="1.5" />
<ellipse cx="1859.49" cy="1418.38" rx="2.325" ry="1.705" fill="none" stroke="#000" stroke-width="1.5" />
<ellipse cx="1885.84" cy="1419.15" rx="2.325" ry="1.705" fill="none" stroke="#000" stroke-width="1.5" />
<polyline points="1873.6,1378 1873.6,1400" fill="none" stroke="#000" stroke-width="2.4" />
<ellipse cx="1873.6" cy="1520.1" rx="11.8" ry="9.2" fill="#fff" stroke="#000" stroke-width="2.4" />
<ellipse cx="1873.6" cy="1518" rx="11" ry="7" fill="none" stroke="#000" stroke-width="1.95" />
<ellipse cx="1873.6" cy="1520" rx="7" ry="4.2" fill="none" stroke="#000" stroke-width="2.4" />
<polyline points="1873.6,1511 1873.6,1524" fill="none" stroke="#000" stroke-width="2.4" />
<path d="M1860,1585 L1860,1630 A13.7,6 0 0 0 1887.5,1630 L1887.5,1585" fill="#fff" stroke="#000" stroke-width="2.1" />
<ellipse cx="1873.6" cy="1584" rx="16" ry="10" fill="#fff" stroke="#000" stroke-width="2.4" />
<ellipse cx="1873.6" cy="1584" rx="11.5" ry="6.5" fill="none" stroke="#000" stroke-width="2.4" />
<polyline points="1887.1,1590.2 1886.8,1590.9 1886.3,1591.7 1885.6,1592.3 1884.9,1593 1884,1593.6 1883,1594.1 1881.8,1594.6 1880.6,1595 1879.3,1595.4 1877.9,1595.6 1876.5,1595.8 1875.1,1596 1873.6,1596 1872.1,1596 1870.7,1595.8 1869.3,1595.6 1867.9,1595.4 1866.6,1595 1865.4,1594.6 1864.2,1594.1 1863.2,1593.6 1862.3,1593 1861.6,1592.3 1860.9,1591.7 1860.4,1590.9 1860.1,1590.2" fill="none" stroke="#000" stroke-width="1.65" />
<polyline points="1873.6,1578 1873.6,1590" fill="none" stroke="#000" stroke-width="2.4" />
<ellipse cx="1873.6" cy="1683.5" rx="15" ry="9" fill="#fff" stroke="#000" stroke-width="2.4" />
<ellipse cx="1873.6" cy="1683.5" rx="8.5" ry="4.5" fill="none" stroke="#000" stroke-width="2.7" />
<polyline points="1873.6,1674 1873.6,1688" fill="none" stroke="#000" stroke-width="2.4" />
<path d="M1851.4,1792 L1863.61,1787 L1883.59,1787 L1895.8,1792 L1895.8,1826 L1882.48,1832.5 L1862.5,1832.5 L1851.4,1826 Z" fill="#fff" stroke="#000" stroke-width="2.1" />
<path d="M1851.4,1800 L1862.5,1805 L1882.48,1805 L1895.8,1800" fill="none" stroke="#000" stroke-width="3.3" />
<path d="M1851.4,1807 L1862.5,1812 L1882.48,1812 L1895.8,1807" fill="none" stroke="#000" stroke-width="1.8" />
<path d="M1851.4,1814 L1862.5,1819 L1882.48,1819 L1895.8,1814" fill="none" stroke="#000" stroke-width="3.3" />
<path d="M1851.4,1821 L1862.5,1826 L1882.48,1826 L1895.8,1821" fill="none" stroke="#000" stroke-width="1.8" />
<path d="M1851.4,1827 L1862.5,1832 L1882.48,1832 L1895.8,1827" fill="none" stroke="#000" stroke-width="3.3" />
<polyline points="1862.5,1798 1862.5,1832.5" fill="none" stroke="#000" stroke-width="1.8" />
<polyline points="1882.48,1798 1882.48,1832.5" fill="none" stroke="#000" stroke-width="1.8" />
<path d="M1851.4,1792 L1862.5,1798 L1882.48,1798 L1895.8,1792" fill="none" stroke="#000" stroke-width="1.95" />
<path d="M1866.35,1744 L1866.35,1798 A7.25,3 0 0 0 1880.85,1798 L1880.85,1744 Z" fill="#fff" stroke="#000" stroke-width="2.25" />
<polyline points="1880.8,1744 1880.8,1744.3 1880.7,1744.6 1880.5,1744.9 1880.2,1745.2 1879.9,1745.5 1879.5,1745.8 1879,1746 1878.5,1746.2 1877.9,1746.4 1877.2,1746.6 1876.5,1746.7 1875.8,1746.9 1875.1,1746.9 1874.4,1747 1873.6,1747 1872.8,1747 1872.1,1746.9 1871.4,1746.9 1870.7,1746.7 1870,1746.6 1869.3,1746.4 1868.7,1746.2 1868.2,1746 1867.7,1745.8 1867.3,1745.5 1867,1745.2 1866.7,1744.9 1866.5,1744.6 1866.4,1744.3 1866.3,1744" fill="none" stroke="#000" stroke-width="1.8" />
<path d="M1868.6,1727 L1868.6,1743 L1878.6,1743 L1878.6,1727 Z" fill="#fff" stroke="#000" stroke-width="2.1" />
<ellipse cx="1873.6" cy="1727.5" rx="5" ry="2" fill="#fff" stroke="#000" stroke-width="1.95" />
<polyline points="1866.35,1747 1880.85,1747" fill="none" stroke="#000" stroke-width="2.4" />
<polygon points="1213.7,160.9 1213.7,167.4 1277.2,204 1392.2,138.3 1392.2,131.8 1328.7,94.4" fill="#fff" stroke="#000" stroke-width="1.3" />
<polyline points="1213.7,160.9 1277.2,197.5 1392.2,131.8" fill="none" stroke="#000" stroke-width="1.3" />
<polyline points="1277.2,197.5 1277.2,204" fill="none" stroke="#000" stroke-width="1.3" />
<ellipse cx="1277.2" cy="161.4" rx="25.5" ry="15" fill="#fff" stroke="#000" stroke-width="1.4" />
<polyline points="1252.4,164.1 1253,162.6 1253.7,161.2 1254.8,159.8 1256.1,158.5 1257.6,157.3 1259.4,156.2 1261.3,155.2 1263.4,154.3 1265.7,153.6 1268.1,153 1270.7,152.5 1273.2,152.2 1275.9,152 1278.5,152 1281.2,152.2 1283.7,152.5 1286.3,153 1288.7,153.6 1291,154.3 1293.1,155.2 1295,156.2 1296.8,157.3 1298.3,158.5 1299.6,159.8 1300.7,161.2 1301.4,162.6 1302,164.1" fill="none" stroke="#000" stroke-width="1.2" />
<ellipse cx="1329.5" cy="126" rx="24" ry="14.7" fill="#fff" stroke="#000" stroke-width="1.4" />
<polyline points="1353.4,130.8 1353.1,132.3 1352.4,133.8 1351.6,135.3 1350.4,136.7 1349.1,138 1347.5,139.2 1345.7,140.3 1343.8,141.3 1341.6,142.2 1339.4,142.9 1337,143.5 1334.5,143.9 1332,144.1 1329.5,144.2 1327,144.1 1324.5,143.9 1322,143.5 1319.6,142.9 1317.4,142.2 1315.2,141.3 1313.3,140.3 1311.5,139.2 1309.9,138 1308.6,136.7 1307.4,135.3 1306.6,133.8 1305.9,132.3 1305.6,130.8" fill="none" stroke="#000" stroke-width="1.2" />
<ellipse cx="1329.5" cy="124" rx="11.5" ry="7" fill="#fff" stroke="#000" stroke-width="1.4" />
<polyline points="1320,128.2 1320.2,127.7 1320.4,127.3 1320.8,126.9 1321.2,126.5 1321.8,126.2 1322.4,125.9 1323.1,125.6 1323.9,125.3 1324.7,125 1325.6,124.9 1326.5,124.7 1327.5,124.6 1328.5,124.5 1329.5,124.5 1330.5,124.5 1331.5,124.6 1332.5,124.7 1333.4,124.9 1334.3,125 1335.1,125.3 1335.9,125.6 1336.6,125.9 1337.2,126.2 1337.8,126.5 1338.2,126.9 1338.6,127.3 1338.8,127.7 1339,128.2" fill="none" stroke="#000" stroke-width="1.2" />
<polygon points="1373,225.7 1436.6,189 1501.3,225.7 1436,263" fill="#fff" stroke="#000" stroke-width="1.4" />
<polyline points="1373,225.7 1373,227.5 1436,265 1501.3,227.5" fill="none" stroke="#000" stroke-width="1.6" />
<ellipse cx="1435.3" cy="225.7" rx="16" ry="9.5" fill="none" stroke="#000" stroke-width="1.3" />
<polygon points="1436.6,168.4 1487.6,139.8 1551.1,175.9 1551.1,197.5 1501.3,226 1436.6,189" fill="#fff" stroke="#000" stroke-width="1.4" />
<polyline points="1436.6,168.4 1501.3,204.5 1551.1,175.9" fill="none" stroke="#000" stroke-width="1.4" />
<polyline points="1501.3,204.5 1501.3,226" fill="none" stroke="#000" stroke-width="1.4" />
<polyline points="1501.3,204.5 1545,179.5 1545,190 1551.1,197.5" fill="none" stroke="#000" stroke-width="1.2" />
<polyline points="1545,190 1503,214" fill="none" stroke="#000" stroke-width="1.2" />
<ellipse cx="1493.9" cy="150.2" rx="5" ry="3" fill="none" stroke="#000" stroke-width="1.3" />
<polyline points="1489.9,151.2 1490,151 1490.1,150.8 1490.2,150.5 1490.4,150.3 1490.6,150.1 1490.9,149.9 1491.2,149.8 1491.5,149.6 1491.9,149.5 1492.3,149.4 1492.6,149.3 1493.1,149.2 1493.5,149.2 1493.9,149.2 1494.3,149.2 1494.7,149.2 1495.2,149.3 1495.5,149.4 1495.9,149.5 1496.3,149.6 1496.6,149.8 1496.9,149.9 1497.2,150.1 1497.4,150.3 1497.6,150.5 1497.7,150.8 1497.8,151 1497.9,151.2" fill="none" stroke="#000" stroke-width="1" />
<ellipse cx="1457" cy="171.6" rx="5" ry="3" fill="none" stroke="#000" stroke-width="1.3" />
<polyline points="1453,172.6 1453.1,172.4 1453.2,172.2 1453.3,171.9 1453.5,171.7 1453.7,171.5 1454,171.3 1454.3,171.2 1454.6,171 1455,170.9 1455.4,170.8 1455.7,170.7 1456.2,170.6 1456.6,170.6 1457,170.6 1457.4,170.6 1457.8,170.6 1458.3,170.7 1458.6,170.8 1459,170.9 1459.4,171 1459.7,171.2 1460,171.3 1460.3,171.5 1460.5,171.7 1460.7,171.9 1460.8,172.2 1460.9,172.4 1461,172.6" fill="none" stroke="#000" stroke-width="1" />
<ellipse cx="1531.2" cy="171.6" rx="5" ry="3" fill="none" stroke="#000" stroke-width="1.3" />
<polyline points="1527.2,172.6 1527.3,172.4 1527.4,172.2 1527.5,171.9 1527.7,171.7 1527.9,171.5 1528.2,171.3 1528.5,171.2 1528.8,171 1529.2,170.9 1529.6,170.8 1529.9,170.7 1530.4,170.6 1530.8,170.6 1531.2,170.6 1531.6,170.6 1532,170.6 1532.5,170.7 1532.8,170.8 1533.2,170.9 1533.6,171 1533.9,171.2 1534.2,171.3 1534.5,171.5 1534.7,171.7 1534.9,171.9 1535,172.2 1535.1,172.4 1535.2,172.6" fill="none" stroke="#000" stroke-width="1" />
<ellipse cx="1493.9" cy="193.3" rx="5" ry="3" fill="none" stroke="#000" stroke-width="1.3" />
<polyline points="1489.9,194.3 1490,194.1 1490.1,193.9 1490.2,193.6 1490.4,193.4 1490.6,193.2 1490.9,193 1491.2,192.9 1491.5,192.7 1491.9,192.6 1492.3,192.5 1492.6,192.4 1493.1,192.3 1493.5,192.3 1493.9,192.3 1494.3,192.3 1494.7,192.3 1495.2,192.4 1495.5,192.5 1495.9,192.6 1496.3,192.7 1496.6,192.9 1496.9,193 1497.2,193.2 1497.4,193.4 1497.6,193.6 1497.7,193.9 1497.8,194.1 1497.9,194.3" fill="none" stroke="#000" stroke-width="1" />
<polygon points="1379,354.8 1439.1,389.3 1439.1,491.4 1373.5,529 1313.4,494.1 1313.4,392.4" fill="#fff" stroke="#000" stroke-width="1.4" />
<polyline points="1313.4,392.4 1373.5,426.3 1439.1,389.3" fill="none" stroke="#000" stroke-width="1.4" />
<polyline points="1373.5,426.3 1373.5,529" fill="none" stroke="#000" stroke-width="1.4" />
<path d="M1543.1,1993 Q1543.5,1987.5 1550,1986 Q1613.8,1971 1676,1986 Q1682,1987.5 1682,1993 L1664.2,2079 L1560.9,2079 Z" fill="#141414" stroke="none" stroke-width="0" />
<polygon points="1556,2079 1668.9,2079 1658.4,2135.6 1568.3,2135.6" fill="#a9a9a9" stroke="none" stroke-width="0" />
<path d="M1573.5,2135.6 L1652.6,2135.6 L1646.5,2167 Q1645,2173.3 1638,2173.3 L1588.5,2173.3 Q1582.5,2173.3 1581,2167 Z" fill="#141414" stroke="none" stroke-width="0" />
<text transform="translate(1592.23 2009.80) scale(0.8856 1)" font-family='"DejaVu Sans", sans-serif' font-weight="bold" font-style="normal" font-size="15.07" fill="#fff" >COPO</text>
<text transform="translate(1561.23 2024.50) scale(0.9332 1)" font-family='"DejaVu Sans", sans-serif' font-weight="bold" font-style="normal" font-size="15.07" fill="#fff" >MONOBLOCO</text>
<text transform="translate(1565.38 2043.40) scale(0.9216 1)" font-family='"DejaVu Sans Light", "DejaVu Sans", sans-serif' font-weight="200" font-style="normal" font-size="15.89" fill="#fff" >SEM SOLDAS</text>
<polyline points="1568.3,2051.2 1657.9,2051.2" fill="none" stroke="#bbb" stroke-width="0.8" />
<text transform="translate(1579.28 2063.10) scale(1.0940 1)" font-family='"DejaVu Sans", sans-serif' font-weight="bold" font-style="normal" font-size="8.36" fill="#fff" >PATENTEADO</text>
<text transform="translate(1584.36 2123.50) scale(0.9166 1)" font-family='"DejaVu Sans", sans-serif' font-weight="bold" font-style="normal" font-size="46.58" fill="#fff" stroke="#555" stroke-width="0.8">L6</text>
<text transform="translate(1591.23 2155.30) scale(1.1840 1)" font-family='"DejaVu Sans", sans-serif' font-weight="bold" font-style="normal" font-size="6.85" fill="#fff" >Skymsen</text>
<ellipse cx="1611.5" cy="2153.5" rx="11" ry="3" fill="none" stroke="#888" stroke-width="0.8" transform="rotate(40 1611.5 2153.5)"/>
<rect x="1724.1" y="1932.9" width="138.9" height="180" rx="13" ry="13" fill="#000"/>
<rect x="1730.8" y="1940.3" width="125.8" height="101.1" rx="7" ry="7" fill="#fff"/>
<rect x="1730.8" y="2044.9" width="125.8" height="60.6" rx="7" ry="7" fill="#fff"/>
<text transform="translate(1758.47 1959.00) scale(1.0488 1)" font-family='"Liberation Sans", sans-serif' font-weight="bold" font-style="normal" font-size="13.77" fill="#000" >Segurança</text>
<rect x="1744.1" y="1970.1" width="48" height="6.4" fill="#222"/>
<rect x="1744.1" y="2012.3" width="48" height="5.9" fill="#222"/>
<polygon points="1758.4,1976.5 1778.1,1976.5 1778.1,1994.5" fill="#222" stroke="none" stroke-width="0" />
<polygon points="1757.9,1993 1757.9,2012.3 1779.1,2012.3" fill="#222" stroke="none" stroke-width="0" />
<text transform="translate(1743.37 2028.60) scale(1.1528 1)" font-family='"Liberation Sans", sans-serif' font-weight="normal" font-style="italic" font-size="9.28" fill="#000" >INMETRO</text>
<ellipse cx="1822" cy="1991.6" rx="19" ry="19" fill="#fff" stroke="#222" stroke-width="3.4" />
<text transform="translate(1811.11 1997.00) scale(0.6777 1)" font-family='"Liberation Sans", sans-serif' font-weight="bold" font-style="normal" font-size="24.35" fill="#222" >U</text>
<text transform="translate(1823.45 2002.90) scale(0.6822 1)" font-family='"Liberation Sans", sans-serif' font-weight="bold" font-style="normal" font-size="23.62" fill="#222" >L</text>
<ellipse cx="1817.1" cy="2001" rx="2.6" ry="2.6" fill="none" stroke="#222" stroke-width="0.7" />
<text transform="translate(1815.94 2002.20) scale(0.9107 1)" font-family='"Liberation Sans", sans-serif' font-weight="bold" font-style="normal" font-size="4.53" fill="#222" >c</text>
<text transform="translate(1815.96 2022.10) scale(0.9815 1)" font-family='"Liberation Sans", sans-serif' font-weight="bold" font-style="normal" font-size="10.00" fill="#222" >BR</text>
<text transform="translate(1806.94 2029.50) scale(1.3355 1)" font-family='"Liberation Sans", sans-serif' font-weight="bold" font-style="normal" font-size="4.93" fill="#222" >OCP-0029</text>
<path d="M1762.8,2056.5 Q1770,2059 1778,2054.5 Q1787,2050 1794.4,2053.5 L1794.4,2093 Q1787,2089.5 1778,2094 Q1770,2098.5 1762.8,2095 Z" fill="#fff" stroke="#000" stroke-width="1.2" />
<path d="M1794.4,2053.5 Q1802,2050 1811,2054.5 Q1819,2059 1827,2056.5 L1827,2095 Q1819,2098.5 1811,2094 Q1802,2089.5 1794.4,2093 Z" fill="#fff" stroke="#000" stroke-width="1.2" />
<polyline points="1794.4,2053.5 1794.4,2093" fill="none" stroke="#555" stroke-width="1.6" />
<ellipse cx="1811.2" cy="2066" rx="3.8" ry="3.8" fill="#000" stroke="#000" stroke-width="0" />
<path d="M1805.5,2073 L1814.8,2073 L1814.8,2084.8 L1818.1,2084.8 L1818.1,2087.8 L1803.8,2087.8 L1803.8,2084.8 L1808,2084.8 L1808,2076 L1805.5,2076 Z" fill="#000" stroke="none" stroke-width="0" />
<text transform="translate(1855 2078) rotate(90)" font-family='"Liberation Sans", sans-serif' font-size="4.5" fill="#666">627704</text>
<g transform="rotate(47 1798.9 2174.4)"><path d="M1757.9,2174.4 a41,13.5 0 1 0 82,0 a41,13.5 0 1 0 -82,0 Z M1768,2175.4 a32,8 0 1 0 64,0 a32,8 0 1 0 -64,0 Z" fill="#4a4a4a" fill-rule="evenodd"/></g>
<text transform="translate(1734.00 2180.80) scale(1.1898 1)" font-family='"DejaVu Sans", sans-serif' font-weight="bold" font-style="normal" font-size="21.64" fill="#1a1a1a" stroke="#fff" stroke-width="3.5" paint-order="stroke" stroke-linejoin="round">Skymsen</text>
<text transform="translate(1745.78 2706.3) skewX(-13) scale(1.0712 1)" font-family='"Liberation Sans", sans-serif' font-weight="bold" font-style="italic" font-size="63.77" stroke="#000" stroke-width="3.2">SKYMSEN</text>
<g transform="rotate(42.4 1923.5 2677.8)"><path d="M1813.9,2677.8 a109.6,31 0 1 0 219.2,0 a109.6,31 0 1 0 -219.2,0 Z M1843.5,2677.3 a80,22 0 1 0 160,0 a80,22 0 1 0 -160,0 Z" fill="#383838" fill-rule="evenodd"/></g>
<ellipse cx="2105.5" cy="2670.4" rx="4.6" ry="4.6" fill="none" stroke="#000" stroke-width="1.5" />
<text transform="translate(2103.06 2673.20) scale(0.8653 1)" font-family='"Liberation Sans", sans-serif' font-weight="bold" font-style="normal" font-size="7.83" fill="#000" >R</text>
<g transform="rotate(28 414.8 2737)"><path d="M336.8,2737 a78,50 0 1 0 156,0 a78,50 0 1 0 -156,0 Z M364,2735 a50,34 0 1 0 100,0 a50,34 0 1 0 -100,0 Z" fill="#8a8a8a" fill-rule="evenodd"/><path d="M338.8,2737 a76,47 0 1 0 152,0 a76,47 0 1 0 -152,0 Z M362,2737 a53,37 0 1 0 106,0 a53,37 0 1 0 -106,0 Z" fill="#3c3c3c" fill-rule="evenodd"/></g>
<polygon points="373.2,2668.6 377,2667.5 403,2680 398,2684" fill="#777" stroke="none" stroke-width="0" />
<polygon points="457.2,2805 453.5,2806 437,2790 442,2787" fill="#777" stroke="none" stroke-width="0" />
<path d="M398,2705 L418,2695 L444,2708 L452,2740 L440,2760 L440,2790 L402,2792 L392,2760 L378,2756 L380,2722 Z" fill="#fff" stroke="none" stroke-width="0" />
<ellipse cx="413" cy="2691" rx="13" ry="17.5" fill="#fff" stroke="#000" stroke-width="2.6" />
<path d="M400,2685 Q402,2667 417,2667 Q428,2669 427,2683 L402,2682 Z" fill="#fff" stroke="#000" stroke-width="2.6" />
<path d="M389,2685 L403,2677 L406,2685 Z" fill="#000" stroke="#000" stroke-width="2.6" />
<path d="M404,2673 L424,2672 M406,2670 L422,2669" fill="none" stroke="#000" stroke-width="1.6" />
<path d="M406,2688 L411,2686 M416,2686 L422,2688" fill="none" stroke="#000" stroke-width="2.4" />
<ellipse cx="409" cy="2691" rx="1.6" ry="2" fill="#000" stroke="#000" stroke-width="1" />
<ellipse cx="418.5" cy="2691" rx="1.6" ry="2" fill="#000" stroke="#000" stroke-width="1" />
<path d="M411,2697 L414,2700 L417,2697 M407,2703 Q414,2709 421,2702 M408,2704 L420,2703" fill="none" stroke="#000" stroke-width="2" />
<path d="M424,2677 L428,2690 L426,2702" fill="none" stroke="#000" stroke-width="2" />
<path d="M402,2710 L412,2724 L426,2710 L438,2712 L449,2726 L445,2748 L438,2757 L440,2763" fill="none" stroke="#000" stroke-width="2.6" />
<path d="M402,2710 L391,2713 L379,2724 L382,2738 L378,2755 L392,2758" fill="none" stroke="#000" stroke-width="2.6" />
<polygon points="402,2710 396,2722 407,2732 412,2724" fill="#222" stroke="#000" stroke-width="1.5" />
<polygon points="426,2710 431,2722 420,2732 412,2724" fill="#222" stroke="#000" stroke-width="1.5" />
<polygon points="391,2713 379,2724 383,2730 396,2722" fill="#222" stroke="#000" stroke-width="1.5" />
<path d="M410,2726 L410,2762 M396,2732 L396,2752 L408,2754 M418,2732 L433,2730 L431,2746 L418,2748 Z" fill="none" stroke="#000" stroke-width="2.2" />
<path d="M421,2736 L428,2741 M422,2743 L428,2737 M399,2736 L406,2736 M399,2741 L406,2741" fill="none" stroke="#000" stroke-width="1.8" />
<path d="M431,2712 L436,2728 M437,2713 L442,2727" fill="none" stroke="#000" stroke-width="2" />
<path d="M449,2726 L455,2743 L450,2753 Q459,2756 458,2745" fill="none" stroke="#000" stroke-width="2.6" />
<path d="M428,2751 L447,2749" fill="none" stroke="#000" stroke-width="3" />
<ellipse cx="451" cy="2750" rx="5" ry="5.5" fill="#fff" stroke="#000" stroke-width="2.4" />
<path d="M449,2748 L453,2752 M453,2748 L449,2752" fill="none" stroke="#000" stroke-width="1.6" />
<path d="M382,2738 L389,2760 L383,2765" fill="none" stroke="#000" stroke-width="2.6" />
<path d="M386,2742 L392,2758" fill="none" stroke="#000" stroke-width="1.6" />
<polygon points="392,2757 438,2756 438,2762 393,2763" fill="#222" stroke="#000" stroke-width="1.5" />
<path d="M394,2763 L389,2783 L408,2787 L412,2769 L423,2791 L438,2789 L431,2762" fill="none" stroke="#000" stroke-width="2.6" />
<path d="M414,2768 L421,2785 M398,2768 L395,2782 M433,2768 L436,2786" fill="none" stroke="#000" stroke-width="1.6" />
<path d="M372,2765 L400,2763 L400,2785 L372,2784 Z" fill="#fff" stroke="#000" stroke-width="2.6" />
<path d="M372,2771 L400,2769" fill="none" stroke="#000" stroke-width="2.4" />
<path d="M379,2763 L379,2758 L394,2757 L394,2763" fill="none" stroke="#000" stroke-width="2.4" />
<polygon points="383,2770 389,2770 389,2774 383,2774" fill="#000" stroke="#000" stroke-width="1" />
<path d="M378,2793 Q380,2784 391,2786 L408,2788 Q413,2797 407,2801 L383,2802 Q376,2799 378,2793 Z" fill="#fff" stroke="#000" stroke-width="2.6" />
<path d="M412,2795 Q414,2786 425,2788 L440,2789 Q444,2798 438,2802 L416,2803 Q410,2800 412,2795 Z" fill="#fff" stroke="#000" stroke-width="2.6" />
<path d="M380,2798 L408,2797 M414,2799 L440,2798" fill="none" stroke="#000" stroke-width="3" stroke-dasharray="3 1.5"/>
<path d="M384,2790 L404,2792 M418,2792 L436,2793" fill="none" stroke="#000" stroke-width="1.6" />
<path id="arcp" d="M353.40,2782.11 A80.5,80.5 0 1 1 479.40,2782.11" fill="none"/>
<text font-family='"Liberation Sans", sans-serif' font-weight="bold" font-size="28" fill="#000" stroke="#000" stroke-width="1.3"><textPath href="#arcp" textLength="361.1" lengthAdjust="spacingAndGlyphs">ASSISTÊNCIA  TÉCNICA  AUTORIZADA</textPath></text>
</g>
</svg>
</body></html>
